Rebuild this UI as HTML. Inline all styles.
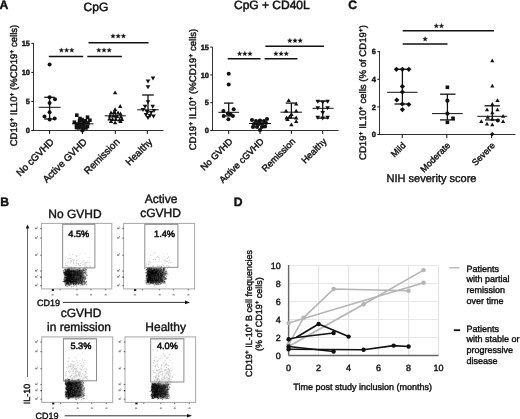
<!DOCTYPE html>
<html><head><meta charset="utf-8"><style>
html,body{margin:0;padding:0;background:#fff;}
svg{display:block;filter:grayscale(1);}
text{font-family:"Liberation Sans",sans-serif;text-rendering:geometricPrecision;stroke:#111;stroke-width:0.4px;}
</style></head><body>
<svg width="520" height="419" viewBox="0 0 520 419">
<defs><linearGradient id="cg" x1="0" x2="1" y1="0" y2="0"><stop offset="0" stop-color="#111"/><stop offset="0.6" stop-color="#1a1a1a"/><stop offset="1" stop-color="#555"/></linearGradient><filter id="bl" x="-30%" y="-30%" width="160%" height="160%"><feGaussianBlur stdDeviation="0.8"/></filter><filter id="bl2" x="-30%" y="-30%" width="160%" height="160%"><feGaussianBlur stdDeviation="1.3"/></filter></defs>
<rect width="520" height="419" fill="#fff"/>
<text x="-0.6" y="8.7" font-size="12.2" text-anchor="start" font-weight="bold" fill="#111" stroke="#000" stroke-width="0.35">A</text>
<text x="83.6" y="10.8" font-size="12" text-anchor="start" fill="#111" style="stroke-width:0.5px">CpG</text>
<line x1="33.5" y1="43" x2="33.5" y2="131.0" stroke="#333" stroke-width="1.0"/>
<line x1="33.0" y1="130.5" x2="163.5" y2="130.5" stroke="#333" stroke-width="1.0"/>
<line x1="31.3" y1="130.5" x2="33.5" y2="130.5" stroke="#111" stroke-width="1"/>
<text x="30.0" y="133.1" font-size="7.5" text-anchor="end" font-weight="bold" fill="#111">0</text>
<line x1="31.3" y1="101.45" x2="33.5" y2="101.45" stroke="#111" stroke-width="1"/>
<text x="30.0" y="104.05" font-size="7.5" text-anchor="end" font-weight="bold" fill="#111">5</text>
<line x1="31.3" y1="72.4" x2="33.5" y2="72.4" stroke="#111" stroke-width="1"/>
<text x="30.0" y="75.0" font-size="7.5" text-anchor="end" font-weight="bold" fill="#111">10</text>
<line x1="31.3" y1="43.35000000000001" x2="33.5" y2="43.35000000000001" stroke="#111" stroke-width="1"/>
<text x="30.0" y="45.95000000000001" font-size="7.5" text-anchor="end" font-weight="bold" fill="#111">15</text>
<line x1="49.6" y1="130.5" x2="49.6" y2="134.0" stroke="#111" stroke-width="1"/>
<line x1="82.5" y1="130.5" x2="82.5" y2="134.0" stroke="#111" stroke-width="1"/>
<line x1="115.3" y1="130.5" x2="115.3" y2="134.0" stroke="#111" stroke-width="1"/>
<line x1="147.3" y1="130.5" x2="147.3" y2="134.0" stroke="#111" stroke-width="1"/>
<text x="17" y="85.5" font-size="9.6" text-anchor="middle" fill="#111" transform="rotate(-90 17 85.5)">CD19<tspan baseline-shift="super" font-size="70%">+</tspan> IL10<tspan baseline-shift="super" font-size="70%">+</tspan> (%CD19<tspan baseline-shift="super" font-size="70%">+</tspan> cells)</text>
<text x="54.6" y="142.5" font-size="9.8" text-anchor="end" fill="#111" transform="rotate(-45 54.6 142.5)">No cGVHD</text>
<text x="87.5" y="142.5" font-size="9.8" text-anchor="end" fill="#111" transform="rotate(-45 87.5 142.5)">Active GVHD</text>
<text x="120.3" y="142.5" font-size="9.8" text-anchor="end" fill="#111" transform="rotate(-45 120.3 142.5)">Remission</text>
<text x="153" y="142.5" font-size="9.8" text-anchor="end" fill="#111" transform="rotate(-45 153 142.5)">Healthy</text>
<line x1="48.8" y1="56.5" x2="83.2" y2="56.5" stroke="#111" stroke-width="1.5"/>
<polygon points="61.40,47.85 60.78,49.45 59.07,49.54 60.40,50.62 59.96,52.28 61.40,51.35 62.84,52.28 62.40,50.62 63.73,49.54 62.02,49.45" fill="#111" stroke="#111" stroke-width="0.3" stroke-linejoin="round"/>
<polygon points="66.60,47.85 65.98,49.45 64.27,49.54 65.60,50.62 65.16,52.28 66.60,51.35 68.04,52.28 67.60,50.62 68.93,49.54 67.22,49.45" fill="#111" stroke="#111" stroke-width="0.3" stroke-linejoin="round"/>
<polygon points="71.80,47.85 71.18,49.45 69.47,49.54 70.80,50.62 70.36,52.28 71.80,51.35 73.24,52.28 72.80,50.62 74.13,49.54 72.42,49.45" fill="#111" stroke="#111" stroke-width="0.3" stroke-linejoin="round"/>
<line x1="87.3" y1="56.5" x2="121.9" y2="56.5" stroke="#111" stroke-width="1.5"/>
<polygon points="98.80,47.85 98.18,49.45 96.47,49.54 97.80,50.62 97.36,52.28 98.80,51.35 100.24,52.28 99.80,50.62 101.13,49.54 99.42,49.45" fill="#111" stroke="#111" stroke-width="0.3" stroke-linejoin="round"/>
<polygon points="104.00,47.85 103.38,49.45 101.67,49.54 103.00,50.62 102.56,52.28 104.00,51.35 105.44,52.28 105.00,50.62 106.33,49.54 104.62,49.45" fill="#111" stroke="#111" stroke-width="0.3" stroke-linejoin="round"/>
<polygon points="109.20,47.85 108.58,49.45 106.87,49.54 108.20,50.62 107.76,52.28 109.20,51.35 110.64,52.28 110.20,50.62 111.53,49.54 109.82,49.45" fill="#111" stroke="#111" stroke-width="0.3" stroke-linejoin="round"/>
<line x1="88.5" y1="42.7" x2="148.5" y2="42.7" stroke="#111" stroke-width="1.5"/>
<polygon points="113.00,33.65 112.38,35.25 110.67,35.34 112.00,36.42 111.56,38.08 113.00,37.15 114.44,38.08 114.00,36.42 115.33,35.34 113.62,35.25" fill="#111" stroke="#111" stroke-width="0.3" stroke-linejoin="round"/>
<polygon points="118.20,33.65 117.58,35.25 115.87,35.34 117.20,36.42 116.76,38.08 118.20,37.15 119.64,38.08 119.20,36.42 120.53,35.34 118.82,35.25" fill="#111" stroke="#111" stroke-width="0.3" stroke-linejoin="round"/>
<polygon points="123.40,33.65 122.78,35.25 121.07,35.34 122.40,36.42 121.96,38.08 123.40,37.15 124.84,38.08 124.40,36.42 125.73,35.34 124.02,35.25" fill="#111" stroke="#111" stroke-width="0.3" stroke-linejoin="round"/>
<circle cx="49.6" cy="64.6" r="2" fill="#111"/>
<circle cx="49.6" cy="97.3" r="2" fill="#111"/>
<circle cx="55" cy="99.3" r="2" fill="#111"/>
<circle cx="49.6" cy="102.9" r="2" fill="#111"/>
<circle cx="49.6" cy="112.2" r="2" fill="#111"/>
<circle cx="44.5" cy="116.6" r="2" fill="#111"/>
<circle cx="49.6" cy="119.4" r="2" fill="#111"/>
<circle cx="54.7" cy="118.4" r="2" fill="#111"/>
<line x1="49.6" y1="97.3" x2="49.6" y2="119" stroke="#111" stroke-width="1.3"/>
<line x1="44.3" y1="97.3" x2="54.7" y2="97.3" stroke="#111" stroke-width="1.3"/>
<line x1="44.3" y1="119" x2="54.7" y2="119" stroke="#111" stroke-width="1.3"/>
<line x1="38.8" y1="107.3" x2="60.6" y2="107.3" stroke="#111" stroke-width="1.0"/>
<rect x="75.0" y="113.4" width="3.6" height="3.6" fill="#111"/>
<rect x="85.7" y="115.4" width="3.6" height="3.6" fill="#111"/>
<rect x="88.10000000000001" y="118.4" width="3.6" height="3.6" fill="#111"/>
<rect x="72.60000000000001" y="120.4" width="3.6" height="3.6" fill="#111"/>
<rect x="80.3" y="117.8" width="3.6" height="3.6" fill="#111"/>
<rect x="76.2" y="122.2" width="3.6" height="3.6" fill="#111"/>
<rect x="78.2" y="125.2" width="3.6" height="3.6" fill="#111"/>
<rect x="82.2" y="123.2" width="3.6" height="3.6" fill="#111"/>
<rect x="84.2" y="126.2" width="3.6" height="3.6" fill="#111"/>
<rect x="74.7" y="125.7" width="3.6" height="3.6" fill="#111"/>
<rect x="86.2" y="121.2" width="3.6" height="3.6" fill="#111"/>
<rect x="81.2" y="119.7" width="3.6" height="3.6" fill="#111"/>
<rect x="77.7" y="119.2" width="3.6" height="3.6" fill="#111"/>
<rect x="83.7" y="119.0" width="3.6" height="3.6" fill="#111"/>
<rect x="79.2" y="122.7" width="3.6" height="3.6" fill="#111"/>
<rect x="76.7" y="126.0" width="3.6" height="3.6" fill="#111"/>
<rect x="81.2" y="126.2" width="3.6" height="3.6" fill="#111"/>
<rect x="85.7" y="124.7" width="3.6" height="3.6" fill="#111"/>
<rect x="82.7" y="120.7" width="3.6" height="3.6" fill="#111"/>
<rect x="78.2" y="116.7" width="3.6" height="3.6" fill="#111"/>
<rect x="74.7" y="122.7" width="3.6" height="3.6" fill="#111"/>
<circle cx="82.4" cy="130.3" r="2.2" fill="#111"/>
<line x1="72" y1="123.8" x2="93.5" y2="123.8" stroke="#111" stroke-width="1.0"/>
<polygon points="112.89999999999999,94.214 117.3,94.214 115.1,90.386" fill="#111"/>
<polygon points="118.0,107.914 122.4,107.914 120.2,104.086" fill="#111"/>
<polygon points="112.89999999999999,111.114 117.3,111.114 115.1,107.286" fill="#111"/>
<polygon points="108.8,114.414 113.2,114.414 111,110.586" fill="#111"/>
<polygon points="111.8,113.914 116.2,113.914 114,110.086" fill="#111"/>
<polygon points="115.8,114.414 120.2,114.414 118,110.586" fill="#111"/>
<polygon points="118.3,115.414 122.7,115.414 120.5,111.586" fill="#111"/>
<polygon points="107.8,117.414 112.2,117.414 110,113.586" fill="#111"/>
<polygon points="111.3,117.414 115.7,117.414 113.5,113.586" fill="#111"/>
<polygon points="114.8,117.914 119.2,117.914 117,114.086" fill="#111"/>
<polygon points="118.8,118.414 123.2,118.414 121,114.586" fill="#111"/>
<polygon points="107.3,120.414 111.7,120.414 109.5,116.586" fill="#111"/>
<polygon points="110.3,120.914 114.7,120.914 112.5,117.086" fill="#111"/>
<polygon points="113.8,120.914 118.2,120.914 116,117.086" fill="#111"/>
<polygon points="117.3,121.414 121.7,121.414 119.5,117.586" fill="#111"/>
<polygon points="119.8,120.914 124.2,120.914 122,117.086" fill="#111"/>
<polygon points="108.8,122.914 113.2,122.914 111,119.086" fill="#111"/>
<polygon points="112.89999999999999,124.31400000000001 117.3,124.31400000000001 115.1,120.486" fill="#111"/>
<polygon points="118.3,122.914 122.7,122.914 120.5,119.086" fill="#111"/>
<line x1="104.7" y1="115.8" x2="125.8" y2="115.8" stroke="#111" stroke-width="1.0"/>
<line x1="115.3" y1="111" x2="115.3" y2="120" stroke="#111" stroke-width="1.2"/>
<polygon points="150.7,76.59899999999999 155.3,76.59899999999999 153,80.601" fill="#111"/>
<polygon points="145.7,79.399 150.3,79.399 148,83.40100000000001" fill="#111"/>
<polygon points="145.7,85.199 150.3,85.199 148,89.20100000000001" fill="#111"/>
<polygon points="142.79999999999998,104.79899999999999 147.4,104.79899999999999 145.1,108.801" fill="#111"/>
<polygon points="150.39999999999998,104.79899999999999 155.0,104.79899999999999 152.7,108.801" fill="#111"/>
<polygon points="145.7,100.199 150.3,100.199 148,104.20100000000001" fill="#111"/>
<polygon points="140.7,107.999 145.3,107.999 143,112.001" fill="#111"/>
<polygon points="144.7,109.999 149.3,109.999 147,114.001" fill="#111"/>
<polygon points="148.7,110.999 153.3,110.999 151,115.001" fill="#111"/>
<polygon points="151.7,108.999 156.3,108.999 154,113.001" fill="#111"/>
<polygon points="143.7,112.999 148.3,112.999 146,117.001" fill="#111"/>
<polygon points="147.7,113.999 152.3,113.999 150,118.001" fill="#111"/>
<polygon points="151.2,114.499 155.8,114.499 153.5,118.501" fill="#111"/>
<polygon points="145.7,115.999 150.3,115.999 148,120.001" fill="#111"/>
<line x1="148" y1="95" x2="148" y2="113" stroke="#111" stroke-width="1.3"/>
<line x1="142.2" y1="95" x2="153.7" y2="95" stroke="#111" stroke-width="1.3"/>
<line x1="137.2" y1="109.8" x2="158.7" y2="109.8" stroke="#111" stroke-width="1.0"/>
<text x="234" y="9.3" font-size="12" text-anchor="start" fill="#111" style="stroke-width:0.5px">CpG + CD40L</text>
<line x1="212.5" y1="47" x2="212.5" y2="131.0" stroke="#333" stroke-width="1.0"/>
<line x1="212.0" y1="130.5" x2="338.5" y2="130.5" stroke="#333" stroke-width="1.0"/>
<line x1="210.3" y1="130.5" x2="212.5" y2="130.5" stroke="#111" stroke-width="1"/>
<text x="209.0" y="133.1" font-size="7.5" text-anchor="end" font-weight="bold" fill="#111">0</text>
<line x1="210.3" y1="102.7" x2="212.5" y2="102.7" stroke="#111" stroke-width="1"/>
<text x="209.0" y="105.3" font-size="7.5" text-anchor="end" font-weight="bold" fill="#111">5</text>
<line x1="210.3" y1="74.9" x2="212.5" y2="74.9" stroke="#111" stroke-width="1"/>
<text x="209.0" y="77.5" font-size="7.5" text-anchor="end" font-weight="bold" fill="#111">10</text>
<line x1="210.3" y1="47.10000000000001" x2="212.5" y2="47.10000000000001" stroke="#111" stroke-width="1"/>
<text x="209.0" y="49.70000000000001" font-size="7.5" text-anchor="end" font-weight="bold" fill="#111">15</text>
<line x1="228.7" y1="130.5" x2="228.7" y2="134.0" stroke="#111" stroke-width="1"/>
<line x1="260" y1="130.5" x2="260" y2="134.0" stroke="#111" stroke-width="1"/>
<line x1="291.4" y1="130.5" x2="291.4" y2="134.0" stroke="#111" stroke-width="1"/>
<line x1="322.7" y1="130.5" x2="322.7" y2="134.0" stroke="#111" stroke-width="1"/>
<text x="196.3" y="89.5" font-size="9.6" text-anchor="middle" fill="#111" transform="rotate(-90 196.3 89.5)">CD19<tspan baseline-shift="super" font-size="70%">+</tspan> IL10<tspan baseline-shift="super" font-size="70%">+</tspan> (%CD19<tspan baseline-shift="super" font-size="70%">+</tspan> cells)</text>
<text x="233.2" y="142.0" font-size="9.2" text-anchor="end" fill="#111" transform="rotate(-45 233.2 142.0)">No GVHD</text>
<text x="264.5" y="142.0" font-size="9.2" text-anchor="end" fill="#111" transform="rotate(-45 264.5 142.0)">Active cGVHD</text>
<text x="295.9" y="142.0" font-size="9.2" text-anchor="end" fill="#111" transform="rotate(-45 295.9 142.0)">Remission</text>
<text x="327.2" y="142.0" font-size="9.2" text-anchor="end" fill="#111" transform="rotate(-45 327.2 142.0)">Healthy</text>
<line x1="227.7" y1="58.8" x2="260.5" y2="58.8" stroke="#111" stroke-width="1.5"/>
<polygon points="239.60,51.35 238.98,52.95 237.27,53.04 238.60,54.12 238.16,55.78 239.60,54.85 241.04,55.78 240.60,54.12 241.93,53.04 240.22,52.95" fill="#111" stroke="#111" stroke-width="0.3" stroke-linejoin="round"/>
<polygon points="244.80,51.35 244.18,52.95 242.47,53.04 243.80,54.12 243.36,55.78 244.80,54.85 246.24,55.78 245.80,54.12 247.13,53.04 245.42,52.95" fill="#111" stroke="#111" stroke-width="0.3" stroke-linejoin="round"/>
<polygon points="250.00,51.35 249.38,52.95 247.67,53.04 249.00,54.12 248.56,55.78 250.00,54.85 251.44,55.78 251.00,54.12 252.33,53.04 250.62,52.95" fill="#111" stroke="#111" stroke-width="0.3" stroke-linejoin="round"/>
<line x1="264.6" y1="58.8" x2="297.4" y2="58.8" stroke="#111" stroke-width="1.5"/>
<polygon points="275.90,51.35 275.28,52.95 273.57,53.04 274.90,54.12 274.46,55.78 275.90,54.85 277.34,55.78 276.90,54.12 278.23,53.04 276.52,52.95" fill="#111" stroke="#111" stroke-width="0.3" stroke-linejoin="round"/>
<polygon points="281.10,51.35 280.48,52.95 278.77,53.04 280.10,54.12 279.66,55.78 281.10,54.85 282.54,55.78 282.10,54.12 283.43,53.04 281.72,52.95" fill="#111" stroke="#111" stroke-width="0.3" stroke-linejoin="round"/>
<polygon points="286.30,51.35 285.68,52.95 283.97,53.04 285.30,54.12 284.86,55.78 286.30,54.85 287.74,55.78 287.30,54.12 288.63,53.04 286.92,52.95" fill="#111" stroke="#111" stroke-width="0.3" stroke-linejoin="round"/>
<line x1="265.3" y1="46.2" x2="323.9" y2="46.2" stroke="#111" stroke-width="1.5"/>
<polygon points="289.80,38.25 289.18,39.85 287.47,39.94 288.80,41.02 288.36,42.68 289.80,41.75 291.24,42.68 290.80,41.02 292.13,39.94 290.42,39.85" fill="#111" stroke="#111" stroke-width="0.3" stroke-linejoin="round"/>
<polygon points="295.00,38.25 294.38,39.85 292.67,39.94 294.00,41.02 293.56,42.68 295.00,41.75 296.44,42.68 296.00,41.02 297.33,39.94 295.62,39.85" fill="#111" stroke="#111" stroke-width="0.3" stroke-linejoin="round"/>
<polygon points="300.20,38.25 299.58,39.85 297.87,39.94 299.20,41.02 298.76,42.68 300.20,41.75 301.64,42.68 301.20,41.02 302.53,39.94 300.82,39.85" fill="#111" stroke="#111" stroke-width="0.3" stroke-linejoin="round"/>
<circle cx="228.7" cy="73.7" r="2" fill="#111"/>
<circle cx="228.7" cy="84.6" r="2" fill="#111"/>
<circle cx="233.7" cy="109.3" r="2" fill="#111"/>
<circle cx="223.4" cy="111" r="2" fill="#111"/>
<circle cx="227.9" cy="113.5" r="2" fill="#111"/>
<circle cx="223.7" cy="116" r="2" fill="#111"/>
<circle cx="232.9" cy="116" r="2" fill="#111"/>
<circle cx="228.4" cy="119.3" r="2" fill="#111"/>
<circle cx="230.5" cy="114" r="2" fill="#111"/>
<line x1="228.7" y1="103.1" x2="228.7" y2="116" stroke="#111" stroke-width="1.3"/>
<line x1="224" y1="103.1" x2="233.4" y2="103.1" stroke="#111" stroke-width="1.3"/>
<line x1="224" y1="116" x2="233.4" y2="116" stroke="#111" stroke-width="1.2"/>
<line x1="218.4" y1="112.3" x2="239.1" y2="112.3" stroke="#111" stroke-width="1.0"/>
<circle cx="252" cy="120" r="2.1" fill="#111"/>
<circle cx="256" cy="121" r="2.1" fill="#111"/>
<circle cx="260" cy="120.5" r="2.1" fill="#111"/>
<circle cx="264" cy="121" r="2.1" fill="#111"/>
<circle cx="267" cy="119" r="2.1" fill="#111"/>
<circle cx="254" cy="124" r="2.1" fill="#111"/>
<circle cx="258" cy="124.5" r="2.1" fill="#111"/>
<circle cx="262" cy="124" r="2.1" fill="#111"/>
<circle cx="266" cy="123" r="2.1" fill="#111"/>
<circle cx="253" cy="127" r="2.1" fill="#111"/>
<circle cx="257" cy="127" r="2.1" fill="#111"/>
<circle cx="262" cy="127" r="2.1" fill="#111"/>
<circle cx="265" cy="126.5" r="2.1" fill="#111"/>
<circle cx="259" cy="122.5" r="2.1" fill="#111"/>
<circle cx="260" cy="130" r="2.1" fill="#111"/>
<line x1="249" y1="123.5" x2="271" y2="123.5" stroke="#111" stroke-width="1.0"/>
<polygon points="286.5,102.114 290.9,102.114 288.7,98.286" fill="#111"/>
<polygon points="294.0,105.614 298.4,105.614 296.2,101.786" fill="#111"/>
<polygon points="283.90000000000003,112.614 288.3,112.614 286.1,108.786" fill="#111"/>
<polygon points="294.0,112.614 298.4,112.614 296.2,108.786" fill="#111"/>
<polygon points="284.40000000000003,119.414 288.8,119.414 286.6,115.586" fill="#111"/>
<polygon points="287.3,118.414 291.7,118.414 289.5,114.586" fill="#111"/>
<polygon points="289.2,115.914 293.59999999999997,115.914 291.4,112.086" fill="#111"/>
<polygon points="294.0,119.414 298.4,119.414 296.2,115.586" fill="#111"/>
<polygon points="294.0,123.014 298.4,123.014 296.2,119.18599999999999" fill="#111"/>
<polygon points="289.2,126.214 293.59999999999997,126.214 291.4,122.386" fill="#111"/>
<polygon points="285.3,120.914 289.7,120.914 287.5,117.086" fill="#111"/>
<line x1="291.4" y1="103.1" x2="291.4" y2="118.1" stroke="#111" stroke-width="1.3"/>
<line x1="285.7" y1="103.1" x2="296.8" y2="103.1" stroke="#111" stroke-width="1.3"/>
<line x1="285.7" y1="118.1" x2="296.8" y2="118.1" stroke="#111" stroke-width="1.3"/>
<line x1="280.5" y1="112.2" x2="302.1" y2="112.2" stroke="#111" stroke-width="1.0"/>
<polygon points="315.5,99.79899999999999 320.1,99.79899999999999 317.8,103.801" fill="#111"/>
<polygon points="320.4,100.499 325.0,100.499 322.7,104.501" fill="#111"/>
<polygon points="325.3,99.79899999999999 329.90000000000003,99.79899999999999 327.6,103.801" fill="#111"/>
<polygon points="315.5,106.29899999999999 320.1,106.29899999999999 317.8,110.301" fill="#111"/>
<polygon points="325.3,106.29899999999999 329.90000000000003,106.29899999999999 327.6,110.301" fill="#111"/>
<polygon points="320.4,110.999 325.0,110.999 322.7,115.001" fill="#111"/>
<polygon points="315.5,115.699 320.1,115.699 317.8,119.70100000000001" fill="#111"/>
<polygon points="320.4,116.499 325.0,116.499 322.7,120.501" fill="#111"/>
<polygon points="325.3,115.699 329.90000000000003,115.699 327.6,119.70100000000001" fill="#111"/>
<line x1="322.7" y1="101.1" x2="322.7" y2="118.1" stroke="#111" stroke-width="1.3"/>
<line x1="316.5" y1="101.1" x2="328.9" y2="101.1" stroke="#111" stroke-width="1.3"/>
<line x1="316.5" y1="118.1" x2="328.9" y2="118.1" stroke="#111" stroke-width="1.3"/>
<line x1="312.5" y1="108.3" x2="333.5" y2="108.3" stroke="#111" stroke-width="1.0"/>
<text x="348.2" y="8.8" font-size="12.2" text-anchor="start" font-weight="bold" fill="#111" stroke="#000" stroke-width="0.35">C</text>
<line x1="379.5" y1="51" x2="379.5" y2="135.0" stroke="#333" stroke-width="1.0"/>
<line x1="379.0" y1="134.5" x2="515.5" y2="134.5" stroke="#333" stroke-width="1.0"/>
<line x1="377.3" y1="134.5" x2="379.5" y2="134.5" stroke="#111" stroke-width="1"/>
<text x="376.0" y="137.1" font-size="7.5" text-anchor="end" font-weight="bold" fill="#111">0</text>
<line x1="377.3" y1="106.9" x2="379.5" y2="106.9" stroke="#111" stroke-width="1"/>
<text x="376.0" y="109.5" font-size="7.5" text-anchor="end" font-weight="bold" fill="#111">2</text>
<line x1="377.3" y1="79.3" x2="379.5" y2="79.3" stroke="#111" stroke-width="1"/>
<text x="376.0" y="81.89999999999999" font-size="7.5" text-anchor="end" font-weight="bold" fill="#111">4</text>
<line x1="377.3" y1="51.69999999999999" x2="379.5" y2="51.69999999999999" stroke="#111" stroke-width="1"/>
<text x="376.0" y="54.29999999999999" font-size="7.5" text-anchor="end" font-weight="bold" fill="#111">6</text>
<line x1="402.3" y1="134.5" x2="402.3" y2="138.0" stroke="#111" stroke-width="1"/>
<line x1="446.8" y1="134.5" x2="446.8" y2="138.0" stroke="#111" stroke-width="1"/>
<line x1="491.6" y1="134.5" x2="491.6" y2="138.0" stroke="#111" stroke-width="1"/>
<text x="365.5" y="92.5" font-size="9.6" text-anchor="middle" fill="#111" transform="rotate(-90 365.5 92.5)">CD19<tspan baseline-shift="super" font-size="70%">+</tspan> IL10<tspan baseline-shift="super" font-size="70%">+</tspan> cells (% of CD19<tspan baseline-shift="super" font-size="70%">+</tspan>)</text>
<text x="406.3" y="146.0" font-size="9" text-anchor="end" fill="#111" transform="rotate(-45 406.3 146.0)">Mild</text>
<text x="450.8" y="146.0" font-size="9" text-anchor="end" fill="#111" transform="rotate(-45 450.8 146.0)">Moderate</text>
<text x="495.6" y="146.0" font-size="9" text-anchor="end" fill="#111" transform="rotate(-45 495.6 146.0)">Severe</text>
<text x="431.5" y="182" font-size="11" text-anchor="middle" fill="#111">NIH severity score</text>
<line x1="402.7" y1="30.75" x2="494" y2="30.75" stroke="#111" stroke-width="1.5"/>
<polygon points="436.30,23.55 435.68,25.15 433.97,25.24 435.30,26.32 434.86,27.98 436.30,27.05 437.74,27.98 437.30,26.32 438.63,25.24 436.92,25.15" fill="#111" stroke="#111" stroke-width="0.3" stroke-linejoin="round"/>
<polygon points="441.50,23.55 440.88,25.15 439.17,25.24 440.50,26.32 440.06,27.98 441.50,27.05 442.94,27.98 442.50,26.32 443.83,25.24 442.12,25.15" fill="#111" stroke="#111" stroke-width="0.3" stroke-linejoin="round"/>
<line x1="402.7" y1="43.9" x2="447.5" y2="43.9" stroke="#111" stroke-width="1.5"/>
<polygon points="425.10,36.65 424.48,38.25 422.77,38.34 424.10,39.42 423.66,41.08 425.10,40.15 426.54,41.08 426.10,39.42 427.43,38.34 425.72,38.25" fill="#111" stroke="#111" stroke-width="0.3" stroke-linejoin="round"/>
<polygon points="396.4,66.7 399.0,69.3 396.4,71.89999999999999 393.79999999999995,69.3" fill="#111"/>
<polygon points="402.4,66.7 405.0,69.3 402.4,71.89999999999999 399.79999999999995,69.3" fill="#111"/>
<polygon points="408.8,66.7 411.40000000000003,69.3 408.8,71.89999999999999 406.2,69.3" fill="#111"/>
<polygon points="402.4,83.80000000000001 405.0,86.4 402.4,89.0 399.79999999999995,86.4" fill="#111"/>
<polygon points="402.4,89.4 405.0,92 402.4,94.6 399.79999999999995,92" fill="#111"/>
<polygon points="396.8,97.4 399.40000000000003,100 396.8,102.6 394.2,100" fill="#111"/>
<polygon points="408.8,101.9 411.40000000000003,104.5 408.8,107.1 406.2,104.5" fill="#111"/>
<polygon points="402.4,107.0 405.0,109.6 402.4,112.19999999999999 399.79999999999995,109.6" fill="#111"/>
<polygon points="402.4,101.4 405.0,104 402.4,106.6 399.79999999999995,104" fill="#111"/>
<line x1="402.4" y1="69.3" x2="402.4" y2="104" stroke="#111" stroke-width="1.3"/>
<line x1="396" y1="69.3" x2="409" y2="69.3" stroke="#111" stroke-width="1.3"/>
<line x1="394.5" y1="104" x2="408.8" y2="104" stroke="#111" stroke-width="1.3"/>
<line x1="387.1" y1="92.3" x2="417.5" y2="92.3" stroke="#111" stroke-width="1.0"/>
<rect x="445.59999999999997" y="85.5" width="3.6" height="3.6" fill="#111"/>
<circle cx="447.4" cy="100.7" r="2.1" fill="#111"/>
<circle cx="447.4" cy="113.6" r="2.1" fill="#111"/>
<rect x="451.2" y="116.5" width="3.6" height="3.6" fill="#111"/>
<rect x="445.59999999999997" y="120.5" width="3.6" height="3.6" fill="#111"/>
<line x1="447.4" y1="94.2" x2="447.4" y2="119.9" stroke="#111" stroke-width="1.3"/>
<line x1="440.1" y1="94.2" x2="455.5" y2="94.2" stroke="#111" stroke-width="1.3"/>
<line x1="440" y1="119.9" x2="455" y2="119.9" stroke="#111" stroke-width="1.3"/>
<line x1="432" y1="113.6" x2="462.7" y2="113.6" stroke="#111" stroke-width="1.0"/>
<polygon points="490.2,62.126999999999995 494.40000000000003,62.126999999999995 492.3,58.473" fill="#111"/>
<polygon points="490.2,87.527 494.40000000000003,87.527 492.3,83.873" fill="#111"/>
<polygon points="495.4,102.027 499.6,102.027 497.5,98.373" fill="#111"/>
<polygon points="490.2,105.727 494.40000000000003,105.727 492.3,102.07300000000001" fill="#111"/>
<polygon points="484.9,111.227 489.1,111.227 487,107.57300000000001" fill="#111"/>
<polygon points="495.4,111.227 499.6,111.227 497.5,107.57300000000001" fill="#111"/>
<polygon points="490.2,114.127 494.40000000000003,114.127 492.3,110.473" fill="#111"/>
<polygon points="485.7,118.627 489.90000000000003,118.627 487.8,114.973" fill="#111"/>
<polygon points="501.0,117.727 505.20000000000005,117.727 503.1,114.07300000000001" fill="#111"/>
<polygon points="479.2,123.027 483.40000000000003,123.027 481.3,119.373" fill="#111"/>
<polygon points="484.9,125.42699999999999 489.1,125.42699999999999 487,121.773" fill="#111"/>
<polygon points="490.2,126.227 494.40000000000003,126.227 492.3,122.57300000000001" fill="#111"/>
<polygon points="501.0,123.027 505.20000000000005,123.027 503.1,119.373" fill="#111"/>
<polygon points="490.2,120.627 494.40000000000003,120.627 492.3,116.973" fill="#111"/>
<circle cx="497.8" cy="120.4" r="2" fill="#111"/>
<polygon points="492.3,131.9 494.5,134.1 492.3,136.29999999999998 490.1,134.1" fill="#111"/>
<line x1="492.3" y1="105.8" x2="492.3" y2="119.9" stroke="#111" stroke-width="1.3"/>
<line x1="484.5" y1="105.8" x2="499.9" y2="105.8" stroke="#111" stroke-width="1.3"/>
<line x1="485" y1="119.9" x2="499.5" y2="119.9" stroke="#111" stroke-width="1.3"/>
<line x1="477.3" y1="116.3" x2="507.2" y2="116.3" stroke="#111" stroke-width="1.0"/>
<text x="0.3" y="205.8" font-size="12.2" text-anchor="start" font-weight="bold" fill="#111" stroke="#000" stroke-width="0.35">B</text>
<line x1="27.5" y1="228" x2="27.5" y2="377" stroke="#666" stroke-width="1"/>
<polygon points="27.5,224.5 25.7,228.5 29.3,228.5" fill="#111"/>
<text x="30" y="394" font-size="9" text-anchor="middle" fill="#111" transform="rotate(-90 30 394)">IL-10</text>
<text x="75" y="217.5" font-size="12" text-anchor="middle" fill="#111">No GVHD</text>
<text x="161" y="202.5" font-size="12" text-anchor="middle" fill="#111">Active</text>
<text x="160.5" y="217" font-size="12" text-anchor="middle" fill="#111">cGVHD</text>
<text x="81" y="317" font-size="12" text-anchor="middle" fill="#111">cGVHD</text>
<text x="79" y="331.2" font-size="12" text-anchor="middle" fill="#111">in remission</text>
<text x="165.7" y="331.2" font-size="12" text-anchor="middle" fill="#111">Healthy</text>
<rect x="41.5" y="223.4" width="70.3" height="65.5" fill="none" stroke="#a8a8a8" stroke-width="1"/>
<rect x="70.3" y="258.2" width="0.9" height="0.9" fill="#b8b8b8"/>
<rect x="68.6" y="260.0" width="0.9" height="0.9" fill="#dadada"/>
<rect x="84.4" y="267.0" width="0.9" height="0.9" fill="#dadada"/>
<rect x="75.8" y="267.4" width="0.9" height="0.9" fill="#dadada"/>
<rect x="72.5" y="259.0" width="0.9" height="0.9" fill="#c0c0c0"/>
<rect x="87.0" y="267.6" width="0.9" height="0.9" fill="#c8c8c8"/>
<rect x="67.6" y="260.7" width="0.9" height="0.9" fill="#dadada"/>
<rect x="80.1" y="265.8" width="0.9" height="0.9" fill="#dadada"/>
<rect x="77.3" y="259.2" width="0.9" height="0.9" fill="#dadada"/>
<rect x="89.3" y="264.7" width="0.9" height="0.9" fill="#c8c8c8"/>
<rect x="88.9" y="262.1" width="0.9" height="0.9" fill="#b8b8b8"/>
<rect x="67.3" y="258.2" width="0.9" height="0.9" fill="#c8c8c8"/>
<rect x="85.0" y="261.7" width="0.9" height="0.9" fill="#d0d0d0"/>
<rect x="70.1" y="260.3" width="0.9" height="0.9" fill="#c8c8c8"/>
<rect x="75.9" y="261.5" width="0.9" height="0.9" fill="#dadada"/>
<rect x="76.2" y="260.1" width="0.9" height="0.9" fill="#b8b8b8"/>
<rect x="67.3" y="265.0" width="0.9" height="0.9" fill="#d0d0d0"/>
<rect x="76.5" y="262.9" width="0.9" height="0.9" fill="#c0c0c0"/>
<rect x="75.6" y="255.2" width="0.9" height="0.9" fill="#c8c8c8"/>
<rect x="78.8" y="265.2" width="0.9" height="0.9" fill="#c8c8c8"/>
<rect x="72.0" y="267.5" width="0.9" height="0.9" fill="#c8c8c8"/>
<rect x="67.4" y="266.4" width="0.9" height="0.9" fill="#c8c8c8"/>
<rect x="75.8" y="262.4" width="0.9" height="0.9" fill="#c8c8c8"/>
<rect x="90.6" y="267.5" width="0.9" height="0.9" fill="#c8c8c8"/>
<rect x="82.6" y="266.8" width="0.9" height="0.9" fill="#dadada"/>
<rect x="86.4" y="267.1" width="0.9" height="0.9" fill="#c8c8c8"/>
<rect x="68.6" y="267.7" width="0.9" height="0.9" fill="#b8b8b8"/>
<rect x="77.2" y="267.8" width="0.9" height="0.9" fill="#c8c8c8"/>
<rect x="71.2" y="260.5" width="0.9" height="0.9" fill="#d0d0d0"/>
<rect x="78.8" y="265.1" width="0.9" height="0.9" fill="#c8c8c8"/>
<rect x="84.7" y="263.0" width="0.9" height="0.9" fill="#c0c0c0"/>
<rect x="67.9" y="267.8" width="0.9" height="0.9" fill="#b8b8b8"/>
<rect x="73.1" y="261.7" width="0.9" height="0.9" fill="#b8b8b8"/>
<rect x="73.0" y="263.2" width="0.9" height="0.9" fill="#d0d0d0"/>
<rect x="80.3" y="263.2" width="0.9" height="0.9" fill="#b8b8b8"/>
<rect x="78.2" y="263.9" width="0.9" height="0.9" fill="#b8b8b8"/>
<rect x="75.8" y="264.8" width="0.9" height="0.9" fill="#c8c8c8"/>
<rect x="90.0" y="266.3" width="0.9" height="0.9" fill="#c0c0c0"/>
<rect x="70.6" y="266.8" width="0.9" height="0.9" fill="#d0d0d0"/>
<rect x="74.5" y="267.6" width="0.9" height="0.9" fill="#d0d0d0"/>
<rect x="86.9" y="260.0" width="0.9" height="0.9" fill="#dadada"/>
<rect x="70.0" y="262.3" width="0.9" height="0.9" fill="#c8c8c8"/>
<rect x="83.6" y="261.7" width="0.9" height="0.9" fill="#b8b8b8"/>
<rect x="68.7" y="265.8" width="0.9" height="0.9" fill="#c0c0c0"/>
<rect x="84.4" y="252.5" width="0.9" height="0.9" fill="#d0d0d0"/>
<rect x="75.4" y="267.0" width="0.9" height="0.9" fill="#c0c0c0"/>
<rect x="80.1" y="253.2" width="0.9" height="0.9" fill="#dadada"/>
<rect x="72.4" y="254.0" width="0.9" height="0.9" fill="#c8c8c8"/>
<rect x="76.6" y="263.4" width="0.9" height="0.9" fill="#d0d0d0"/>
<rect x="80.7" y="262.2" width="0.9" height="0.9" fill="#dadada"/>
<rect x="67.5" y="262.8" width="0.9" height="0.9" fill="#dadada"/>
<rect x="64.9" y="263.3" width="0.9" height="0.9" fill="#b8b8b8"/>
<rect x="66.5" y="262.0" width="0.9" height="0.9" fill="#c8c8c8"/>
<rect x="83.4" y="263.8" width="0.9" height="0.9" fill="#c0c0c0"/>
<rect x="86.5" y="265.2" width="0.9" height="0.9" fill="#c8c8c8"/>
<rect x="78.1" y="267.4" width="0.9" height="0.9" fill="#c0c0c0"/>
<rect x="69.3" y="254.4" width="0.9" height="0.9" fill="#d0d0d0"/>
<rect x="71.1" y="260.7" width="0.9" height="0.9" fill="#b8b8b8"/>
<rect x="73.6" y="263.0" width="0.9" height="0.9" fill="#c8c8c8"/>
<rect x="83.5" y="260.0" width="0.9" height="0.9" fill="#c8c8c8"/>
<rect x="78.9" y="266.7" width="0.9" height="0.9" fill="#c0c0c0"/>
<rect x="75.4" y="267.7" width="0.9" height="0.9" fill="#d0d0d0"/>
<rect x="71.7" y="259.8" width="0.9" height="0.9" fill="#dadada"/>
<rect x="65.6" y="265.1" width="0.9" height="0.9" fill="#b8b8b8"/>
<rect x="73.7" y="259.6" width="0.9" height="0.9" fill="#c0c0c0"/>
<rect x="75.9" y="255.8" width="0.9" height="0.9" fill="#b8b8b8"/>
<rect x="65.7" y="265.2" width="0.9" height="0.9" fill="#c0c0c0"/>
<rect x="85.2" y="263.5" width="0.9" height="0.9" fill="#c8c8c8"/>
<rect x="76.2" y="265.1" width="0.9" height="0.9" fill="#d0d0d0"/>
<rect x="70.3" y="261.7" width="0.9" height="0.9" fill="#dadada"/>
<rect x="81.8" y="264.5" width="0.9" height="0.9" fill="#c8c8c8"/>
<rect x="70.9" y="267.4" width="0.9" height="0.9" fill="#b8b8b8"/>
<rect x="70.9" y="266.6" width="0.9" height="0.9" fill="#b8b8b8"/>
<rect x="82.0" y="261.6" width="0.9" height="0.9" fill="#dadada"/>
<rect x="70.6" y="258.3" width="0.9" height="0.9" fill="#dadada"/>
<rect x="68.7" y="258.4" width="0.9" height="0.9" fill="#c8c8c8"/>
<rect x="84.5" y="266.6" width="0.9" height="0.9" fill="#d0d0d0"/>
<rect x="77.9" y="263.0" width="0.9" height="0.9" fill="#c0c0c0"/>
<rect x="86.9" y="261.7" width="0.9" height="0.9" fill="#c0c0c0"/>
<rect x="78.7" y="254.8" width="0.9" height="0.9" fill="#dadada"/>
<rect x="89.2" y="266.8" width="0.9" height="0.9" fill="#c8c8c8"/>
<rect x="86.1" y="261.9" width="0.9" height="0.9" fill="#c8c8c8"/>
<rect x="80.2" y="265.0" width="0.9" height="0.9" fill="#d0d0d0"/>
<rect x="66.2" y="265.2" width="0.9" height="0.9" fill="#c8c8c8"/>
<rect x="85.9" y="266.5" width="0.9" height="0.9" fill="#c0c0c0"/>
<rect x="72.9" y="260.0" width="0.9" height="0.9" fill="#d0d0d0"/>
<rect x="68.3" y="261.8" width="0.9" height="0.9" fill="#c8c8c8"/>
<rect x="89.0" y="257.2" width="0.9" height="0.9" fill="#d0d0d0"/>
<rect x="84.5" y="264.9" width="0.9" height="0.9" fill="#c8c8c8"/>
<rect x="84.5" y="265.7" width="0.9" height="0.9" fill="#d0d0d0"/>
<rect x="65.5" y="269.7" width="18.174" height="14.000000000000023" rx="2" fill="url(#cg)" filter="url(#bl2)"/>
<rect x="66.3" y="273.4" width="0.9" height="0.9" fill="#000" opacity="0.6"/>
<rect x="82.1" y="279.6" width="0.9" height="0.9" fill="#000" opacity="0.6"/>
<rect x="66.3" y="280.1" width="0.9" height="0.9" fill="#000" opacity="0.6"/>
<rect x="70.0" y="282.2" width="0.9" height="0.9" fill="#000" opacity="0.6"/>
<rect x="74.8" y="274.1" width="0.9" height="0.9" fill="#555" opacity="0.6"/>
<rect x="69.3" y="275.3" width="0.9" height="0.9" fill="#000" opacity="0.6"/>
<rect x="64.6" y="270.8" width="0.9" height="0.9" fill="#000" opacity="0.6"/>
<rect x="80.8" y="278.7" width="0.9" height="0.9" fill="#555" opacity="0.6"/>
<rect x="63.3" y="278.7" width="0.9" height="0.9" fill="#000" opacity="0.6"/>
<rect x="77.8" y="275.8" width="0.9" height="0.9" fill="#555" opacity="0.6"/>
<rect x="66.7" y="283.5" width="0.9" height="0.9" fill="#000" opacity="0.6"/>
<rect x="68.4" y="269.4" width="0.9" height="0.9" fill="#000" opacity="0.6"/>
<rect x="83.4" y="283.8" width="0.9" height="0.9" fill="#555" opacity="0.6"/>
<rect x="78.4" y="279.1" width="0.9" height="0.9" fill="#000" opacity="0.6"/>
<rect x="76.6" y="282.5" width="0.9" height="0.9" fill="#000" opacity="0.6"/>
<rect x="66.7" y="278.1" width="0.9" height="0.9" fill="#000" opacity="0.6"/>
<rect x="64.2" y="272.8" width="0.9" height="0.9" fill="#000" opacity="0.6"/>
<rect x="66.5" y="284.0" width="0.9" height="0.9" fill="#000" opacity="0.6"/>
<rect x="76.2" y="285.6" width="0.9" height="0.9" fill="#555" opacity="0.6"/>
<rect x="80.7" y="278.7" width="0.9" height="0.9" fill="#555" opacity="0.6"/>
<rect x="84.7" y="281.2" width="0.9" height="0.9" fill="#555" opacity="0.6"/>
<rect x="66.3" y="283.4" width="0.9" height="0.9" fill="#000" opacity="0.6"/>
<rect x="65.1" y="269.8" width="0.9" height="0.9" fill="#000" opacity="0.6"/>
<rect x="68.0" y="271.4" width="0.9" height="0.9" fill="#000" opacity="0.6"/>
<rect x="63.6" y="281.1" width="0.9" height="0.9" fill="#000" opacity="0.6"/>
<rect x="68.1" y="277.7" width="0.9" height="0.9" fill="#000" opacity="0.6"/>
<rect x="78.1" y="282.7" width="0.9" height="0.9" fill="#000" opacity="0.6"/>
<rect x="74.0" y="276.5" width="0.9" height="0.9" fill="#000" opacity="0.6"/>
<rect x="69.9" y="271.2" width="0.9" height="0.9" fill="#000" opacity="0.6"/>
<rect x="75.7" y="283.8" width="0.9" height="0.9" fill="#555" opacity="0.6"/>
<rect x="72.8" y="276.2" width="0.9" height="0.9" fill="#000" opacity="0.6"/>
<rect x="74.9" y="275.6" width="0.9" height="0.9" fill="#555" opacity="0.6"/>
<rect x="71.4" y="275.1" width="0.9" height="0.9" fill="#000" opacity="0.6"/>
<rect x="70.7" y="272.9" width="0.9" height="0.9" fill="#000" opacity="0.6"/>
<rect x="83.3" y="283.5" width="0.9" height="0.9" fill="#555" opacity="0.6"/>
<rect x="80.5" y="285.0" width="0.9" height="0.9" fill="#555" opacity="0.6"/>
<rect x="65.9" y="273.5" width="0.9" height="0.9" fill="#555" opacity="0.6"/>
<rect x="70.2" y="282.6" width="0.9" height="0.9" fill="#000" opacity="0.6"/>
<rect x="80.1" y="275.5" width="0.9" height="0.9" fill="#000" opacity="0.6"/>
<rect x="76.0" y="274.0" width="0.9" height="0.9" fill="#000" opacity="0.6"/>
<rect x="77.8" y="281.5" width="0.9" height="0.9" fill="#000" opacity="0.6"/>
<rect x="80.5" y="272.2" width="0.9" height="0.9" fill="#000" opacity="0.6"/>
<rect x="82.2" y="281.7" width="0.9" height="0.9" fill="#555" opacity="0.6"/>
<rect x="73.5" y="280.7" width="0.9" height="0.9" fill="#000" opacity="0.6"/>
<rect x="70.1" y="276.4" width="0.9" height="0.9" fill="#000" opacity="0.6"/>
<rect x="76.9" y="278.8" width="0.9" height="0.9" fill="#555" opacity="0.6"/>
<rect x="67.7" y="269.2" width="0.9" height="0.9" fill="#000" opacity="0.6"/>
<rect x="73.3" y="281.0" width="0.9" height="0.9" fill="#555" opacity="0.6"/>
<rect x="76.7" y="271.3" width="0.9" height="0.9" fill="#000" opacity="0.6"/>
<rect x="67.3" y="280.9" width="0.9" height="0.9" fill="#000" opacity="0.6"/>
<rect x="70.0" y="281.8" width="0.9" height="0.9" fill="#000" opacity="0.6"/>
<rect x="65.4" y="272.8" width="0.9" height="0.9" fill="#000" opacity="0.6"/>
<rect x="79.8" y="278.0" width="0.9" height="0.9" fill="#555" opacity="0.6"/>
<rect x="83.6" y="280.7" width="0.9" height="0.9" fill="#555" opacity="0.6"/>
<rect x="67.9" y="270.6" width="0.9" height="0.9" fill="#000" opacity="0.6"/>
<rect x="70.3" y="279.4" width="0.9" height="0.9" fill="#000" opacity="0.6"/>
<rect x="69.8" y="276.8" width="0.9" height="0.9" fill="#555" opacity="0.6"/>
<rect x="67.9" y="283.1" width="0.9" height="0.9" fill="#000" opacity="0.6"/>
<rect x="64.1" y="282.5" width="0.9" height="0.9" fill="#000" opacity="0.6"/>
<rect x="70.1" y="279.2" width="0.9" height="0.9" fill="#555" opacity="0.6"/>
<rect x="70.3" y="271.1" width="0.9" height="0.9" fill="#000" opacity="0.6"/>
<rect x="80.2" y="272.1" width="0.9" height="0.9" fill="#000" opacity="0.6"/>
<rect x="68.2" y="283.4" width="0.9" height="0.9" fill="#555" opacity="0.6"/>
<rect x="81.1" y="274.0" width="0.9" height="0.9" fill="#555" opacity="0.6"/>
<rect x="82.5" y="281.6" width="0.9" height="0.9" fill="#555" opacity="0.6"/>
<rect x="84.1" y="279.1" width="0.9" height="0.9" fill="#555" opacity="0.6"/>
<rect x="71.3" y="282.6" width="0.9" height="0.9" fill="#000" opacity="0.6"/>
<rect x="66.0" y="269.7" width="0.9" height="0.9" fill="#000" opacity="0.6"/>
<rect x="65.9" y="278.8" width="0.9" height="0.9" fill="#000" opacity="0.6"/>
<rect x="78.5" y="273.7" width="0.9" height="0.9" fill="#000" opacity="0.6"/>
<rect x="84.8" y="268.9" width="0.9" height="0.9" fill="#000" opacity="0.6"/>
<rect x="74.8" y="278.3" width="0.9" height="0.9" fill="#000" opacity="0.6"/>
<rect x="64.4" y="272.3" width="0.9" height="0.9" fill="#000" opacity="0.6"/>
<rect x="71.0" y="279.3" width="0.9" height="0.9" fill="#000" opacity="0.6"/>
<rect x="79.4" y="273.0" width="0.9" height="0.9" fill="#000" opacity="0.6"/>
<rect x="82.3" y="269.7" width="0.9" height="0.9" fill="#000" opacity="0.6"/>
<rect x="71.1" y="270.7" width="0.9" height="0.9" fill="#000" opacity="0.6"/>
<rect x="72.6" y="280.4" width="0.9" height="0.9" fill="#000" opacity="0.6"/>
<rect x="64.1" y="281.2" width="0.9" height="0.9" fill="#000" opacity="0.6"/>
<rect x="63.6" y="274.3" width="0.9" height="0.9" fill="#000" opacity="0.6"/>
<rect x="81.1" y="271.8" width="0.9" height="0.9" fill="#555" opacity="0.6"/>
<rect x="67.3" y="273.6" width="0.9" height="0.9" fill="#000" opacity="0.6"/>
<rect x="84.5" y="278.7" width="0.9" height="0.9" fill="#555" opacity="0.6"/>
<rect x="85.4" y="278.2" width="0.9" height="0.9" fill="#555" opacity="0.6"/>
<rect x="83.6" y="270.3" width="0.9" height="0.9" fill="#555" opacity="0.6"/>
<rect x="74.5" y="278.1" width="0.9" height="0.9" fill="#555" opacity="0.6"/>
<rect x="80.7" y="272.6" width="0.9" height="0.9" fill="#555" opacity="0.6"/>
<rect x="69.5" y="275.9" width="0.9" height="0.9" fill="#555" opacity="0.6"/>
<rect x="83.4" y="270.1" width="0.9" height="0.9" fill="#000" opacity="0.6"/>
<rect x="74.5" y="283.1" width="0.9" height="0.9" fill="#000" opacity="0.6"/>
<rect x="85.3" y="269.9" width="0.9" height="0.9" fill="#555" opacity="0.6"/>
<rect x="76.5" y="279.7" width="0.9" height="0.9" fill="#000" opacity="0.6"/>
<rect x="71.4" y="274.5" width="0.9" height="0.9" fill="#000" opacity="0.6"/>
<rect x="85.0" y="270.7" width="0.9" height="0.9" fill="#555" opacity="0.6"/>
<rect x="75.3" y="274.7" width="0.9" height="0.9" fill="#000" opacity="0.6"/>
<rect x="65.5" y="273.3" width="0.9" height="0.9" fill="#000" opacity="0.6"/>
<rect x="67.6" y="268.9" width="0.9" height="0.9" fill="#555" opacity="0.6"/>
<rect x="81.7" y="281.9" width="0.9" height="0.9" fill="#555" opacity="0.6"/>
<rect x="71.2" y="271.9" width="0.9" height="0.9" fill="#000" opacity="0.6"/>
<rect x="76.8" y="274.0" width="0.9" height="0.9" fill="#000" opacity="0.6"/>
<rect x="75.7" y="279.6" width="0.9" height="0.9" fill="#000" opacity="0.6"/>
<rect x="85.9" y="281.0" width="0.9" height="0.9" fill="#000" opacity="0.6"/>
<rect x="72.9" y="282.7" width="0.9" height="0.9" fill="#000" opacity="0.6"/>
<rect x="76.9" y="276.2" width="0.9" height="0.9" fill="#555" opacity="0.6"/>
<rect x="69.0" y="270.3" width="0.9" height="0.9" fill="#000" opacity="0.6"/>
<rect x="82.9" y="275.0" width="0.9" height="0.9" fill="#555" opacity="0.6"/>
<rect x="73.6" y="281.4" width="0.9" height="0.9" fill="#000" opacity="0.6"/>
<rect x="70.8" y="272.8" width="0.9" height="0.9" fill="#000" opacity="0.6"/>
<rect x="73.3" y="270.3" width="0.9" height="0.9" fill="#000" opacity="0.6"/>
<rect x="85.8" y="273.3" width="0.9" height="0.9" fill="#555" opacity="0.6"/>
<rect x="85.2" y="282.1" width="0.9" height="0.9" fill="#000" opacity="0.6"/>
<rect x="81.2" y="281.8" width="0.9" height="0.9" fill="#555" opacity="0.6"/>
<rect x="78.7" y="275.8" width="0.9" height="0.9" fill="#555" opacity="0.6"/>
<rect x="70.0" y="271.2" width="0.9" height="0.9" fill="#000" opacity="0.6"/>
<rect x="81.6" y="284.1" width="0.9" height="0.9" fill="#555" opacity="0.6"/>
<rect x="73.6" y="274.2" width="0.9" height="0.9" fill="#000" opacity="0.6"/>
<rect x="72.8" y="283.1" width="0.9" height="0.9" fill="#000" opacity="0.6"/>
<rect x="66.7" y="273.6" width="0.9" height="0.9" fill="#555" opacity="0.6"/>
<rect x="66.2" y="275.1" width="0.9" height="0.9" fill="#000" opacity="0.6"/>
<rect x="82.5" y="285.0" width="0.9" height="0.9" fill="#555" opacity="0.6"/>
<rect x="73.1" y="285.6" width="0.9" height="0.9" fill="#555" opacity="0.6"/>
<rect x="73.5" y="270.9" width="0.9" height="0.9" fill="#555" opacity="0.6"/>
<rect x="67.2" y="282.4" width="0.9" height="0.9" fill="#000" opacity="0.6"/>
<rect x="78.3" y="279.6" width="0.9" height="0.9" fill="#555" opacity="0.6"/>
<rect x="73.9" y="281.9" width="0.9" height="0.9" fill="#555" opacity="0.6"/>
<rect x="71.3" y="276.5" width="0.9" height="0.9" fill="#000" opacity="0.6"/>
<rect x="83.6" y="276.3" width="0.9" height="0.9" fill="#000" opacity="0.6"/>
<rect x="74.7" y="275.1" width="0.9" height="0.9" fill="#000" opacity="0.6"/>
<rect x="65.4" y="283.2" width="0.9" height="0.9" fill="#000" opacity="0.6"/>
<rect x="67.6" y="280.4" width="0.9" height="0.9" fill="#000" opacity="0.6"/>
<rect x="67.5" y="276.3" width="0.9" height="0.9" fill="#000" opacity="0.6"/>
<rect x="66.0" y="283.5" width="0.9" height="0.9" fill="#000" opacity="0.6"/>
<rect x="76.4" y="273.6" width="0.9" height="0.9" fill="#000" opacity="0.6"/>
<rect x="68.6" y="276.7" width="0.9" height="0.9" fill="#000" opacity="0.6"/>
<rect x="76.5" y="281.1" width="0.9" height="0.9" fill="#000" opacity="0.6"/>
<rect x="64.3" y="279.9" width="0.9" height="0.9" fill="#000" opacity="0.6"/>
<rect x="82.7" y="274.6" width="0.9" height="0.9" fill="#555" opacity="0.6"/>
<rect x="66.1" y="277.4" width="0.9" height="0.9" fill="#000" opacity="0.6"/>
<rect x="74.6" y="271.1" width="0.9" height="0.9" fill="#000" opacity="0.6"/>
<rect x="82.8" y="268.8" width="0.9" height="0.9" fill="#555" opacity="0.6"/>
<rect x="76.6" y="279.6" width="0.9" height="0.9" fill="#000" opacity="0.6"/>
<rect x="69.1" y="268.2" width="0.9" height="0.9" fill="#000" opacity="0.6"/>
<rect x="66.1" y="280.7" width="0.9" height="0.9" fill="#555" opacity="0.6"/>
<rect x="65.0" y="273.1" width="0.9" height="0.9" fill="#000" opacity="0.6"/>
<rect x="65.1" y="274.9" width="0.9" height="0.9" fill="#000" opacity="0.6"/>
<rect x="76.7" y="274.0" width="0.9" height="0.9" fill="#000" opacity="0.6"/>
<rect x="70.2" y="281.1" width="0.9" height="0.9" fill="#000" opacity="0.6"/>
<rect x="80.5" y="273.9" width="0.9" height="0.9" fill="#000" opacity="0.6"/>
<rect x="75.2" y="276.8" width="0.9" height="0.9" fill="#555" opacity="0.6"/>
<rect x="82.6" y="268.5" width="0.9" height="0.9" fill="#555" opacity="0.6"/>
<rect x="66.9" y="278.0" width="0.9" height="0.9" fill="#000" opacity="0.6"/>
<rect x="67.6" y="274.7" width="0.9" height="0.9" fill="#555" opacity="0.6"/>
<rect x="70.0" y="276.3" width="0.9" height="0.9" fill="#000" opacity="0.6"/>
<rect x="78.7" y="273.2" width="0.9" height="0.9" fill="#000" opacity="0.6"/>
<rect x="66.7" y="282.3" width="0.9" height="0.9" fill="#000" opacity="0.6"/>
<rect x="82.2" y="282.1" width="0.9" height="0.9" fill="#555" opacity="0.6"/>
<rect x="81.3" y="270.9" width="0.9" height="0.9" fill="#555" opacity="0.6"/>
<rect x="67.7" y="276.9" width="0.9" height="0.9" fill="#555" opacity="0.6"/>
<rect x="85.7" y="274.0" width="0.9" height="0.9" fill="#555" opacity="0.6"/>
<rect x="81.5" y="278.4" width="0.9" height="0.9" fill="#555" opacity="0.6"/>
<rect x="83.3" y="269.9" width="0.9" height="0.9" fill="#555" opacity="0.6"/>
<rect x="64.6" y="269.1" width="0.9" height="0.9" fill="#000" opacity="0.6"/>
<rect x="65.3" y="272.7" width="0.9" height="0.9" fill="#000" opacity="0.6"/>
<rect x="82.7" y="280.4" width="0.9" height="0.9" fill="#555" opacity="0.6"/>
<rect x="81.0" y="275.2" width="0.9" height="0.9" fill="#555" opacity="0.6"/>
<rect x="80.7" y="282.2" width="0.9" height="0.9" fill="#555" opacity="0.6"/>
<rect x="78.5" y="269.3" width="0.9" height="0.9" fill="#555" opacity="0.6"/>
<rect x="70.2" y="276.9" width="0.9" height="0.9" fill="#000" opacity="0.6"/>
<rect x="76.3" y="279.2" width="0.9" height="0.9" fill="#000" opacity="0.6"/>
<rect x="66.0" y="273.2" width="0.9" height="0.9" fill="#000" opacity="0.6"/>
<rect x="87.0" y="274.8" width="0.9" height="0.9" fill="#000" opacity="0.6"/>
<rect x="66.6" y="273.4" width="0.9" height="0.9" fill="#000" opacity="0.6"/>
<rect x="77.3" y="275.1" width="0.9" height="0.9" fill="#000" opacity="0.6"/>
<rect x="79.9" y="275.0" width="0.9" height="0.9" fill="#555" opacity="0.6"/>
<rect x="76.4" y="270.1" width="0.9" height="0.9" fill="#555" opacity="0.6"/>
<rect x="65.9" y="271.4" width="0.9" height="0.9" fill="#000" opacity="0.6"/>
<rect x="77.5" y="270.3" width="0.9" height="0.9" fill="#000" opacity="0.6"/>
<rect x="81.5" y="274.7" width="0.9" height="0.9" fill="#000" opacity="0.6"/>
<rect x="79.9" y="274.2" width="0.9" height="0.9" fill="#555" opacity="0.6"/>
<rect x="82.5" y="278.9" width="0.9" height="0.9" fill="#555" opacity="0.6"/>
<rect x="68.1" y="282.0" width="0.9" height="0.9" fill="#000" opacity="0.6"/>
<rect x="74.5" y="281.1" width="0.9" height="0.9" fill="#000" opacity="0.6"/>
<rect x="78.4" y="277.8" width="0.9" height="0.9" fill="#000" opacity="0.6"/>
<rect x="68.1" y="278.4" width="0.9" height="0.9" fill="#000" opacity="0.6"/>
<rect x="74.2" y="283.4" width="0.9" height="0.9" fill="#555" opacity="0.6"/>
<rect x="65.0" y="272.7" width="0.9" height="0.9" fill="#000" opacity="0.6"/>
<rect x="76.8" y="273.4" width="0.9" height="0.9" fill="#000" opacity="0.6"/>
<rect x="71.4" y="271.1" width="0.9" height="0.9" fill="#000" opacity="0.6"/>
<rect x="71.3" y="275.6" width="0.9" height="0.9" fill="#555" opacity="0.6"/>
<rect x="75.7" y="277.3" width="0.9" height="0.9" fill="#000" opacity="0.6"/>
<rect x="70.2" y="274.5" width="0.9" height="0.9" fill="#000" opacity="0.6"/>
<rect x="72.9" y="272.8" width="0.9" height="0.9" fill="#555" opacity="0.6"/>
<rect x="80.2" y="275.2" width="0.9" height="0.9" fill="#000" opacity="0.6"/>
<rect x="74.4" y="271.3" width="0.9" height="0.9" fill="#000" opacity="0.6"/>
<rect x="65.1" y="280.1" width="0.9" height="0.9" fill="#000" opacity="0.6"/>
<rect x="77.4" y="276.8" width="0.9" height="0.9" fill="#555" opacity="0.6"/>
<rect x="67.4" y="279.5" width="0.9" height="0.9" fill="#000" opacity="0.6"/>
<rect x="70.5" y="279.3" width="0.9" height="0.9" fill="#000" opacity="0.6"/>
<rect x="75.5" y="272.6" width="0.9" height="0.9" fill="#000" opacity="0.6"/>
<rect x="69.2" y="277.3" width="0.9" height="0.9" fill="#000" opacity="0.6"/>
<rect x="69.6" y="274.0" width="0.9" height="0.9" fill="#000" opacity="0.6"/>
<rect x="84.6" y="281.9" width="0.9" height="0.9" fill="#555" opacity="0.6"/>
<rect x="68.2" y="271.3" width="0.9" height="0.9" fill="#000" opacity="0.6"/>
<rect x="78.7" y="282.5" width="0.9" height="0.9" fill="#555" opacity="0.6"/>
<rect x="78.6" y="270.4" width="0.9" height="0.9" fill="#555" opacity="0.6"/>
<rect x="79.1" y="278.9" width="0.9" height="0.9" fill="#555" opacity="0.6"/>
<rect x="75.8" y="274.9" width="0.9" height="0.9" fill="#000" opacity="0.6"/>
<rect x="85.2" y="271.9" width="0.9" height="0.9" fill="#555" opacity="0.6"/>
<rect x="82.2" y="276.5" width="0.9" height="0.9" fill="#555" opacity="0.6"/>
<rect x="67.8" y="282.4" width="0.9" height="0.9" fill="#000" opacity="0.6"/>
<rect x="65.2" y="275.0" width="0.9" height="0.9" fill="#000" opacity="0.6"/>
<rect x="84.4" y="276.3" width="0.9" height="0.9" fill="#555" opacity="0.6"/>
<rect x="66.0" y="285.5" width="0.9" height="0.9" fill="#000" opacity="0.6"/>
<rect x="65.6" y="281.3" width="0.9" height="0.9" fill="#000" opacity="0.6"/>
<rect x="66.7" y="268.7" width="0.9" height="0.9" fill="#000" opacity="0.6"/>
<rect x="86.2" y="283.7" width="0.9" height="0.9" fill="#000" opacity="0.6"/>
<rect x="81.3" y="282.3" width="0.9" height="0.9" fill="#555" opacity="0.6"/>
<rect x="82.6" y="275.5" width="0.9" height="0.9" fill="#555" opacity="0.6"/>
<rect x="75.3" y="278.3" width="0.9" height="0.9" fill="#000" opacity="0.6"/>
<rect x="69.5" y="279.8" width="0.9" height="0.9" fill="#000" opacity="0.6"/>
<rect x="86.2" y="269.2" width="0.9" height="0.9" fill="#555" opacity="0.6"/>
<rect x="64.9" y="273.9" width="0.9" height="0.9" fill="#000" opacity="0.6"/>
<rect x="75.8" y="278.2" width="0.9" height="0.9" fill="#000" opacity="0.6"/>
<rect x="70.7" y="268.5" width="0.9" height="0.9" fill="#555" opacity="0.6"/>
<rect x="69.9" y="272.4" width="0.9" height="0.9" fill="#555" opacity="0.6"/>
<rect x="67.9" y="284.3" width="0.9" height="0.9" fill="#000" opacity="0.6"/>
<rect x="76.2" y="278.6" width="0.9" height="0.9" fill="#000" opacity="0.6"/>
<rect x="69.3" y="277.4" width="0.9" height="0.9" fill="#000" opacity="0.6"/>
<rect x="66.0" y="274.4" width="0.9" height="0.9" fill="#000" opacity="0.6"/>
<rect x="68.6" y="271.2" width="0.9" height="0.9" fill="#000" opacity="0.6"/>
<rect x="72.9" y="281.8" width="0.9" height="0.9" fill="#000" opacity="0.6"/>
<rect x="81.9" y="283.6" width="0.9" height="0.9" fill="#000" opacity="0.6"/>
<rect x="65.2" y="280.7" width="0.9" height="0.9" fill="#555" opacity="0.6"/>
<rect x="69.4" y="267.4" width="0.9" height="0.9" fill="#000" opacity="0.6"/>
<rect x="77.8" y="283.5" width="0.9" height="0.9" fill="#555" opacity="0.6"/>
<rect x="66.4" y="271.1" width="0.9" height="0.9" fill="#000" opacity="0.6"/>
<rect x="69.0" y="274.5" width="0.9" height="0.9" fill="#000" opacity="0.6"/>
<rect x="79.1" y="270.4" width="0.9" height="0.9" fill="#000" opacity="0.6"/>
<rect x="64.5" y="269.6" width="0.9" height="0.9" fill="#000" opacity="0.6"/>
<rect x="65.3" y="276.7" width="0.9" height="0.9" fill="#000" opacity="0.6"/>
<rect x="68.0" y="274.8" width="0.9" height="0.9" fill="#000" opacity="0.6"/>
<rect x="67.5" y="274.3" width="0.9" height="0.9" fill="#000" opacity="0.6"/>
<rect x="71.5" y="268.8" width="0.9" height="0.9" fill="#555" opacity="0.6"/>
<rect x="75.3" y="273.7" width="0.9" height="0.9" fill="#000" opacity="0.6"/>
<rect x="70.7" y="280.1" width="0.9" height="0.9" fill="#000" opacity="0.6"/>
<rect x="85.2" y="276.4" width="0.9" height="0.9" fill="#555" opacity="0.6"/>
<rect x="72.4" y="281.3" width="0.9" height="0.9" fill="#000" opacity="0.6"/>
<rect x="73.3" y="275.8" width="0.9" height="0.9" fill="#000" opacity="0.6"/>
<rect x="80.4" y="273.0" width="0.9" height="0.9" fill="#000" opacity="0.6"/>
<rect x="63.0" y="272.6" width="0.9" height="0.9" fill="#000" opacity="0.6"/>
<rect x="79.2" y="277.9" width="0.9" height="0.9" fill="#555" opacity="0.6"/>
<rect x="71.5" y="280.5" width="0.9" height="0.9" fill="#555" opacity="0.6"/>
<rect x="79.4" y="268.0" width="0.9" height="0.9" fill="#555" opacity="0.6"/>
<rect x="75.8" y="270.2" width="0.9" height="0.9" fill="#555" opacity="0.6"/>
<rect x="66.9" y="270.4" width="0.9" height="0.9" fill="#000" opacity="0.6"/>
<rect x="84.4" y="283.5" width="0.9" height="0.9" fill="#555" opacity="0.6"/>
<rect x="66.9" y="276.7" width="0.9" height="0.9" fill="#000" opacity="0.6"/>
<rect x="68.1" y="276.3" width="0.9" height="0.9" fill="#000" opacity="0.6"/>
<rect x="65.6" y="280.0" width="0.9" height="0.9" fill="#000" opacity="0.6"/>
<rect x="76.5" y="272.6" width="0.9" height="0.9" fill="#555" opacity="0.6"/>
<rect x="85.7" y="266.8" width="0.9" height="0.9" fill="#555" opacity="0.6"/>
<rect x="68.0" y="268.9" width="0.9" height="0.9" fill="#000" opacity="0.6"/>
<rect x="75.3" y="272.8" width="0.9" height="0.9" fill="#000" opacity="0.6"/>
<rect x="75.1" y="273.8" width="0.9" height="0.9" fill="#555" opacity="0.6"/>
<rect x="70.1" y="276.9" width="0.9" height="0.9" fill="#000" opacity="0.6"/>
<rect x="79.4" y="270.2" width="0.9" height="0.9" fill="#555" opacity="0.6"/>
<rect x="68.5" y="277.2" width="0.9" height="0.9" fill="#555" opacity="0.6"/>
<rect x="84.2" y="268.4" width="0.9" height="0.9" fill="#555" opacity="0.6"/>
<rect x="79.1" y="268.3" width="0.9" height="0.9" fill="#000" opacity="0.6"/>
<rect x="69.8" y="271.8" width="0.9" height="0.9" fill="#555" opacity="0.6"/>
<rect x="68.4" y="272.0" width="0.9" height="0.9" fill="#000" opacity="0.6"/>
<rect x="83.0" y="276.7" width="0.9" height="0.9" fill="#555" opacity="0.6"/>
<rect x="71.8" y="278.8" width="0.9" height="0.9" fill="#000" opacity="0.6"/>
<rect x="68.2" y="271.5" width="0.9" height="0.9" fill="#000" opacity="0.6"/>
<rect x="83.6" y="272.0" width="0.9" height="0.9" fill="#555" opacity="0.6"/>
<rect x="68.2" y="276.4" width="0.9" height="0.9" fill="#000" opacity="0.6"/>
<rect x="77.7" y="280.8" width="0.9" height="0.9" fill="#555" opacity="0.6"/>
<rect x="84.9" y="272.5" width="0.9" height="0.9" fill="#555" opacity="0.6"/>
<rect x="71.6" y="272.7" width="0.9" height="0.9" fill="#555" opacity="0.6"/>
<rect x="68.5" y="279.5" width="0.9" height="0.9" fill="#000" opacity="0.6"/>
<rect x="81.7" y="272.9" width="0.9" height="0.9" fill="#000" opacity="0.6"/>
<rect x="83.6" y="269.7" width="0.9" height="0.9" fill="#555" opacity="0.6"/>
<rect x="81.4" y="282.6" width="0.9" height="0.9" fill="#000" opacity="0.6"/>
<rect x="78.9" y="274.7" width="0.9" height="0.9" fill="#555" opacity="0.6"/>
<rect x="73.1" y="271.1" width="0.9" height="0.9" fill="#000" opacity="0.6"/>
<rect x="82.5" y="275.3" width="0.9" height="0.9" fill="#555" opacity="0.6"/>
<rect x="67.0" y="272.7" width="0.9" height="0.9" fill="#000" opacity="0.6"/>
<rect x="67.0" y="274.8" width="0.9" height="0.9" fill="#000" opacity="0.6"/>
<rect x="84.3" y="278.6" width="0.9" height="0.9" fill="#555" opacity="0.6"/>
<rect x="64.6" y="279.6" width="0.9" height="0.9" fill="#000" opacity="0.6"/>
<rect x="71.1" y="282.2" width="0.9" height="0.9" fill="#000" opacity="0.6"/>
<rect x="79.4" y="273.1" width="0.9" height="0.9" fill="#555" opacity="0.6"/>
<rect x="85.2" y="278.4" width="0.9" height="0.9" fill="#000" opacity="0.6"/>
<rect x="67.3" y="275.2" width="0.9" height="0.9" fill="#000" opacity="0.6"/>
<rect x="72.1" y="280.2" width="0.9" height="0.9" fill="#555" opacity="0.6"/>
<rect x="65.9" y="283.3" width="0.9" height="0.9" fill="#000" opacity="0.6"/>
<rect x="67.3" y="283.8" width="0.9" height="0.9" fill="#000" opacity="0.6"/>
<rect x="82.6" y="282.2" width="0.9" height="0.9" fill="#555" opacity="0.6"/>
<rect x="72.0" y="275.3" width="0.9" height="0.9" fill="#555" opacity="0.6"/>
<rect x="67.2" y="271.3" width="0.9" height="0.9" fill="#000" opacity="0.6"/>
<rect x="71.1" y="278.4" width="0.9" height="0.9" fill="#000" opacity="0.6"/>
<rect x="83.4" y="272.2" width="0.9" height="0.9" fill="#555" opacity="0.6"/>
<rect x="75.7" y="283.2" width="0.9" height="0.9" fill="#555" opacity="0.6"/>
<rect x="69.2" y="269.3" width="0.9" height="0.9" fill="#000" opacity="0.6"/>
<rect x="74.9" y="273.8" width="0.9" height="0.9" fill="#000" opacity="0.6"/>
<rect x="76.0" y="282.7" width="0.9" height="0.9" fill="#000" opacity="0.6"/>
<rect x="72.7" y="269.6" width="0.9" height="0.9" fill="#000" opacity="0.6"/>
<rect x="82.7" y="273.7" width="0.9" height="0.9" fill="#555" opacity="0.6"/>
<rect x="81.6" y="276.9" width="0.9" height="0.9" fill="#000" opacity="0.6"/>
<rect x="68.8" y="275.2" width="0.9" height="0.9" fill="#000" opacity="0.6"/>
<rect x="66.7" y="278.4" width="0.9" height="0.9" fill="#000" opacity="0.6"/>
<rect x="75.6" y="273.4" width="0.9" height="0.9" fill="#555" opacity="0.6"/>
<rect x="72.4" y="274.1" width="0.9" height="0.9" fill="#000" opacity="0.6"/>
<rect x="82.1" y="280.1" width="0.9" height="0.9" fill="#555" opacity="0.6"/>
<rect x="80.1" y="277.8" width="0.9" height="0.9" fill="#000" opacity="0.6"/>
<rect x="84.1" y="275.4" width="0.9" height="0.9" fill="#555" opacity="0.6"/>
<rect x="73.4" y="270.6" width="0.9" height="0.9" fill="#000" opacity="0.6"/>
<rect x="64.5" y="274.0" width="0.9" height="0.9" fill="#000" opacity="0.6"/>
<rect x="77.1" y="280.9" width="0.9" height="0.9" fill="#555" opacity="0.6"/>
<rect x="65.0" y="284.3" width="0.9" height="0.9" fill="#000" opacity="0.6"/>
<rect x="85.6" y="269.4" width="0.9" height="0.9" fill="#555" opacity="0.6"/>
<rect x="83.8" y="277.0" width="0.9" height="0.9" fill="#000" opacity="0.6"/>
<rect x="86.3" y="284.8" width="0.9" height="0.9" fill="#555" opacity="0.6"/>
<rect x="67.7" y="272.8" width="0.9" height="0.9" fill="#000" opacity="0.6"/>
<rect x="70.8" y="271.4" width="0.9" height="0.9" fill="#000" opacity="0.6"/>
<rect x="83.6" y="272.2" width="0.9" height="0.9" fill="#555" opacity="0.6"/>
<rect x="64.6" y="274.5" width="0.9" height="0.9" fill="#000" opacity="0.6"/>
<rect x="78.4" y="280.9" width="0.9" height="0.9" fill="#555" opacity="0.6"/>
<rect x="82.8" y="270.4" width="0.9" height="0.9" fill="#555" opacity="0.6"/>
<rect x="72.4" y="282.9" width="0.9" height="0.9" fill="#555" opacity="0.6"/>
<rect x="67.9" y="274.5" width="0.9" height="0.9" fill="#000" opacity="0.6"/>
<rect x="80.6" y="272.3" width="0.9" height="0.9" fill="#000" opacity="0.6"/>
<rect x="74.8" y="283.1" width="0.9" height="0.9" fill="#555" opacity="0.6"/>
<rect x="80.4" y="270.6" width="0.9" height="0.9" fill="#555" opacity="0.6"/>
<rect x="73.5" y="276.2" width="0.9" height="0.9" fill="#555" opacity="0.6"/>
<rect x="72.8" y="281.1" width="0.9" height="0.9" fill="#000" opacity="0.6"/>
<rect x="67.5" y="279.9" width="0.9" height="0.9" fill="#000" opacity="0.6"/>
<rect x="81.2" y="283.4" width="0.9" height="0.9" fill="#555" opacity="0.6"/>
<rect x="65.9" y="274.6" width="0.9" height="0.9" fill="#000" opacity="0.6"/>
<rect x="69.6" y="275.7" width="0.9" height="0.9" fill="#000" opacity="0.6"/>
<rect x="68.5" y="280.2" width="0.9" height="0.9" fill="#000" opacity="0.6"/>
<rect x="72.3" y="277.4" width="0.9" height="0.9" fill="#000" opacity="0.6"/>
<rect x="70.3" y="275.6" width="0.9" height="0.9" fill="#000" opacity="0.6"/>
<rect x="78.3" y="276.8" width="0.9" height="0.9" fill="#555" opacity="0.6"/>
<rect x="70.5" y="272.2" width="0.9" height="0.9" fill="#555" opacity="0.6"/>
<rect x="75.6" y="284.4" width="0.9" height="0.9" fill="#000" opacity="0.6"/>
<rect x="70.3" y="274.0" width="0.9" height="0.9" fill="#000" opacity="0.6"/>
<rect x="76.0" y="282.9" width="0.9" height="0.9" fill="#555" opacity="0.6"/>
<rect x="66.6" y="279.9" width="0.9" height="0.9" fill="#000" opacity="0.6"/>
<rect x="72.5" y="277.0" width="0.9" height="0.9" fill="#000" opacity="0.6"/>
<rect x="81.8" y="278.5" width="0.9" height="0.9" fill="#555" opacity="0.6"/>
<rect x="78.2" y="282.2" width="0.9" height="0.9" fill="#555" opacity="0.6"/>
<rect x="71.9" y="281.0" width="0.9" height="0.9" fill="#000" opacity="0.6"/>
<rect x="80.0" y="277.8" width="0.9" height="0.9" fill="#000" opacity="0.6"/>
<rect x="80.1" y="271.4" width="0.9" height="0.9" fill="#555" opacity="0.6"/>
<rect x="86.3" y="272.1" width="0.9" height="0.9" fill="#555" opacity="0.6"/>
<rect x="66.4" y="281.7" width="0.9" height="0.9" fill="#000" opacity="0.6"/>
<rect x="69.9" y="271.8" width="0.9" height="0.9" fill="#000" opacity="0.6"/>
<rect x="71.5" y="270.0" width="0.9" height="0.9" fill="#000" opacity="0.6"/>
<rect x="75.3" y="271.2" width="0.9" height="0.9" fill="#000" opacity="0.6"/>
<rect x="70.9" y="277.3" width="0.9" height="0.9" fill="#000" opacity="0.6"/>
<rect x="79.1" y="270.2" width="0.9" height="0.9" fill="#000" opacity="0.6"/>
<rect x="64.8" y="280.8" width="0.9" height="0.9" fill="#000" opacity="0.6"/>
<rect x="80.6" y="270.6" width="0.9" height="0.9" fill="#000" opacity="0.6"/>
<rect x="84.7" y="279.0" width="0.9" height="0.9" fill="#555" opacity="0.6"/>
<rect x="69.7" y="276.1" width="0.9" height="0.9" fill="#000" opacity="0.6"/>
<rect x="74.6" y="272.5" width="0.9" height="0.9" fill="#555" opacity="0.6"/>
<rect x="76.3" y="277.8" width="0.9" height="0.9" fill="#555" opacity="0.6"/>
<rect x="81.1" y="275.2" width="0.9" height="0.9" fill="#000" opacity="0.6"/>
<rect x="72.3" y="278.1" width="0.9" height="0.9" fill="#000" opacity="0.6"/>
<rect x="79.9" y="275.6" width="0.9" height="0.9" fill="#000" opacity="0.6"/>
<rect x="73.3" y="281.6" width="0.9" height="0.9" fill="#555" opacity="0.6"/>
<rect x="76.2" y="268.9" width="0.9" height="0.9" fill="#555" opacity="0.6"/>
<rect x="68.6" y="269.5" width="0.9" height="0.9" fill="#000" opacity="0.6"/>
<rect x="84.6" y="278.5" width="0.9" height="0.9" fill="#555" opacity="0.6"/>
<rect x="73.4" y="277.0" width="0.9" height="0.9" fill="#000" opacity="0.6"/>
<rect x="72.2" y="275.6" width="0.9" height="0.9" fill="#000" opacity="0.6"/>
<rect x="72.9" y="282.8" width="0.9" height="0.9" fill="#000" opacity="0.6"/>
<rect x="66.7" y="271.3" width="0.9" height="0.9" fill="#000" opacity="0.6"/>
<rect x="63.5" y="272.0" width="0.9" height="0.9" fill="#000" opacity="0.6"/>
<rect x="75.1" y="274.3" width="0.9" height="0.9" fill="#555" opacity="0.6"/>
<rect x="75.4" y="276.5" width="0.9" height="0.9" fill="#555" opacity="0.6"/>
<rect x="85.0" y="278.0" width="0.9" height="0.9" fill="#555" opacity="0.6"/>
<rect x="69.0" y="276.8" width="0.9" height="0.9" fill="#000" opacity="0.6"/>
<rect x="65.6" y="280.6" width="0.9" height="0.9" fill="#000" opacity="0.6"/>
<rect x="71.0" y="275.1" width="0.9" height="0.9" fill="#000" opacity="0.6"/>
<rect x="69.6" y="284.2" width="0.9" height="0.9" fill="#000" opacity="0.6"/>
<rect x="81.3" y="282.6" width="0.9" height="0.9" fill="#555" opacity="0.6"/>
<rect x="71.3" y="286.2" width="0.9" height="0.9" fill="#000" opacity="0.6"/>
<rect x="71.9" y="275.4" width="0.9" height="0.9" fill="#555" opacity="0.6"/>
<rect x="84.0" y="278.1" width="0.9" height="0.9" fill="#555" opacity="0.6"/>
<rect x="73.1" y="283.9" width="0.9" height="0.9" fill="#000" opacity="0.6"/>
<rect x="75.8" y="278.9" width="0.9" height="0.9" fill="#000" opacity="0.6"/>
<rect x="78.7" y="277.9" width="0.9" height="0.9" fill="#000" opacity="0.6"/>
<rect x="75.2" y="268.8" width="0.9" height="0.9" fill="#555" opacity="0.6"/>
<rect x="64.0" y="280.8" width="0.9" height="0.9" fill="#000" opacity="0.6"/>
<rect x="66.5" y="273.8" width="0.9" height="0.9" fill="#000" opacity="0.6"/>
<rect x="74.8" y="278.1" width="0.9" height="0.9" fill="#555" opacity="0.6"/>
<rect x="82.0" y="270.6" width="0.9" height="0.9" fill="#555" opacity="0.6"/>
<rect x="67.8" y="281.6" width="0.9" height="0.9" fill="#000" opacity="0.6"/>
<rect x="81.0" y="281.9" width="0.9" height="0.9" fill="#555" opacity="0.6"/>
<rect x="81.5" y="283.7" width="0.9" height="0.9" fill="#000" opacity="0.6"/>
<rect x="80.7" y="276.2" width="0.9" height="0.9" fill="#000" opacity="0.6"/>
<rect x="69.6" y="280.1" width="0.9" height="0.9" fill="#000" opacity="0.6"/>
<rect x="74.8" y="283.6" width="0.9" height="0.9" fill="#000" opacity="0.6"/>
<rect x="63.7" y="281.0" width="0.9" height="0.9" fill="#000" opacity="0.6"/>
<rect x="83.6" y="273.4" width="0.9" height="0.9" fill="#555" opacity="0.6"/>
<rect x="78.3" y="270.9" width="0.9" height="0.9" fill="#000" opacity="0.6"/>
<rect x="77.8" y="274.6" width="0.9" height="0.9" fill="#000" opacity="0.6"/>
<rect x="65.5" y="272.3" width="0.9" height="0.9" fill="#000" opacity="0.6"/>
<rect x="75.4" y="274.4" width="0.9" height="0.9" fill="#000" opacity="0.6"/>
<rect x="71.6" y="282.5" width="0.9" height="0.9" fill="#555" opacity="0.6"/>
<rect x="65.6" y="279.7" width="0.9" height="0.9" fill="#000" opacity="0.6"/>
<rect x="68.0" y="281.4" width="0.9" height="0.9" fill="#555" opacity="0.6"/>
<rect x="81.0" y="282.0" width="0.9" height="0.9" fill="#000" opacity="0.6"/>
<rect x="84.5" y="283.2" width="0.9" height="0.9" fill="#000" opacity="0.6"/>
<rect x="72.3" y="280.7" width="0.9" height="0.9" fill="#000" opacity="0.6"/>
<rect x="86.3" y="270.7" width="0.9" height="0.9" fill="#555" opacity="0.6"/>
<rect x="83.7" y="272.2" width="0.9" height="0.9" fill="#555" opacity="0.6"/>
<rect x="80.5" y="279.4" width="0.9" height="0.9" fill="#000" opacity="0.6"/>
<rect x="64.6" y="268.6" width="0.9" height="0.9" fill="#000" opacity="0.6"/>
<rect x="64.4" y="277.7" width="0.9" height="0.9" fill="#000" opacity="0.6"/>
<rect x="82.3" y="278.1" width="0.9" height="0.9" fill="#000" opacity="0.6"/>
<rect x="66.1" y="277.2" width="0.9" height="0.9" fill="#000" opacity="0.6"/>
<rect x="70.8" y="273.5" width="0.9" height="0.9" fill="#000" opacity="0.6"/>
<rect x="62.6" y="281.2" width="0.9" height="0.9" fill="#000" opacity="0.6"/>
<rect x="68.2" y="272.2" width="0.9" height="0.9" fill="#000" opacity="0.6"/>
<rect x="75.9" y="277.6" width="0.9" height="0.9" fill="#555" opacity="0.6"/>
<rect x="83.6" y="272.1" width="0.9" height="0.9" fill="#000" opacity="0.6"/>
<rect x="78.0" y="279.2" width="0.9" height="0.9" fill="#000" opacity="0.6"/>
<rect x="80.2" y="269.6" width="0.9" height="0.9" fill="#555" opacity="0.6"/>
<rect x="73.7" y="267.6" width="0.9" height="0.9" fill="#000" opacity="0.6"/>
<rect x="71.9" y="272.2" width="0.9" height="0.9" fill="#555" opacity="0.6"/>
<rect x="76.4" y="273.7" width="0.9" height="0.9" fill="#555" opacity="0.6"/>
<rect x="65.9" y="284.2" width="0.9" height="0.9" fill="#555" opacity="0.6"/>
<rect x="64.4" y="272.6" width="0.9" height="0.9" fill="#000" opacity="0.6"/>
<rect x="67.6" y="280.1" width="0.9" height="0.9" fill="#000" opacity="0.6"/>
<rect x="79.6" y="269.2" width="0.9" height="0.9" fill="#555" opacity="0.6"/>
<rect x="73.8" y="266.9" width="0.9" height="0.9" fill="#555" opacity="0.6"/>
<rect x="65.5" y="271.1" width="0.9" height="0.9" fill="#000" opacity="0.6"/>
<rect x="67.7" y="272.6" width="0.9" height="0.9" fill="#000" opacity="0.6"/>
<rect x="81.6" y="272.7" width="0.9" height="0.9" fill="#555" opacity="0.6"/>
<rect x="71.5" y="272.8" width="0.9" height="0.9" fill="#555" opacity="0.6"/>
<rect x="64.5" y="275.3" width="0.9" height="0.9" fill="#000" opacity="0.6"/>
<rect x="77.6" y="281.7" width="0.9" height="0.9" fill="#555" opacity="0.6"/>
<rect x="78.4" y="275.3" width="0.9" height="0.9" fill="#555" opacity="0.6"/>
<rect x="65.1" y="285.0" width="0.9" height="0.9" fill="#000" opacity="0.6"/>
<rect x="63.9" y="276.6" width="0.9" height="0.9" fill="#000" opacity="0.6"/>
<rect x="67.2" y="269.7" width="0.9" height="0.9" fill="#000" opacity="0.6"/>
<rect x="84.4" y="282.0" width="0.9" height="0.9" fill="#555" opacity="0.6"/>
<rect x="74.9" y="281.7" width="0.9" height="0.9" fill="#000" opacity="0.6"/>
<rect x="83.0" y="278.2" width="0.9" height="0.9" fill="#000" opacity="0.6"/>
<rect x="64.4" y="277.4" width="0.9" height="0.9" fill="#000" opacity="0.6"/>
<rect x="79.8" y="274.8" width="0.9" height="0.9" fill="#000" opacity="0.6"/>
<rect x="71.2" y="274.4" width="0.9" height="0.9" fill="#000" opacity="0.6"/>
<rect x="65.1" y="280.4" width="0.9" height="0.9" fill="#000" opacity="0.6"/>
<rect x="71.3" y="280.5" width="0.9" height="0.9" fill="#000" opacity="0.6"/>
<rect x="76.5" y="273.8" width="0.9" height="0.9" fill="#000" opacity="0.6"/>
<rect x="82.7" y="277.3" width="0.9" height="0.9" fill="#000" opacity="0.6"/>
<rect x="82.2" y="279.8" width="0.9" height="0.9" fill="#000" opacity="0.6"/>
<rect x="78.1" y="283.9" width="0.9" height="0.9" fill="#555" opacity="0.6"/>
<rect x="69.1" y="278.5" width="0.9" height="0.9" fill="#000" opacity="0.6"/>
<rect x="67.4" y="273.9" width="0.9" height="0.9" fill="#000" opacity="0.6"/>
<rect x="78.7" y="276.4" width="0.9" height="0.9" fill="#000" opacity="0.6"/>
<rect x="80.6" y="283.0" width="0.9" height="0.9" fill="#555" opacity="0.6"/>
<rect x="65.0" y="277.2" width="0.9" height="0.9" fill="#000" opacity="0.6"/>
<rect x="79.3" y="272.4" width="0.9" height="0.9" fill="#000" opacity="0.6"/>
<rect x="70.7" y="267.7" width="0.9" height="0.9" fill="#000" opacity="0.6"/>
<rect x="71.6" y="274.7" width="0.9" height="0.9" fill="#555" opacity="0.6"/>
<rect x="63.1" y="270.8" width="0.9" height="0.9" fill="#000" opacity="0.6"/>
<rect x="68.6" y="283.6" width="0.9" height="0.9" fill="#000" opacity="0.6"/>
<rect x="80.7" y="274.2" width="0.9" height="0.9" fill="#555" opacity="0.6"/>
<rect x="67.5" y="271.2" width="0.9" height="0.9" fill="#000" opacity="0.6"/>
<rect x="79.9" y="282.6" width="0.9" height="0.9" fill="#555" opacity="0.6"/>
<rect x="73.1" y="284.3" width="0.9" height="0.9" fill="#000" opacity="0.6"/>
<rect x="68.0" y="283.4" width="0.9" height="0.9" fill="#000" opacity="0.6"/>
<rect x="68.1" y="283.4" width="0.9" height="0.9" fill="#000" opacity="0.6"/>
<rect x="68.8" y="272.8" width="0.9" height="0.9" fill="#000" opacity="0.6"/>
<rect x="67.9" y="272.4" width="0.9" height="0.9" fill="#555" opacity="0.6"/>
<rect x="81.6" y="274.9" width="0.9" height="0.9" fill="#555" opacity="0.6"/>
<rect x="64.2" y="280.7" width="0.9" height="0.9" fill="#000" opacity="0.6"/>
<rect x="63.4" y="272.0" width="0.9" height="0.9" fill="#000" opacity="0.6"/>
<rect x="66.9" y="282.5" width="0.9" height="0.9" fill="#000" opacity="0.6"/>
<rect x="65.5" y="273.2" width="0.9" height="0.9" fill="#000" opacity="0.6"/>
<rect x="78.3" y="271.8" width="0.9" height="0.9" fill="#555" opacity="0.6"/>
<rect x="66.8" y="269.0" width="0.9" height="0.9" fill="#000" opacity="0.6"/>
<rect x="83.4" y="269.8" width="0.9" height="0.9" fill="#000" opacity="0.6"/>
<rect x="82.2" y="284.0" width="0.9" height="0.9" fill="#555" opacity="0.6"/>
<rect x="77.2" y="280.2" width="0.9" height="0.9" fill="#555" opacity="0.6"/>
<rect x="82.5" y="276.9" width="0.9" height="0.9" fill="#000" opacity="0.6"/>
<rect x="65.2" y="271.3" width="0.9" height="0.9" fill="#000" opacity="0.6"/>
<rect x="71.4" y="281.8" width="0.9" height="0.9" fill="#000" opacity="0.6"/>
<rect x="84.3" y="281.4" width="0.9" height="0.9" fill="#000" opacity="0.6"/>
<rect x="74.2" y="268.6" width="0.9" height="0.9" fill="#555" opacity="0.6"/>
<rect x="68.5" y="276.3" width="0.9" height="0.9" fill="#000" opacity="0.6"/>
<rect x="85.8" y="274.3" width="0.9" height="0.9" fill="#555" opacity="0.6"/>
<rect x="71.1" y="274.7" width="0.9" height="0.9" fill="#000" opacity="0.6"/>
<rect x="64.1" y="272.0" width="0.9" height="0.9" fill="#000" opacity="0.6"/>
<rect x="83.4" y="274.8" width="0.9" height="0.9" fill="#555" opacity="0.6"/>
<rect x="79.1" y="282.6" width="0.9" height="0.9" fill="#000" opacity="0.6"/>
<rect x="81.0" y="276.1" width="0.9" height="0.9" fill="#000" opacity="0.6"/>
<rect x="75.8" y="282.8" width="0.9" height="0.9" fill="#000" opacity="0.6"/>
<rect x="65.5" y="277.3" width="0.9" height="0.9" fill="#000" opacity="0.6"/>
<rect x="69.8" y="283.5" width="0.9" height="0.9" fill="#000" opacity="0.6"/>
<rect x="72.6" y="270.1" width="0.9" height="0.9" fill="#000" opacity="0.6"/>
<rect x="76.8" y="271.4" width="0.9" height="0.9" fill="#000" opacity="0.6"/>
<rect x="78.7" y="276.2" width="0.9" height="0.9" fill="#555" opacity="0.6"/>
<rect x="64.7" y="284.6" width="0.9" height="0.9" fill="#000" opacity="0.6"/>
<rect x="76.1" y="278.1" width="0.9" height="0.9" fill="#000" opacity="0.6"/>
<rect x="70.0" y="282.2" width="0.9" height="0.9" fill="#000" opacity="0.6"/>
<rect x="66.0" y="272.3" width="0.9" height="0.9" fill="#000" opacity="0.6"/>
<rect x="65.1" y="282.0" width="0.9" height="0.9" fill="#000" opacity="0.6"/>
<rect x="83.2" y="269.4" width="0.9" height="0.9" fill="#555" opacity="0.6"/>
<rect x="81.3" y="279.1" width="0.9" height="0.9" fill="#555" opacity="0.6"/>
<rect x="71.6" y="281.6" width="0.9" height="0.9" fill="#000" opacity="0.6"/>
<rect x="84.2" y="270.0" width="0.9" height="0.9" fill="#555" opacity="0.6"/>
<rect x="83.0" y="281.4" width="0.9" height="0.9" fill="#555" opacity="0.6"/>
<rect x="74.0" y="272.5" width="0.9" height="0.9" fill="#000" opacity="0.6"/>
<rect x="84.2" y="268.4" width="0.9" height="0.9" fill="#555" opacity="0.6"/>
<rect x="66.8" y="270.0" width="0.9" height="0.9" fill="#000" opacity="0.6"/>
<rect x="70.9" y="280.2" width="0.9" height="0.9" fill="#000" opacity="0.6"/>
<rect x="66.2" y="278.6" width="0.9" height="0.9" fill="#000" opacity="0.6"/>
<rect x="75.0" y="273.0" width="0.9" height="0.9" fill="#000" opacity="0.6"/>
<rect x="64.3" y="273.3" width="0.9" height="0.9" fill="#000" opacity="0.6"/>
<rect x="80.1" y="272.4" width="0.9" height="0.9" fill="#555" opacity="0.6"/>
<rect x="76.2" y="275.7" width="0.9" height="0.9" fill="#555" opacity="0.6"/>
<rect x="76.4" y="270.7" width="0.9" height="0.9" fill="#555" opacity="0.6"/>
<rect x="68.4" y="271.7" width="0.9" height="0.9" fill="#000" opacity="0.6"/>
<rect x="67.0" y="285.8" width="0.9" height="0.9" fill="#000" opacity="0.6"/>
<rect x="66.1" y="280.9" width="0.9" height="0.9" fill="#000" opacity="0.6"/>
<rect x="67.1" y="279.3" width="0.9" height="0.9" fill="#000" opacity="0.6"/>
<rect x="77.5" y="272.3" width="0.9" height="0.9" fill="#000" opacity="0.6"/>
<rect x="69.6" y="269.8" width="0.9" height="0.9" fill="#000" opacity="0.6"/>
<rect x="84.8" y="268.0" width="0.9" height="0.9" fill="#555" opacity="0.6"/>
<rect x="84.7" y="271.4" width="0.9" height="0.9" fill="#000" opacity="0.6"/>
<rect x="64.6" y="273.2" width="0.9" height="0.9" fill="#000" opacity="0.6"/>
<rect x="68.7" y="273.4" width="0.9" height="0.9" fill="#000" opacity="0.6"/>
<rect x="80.0" y="280.4" width="0.9" height="0.9" fill="#000" opacity="0.6"/>
<rect x="79.4" y="270.3" width="0.9" height="0.9" fill="#000" opacity="0.6"/>
<rect x="82.0" y="274.9" width="0.9" height="0.9" fill="#555" opacity="0.6"/>
<rect x="62.8" y="270.1" width="0.9" height="0.9" fill="#000" opacity="0.6"/>
<rect x="78.5" y="274.9" width="0.9" height="0.9" fill="#000" opacity="0.6"/>
<rect x="65.6" y="282.8" width="0.9" height="0.9" fill="#000" opacity="0.6"/>
<rect x="83.4" y="281.0" width="0.9" height="0.9" fill="#000" opacity="0.6"/>
<rect x="83.0" y="272.9" width="0.9" height="0.9" fill="#555" opacity="0.6"/>
<rect x="64.1" y="273.8" width="0.9" height="0.9" fill="#000" opacity="0.6"/>
<rect x="69.6" y="274.1" width="0.9" height="0.9" fill="#000" opacity="0.6"/>
<rect x="70.2" y="275.9" width="0.9" height="0.9" fill="#000" opacity="0.6"/>
<rect x="69.1" y="270.1" width="0.9" height="0.9" fill="#000" opacity="0.6"/>
<rect x="78.9" y="275.8" width="0.9" height="0.9" fill="#555" opacity="0.6"/>
<rect x="84.0" y="284.3" width="0.9" height="0.9" fill="#555" opacity="0.6"/>
<rect x="73.6" y="270.9" width="0.9" height="0.9" fill="#000" opacity="0.6"/>
<rect x="78.3" y="272.4" width="0.9" height="0.9" fill="#555" opacity="0.6"/>
<rect x="71.7" y="268.0" width="0.9" height="0.9" fill="#555" opacity="0.6"/>
<rect x="72.8" y="281.7" width="0.9" height="0.9" fill="#000" opacity="0.6"/>
<rect x="76.5" y="274.4" width="0.9" height="0.9" fill="#555" opacity="0.6"/>
<rect x="63.0" y="280.7" width="0.9" height="0.9" fill="#000" opacity="0.6"/>
<rect x="69.1" y="285.2" width="0.9" height="0.9" fill="#000" opacity="0.6"/>
<rect x="74.9" y="276.7" width="0.9" height="0.9" fill="#555" opacity="0.6"/>
<rect x="79.6" y="281.6" width="0.9" height="0.9" fill="#555" opacity="0.6"/>
<rect x="85.5" y="269.5" width="0.9" height="0.9" fill="#555" opacity="0.6"/>
<rect x="77.9" y="274.3" width="0.9" height="0.9" fill="#555" opacity="0.6"/>
<rect x="64.2" y="278.7" width="0.9" height="0.9" fill="#000" opacity="0.6"/>
<rect x="69.5" y="272.7" width="0.9" height="0.9" fill="#000" opacity="0.6"/>
<rect x="64.5" y="276.6" width="0.9" height="0.9" fill="#555" opacity="0.6"/>
<rect x="71.1" y="279.9" width="0.9" height="0.9" fill="#555" opacity="0.6"/>
<rect x="79.7" y="275.9" width="0.9" height="0.9" fill="#000" opacity="0.6"/>
<rect x="67.4" y="268.6" width="0.9" height="0.9" fill="#000" opacity="0.6"/>
<rect x="77.6" y="268.9" width="0.9" height="0.9" fill="#000" opacity="0.6"/>
<rect x="70.6" y="270.1" width="0.9" height="0.9" fill="#000" opacity="0.6"/>
<rect x="75.1" y="270.5" width="0.9" height="0.9" fill="#000" opacity="0.6"/>
<rect x="81.2" y="273.2" width="0.9" height="0.9" fill="#000" opacity="0.6"/>
<rect x="65.7" y="279.5" width="0.9" height="0.9" fill="#000" opacity="0.6"/>
<rect x="68.1" y="268.0" width="0.9" height="0.9" fill="#000" opacity="0.6"/>
<rect x="66.3" y="279.2" width="0.9" height="0.9" fill="#000" opacity="0.6"/>
<rect x="70.8" y="275.6" width="0.9" height="0.9" fill="#000" opacity="0.6"/>
<rect x="82.0" y="271.4" width="0.9" height="0.9" fill="#000" opacity="0.6"/>
<rect x="72.0" y="272.2" width="0.9" height="0.9" fill="#555" opacity="0.6"/>
<rect x="81.7" y="277.8" width="0.9" height="0.9" fill="#555" opacity="0.6"/>
<rect x="64.8" y="273.1" width="0.9" height="0.9" fill="#000" opacity="0.6"/>
<rect x="64.6" y="279.5" width="0.9" height="0.9" fill="#000" opacity="0.6"/>
<rect x="81.0" y="273.6" width="0.9" height="0.9" fill="#555" opacity="0.6"/>
<rect x="75.4" y="275.4" width="0.9" height="0.9" fill="#555" opacity="0.6"/>
<rect x="84.1" y="280.4" width="0.9" height="0.9" fill="#000" opacity="0.6"/>
<rect x="74.8" y="282.1" width="0.9" height="0.9" fill="#555" opacity="0.6"/>
<rect x="76.3" y="279.8" width="0.9" height="0.9" fill="#555" opacity="0.6"/>
<rect x="77.9" y="274.3" width="0.9" height="0.9" fill="#000" opacity="0.6"/>
<rect x="81.5" y="283.0" width="0.9" height="0.9" fill="#555" opacity="0.6"/>
<rect x="65.6" y="280.7" width="0.9" height="0.9" fill="#000" opacity="0.6"/>
<rect x="85.2" y="273.0" width="0.9" height="0.9" fill="#000" opacity="0.6"/>
<rect x="64.3" y="271.6" width="0.9" height="0.9" fill="#000" opacity="0.6"/>
<rect x="75.3" y="271.0" width="0.9" height="0.9" fill="#555" opacity="0.6"/>
<rect x="79.3" y="274.4" width="0.9" height="0.9" fill="#000" opacity="0.6"/>
<rect x="67.5" y="272.1" width="0.9" height="0.9" fill="#000" opacity="0.6"/>
<rect x="68.4" y="284.9" width="0.9" height="0.9" fill="#000" opacity="0.6"/>
<rect x="86.4" y="277.6" width="0.9" height="0.9" fill="#555" opacity="0.6"/>
<rect x="64.6" y="277.4" width="0.9" height="0.9" fill="#000" opacity="0.6"/>
<rect x="73.8" y="282.9" width="0.9" height="0.9" fill="#000" opacity="0.6"/>
<rect x="66.7" y="273.4" width="0.9" height="0.9" fill="#000" opacity="0.6"/>
<rect x="73.9" y="285.2" width="0.9" height="0.9" fill="#555" opacity="0.6"/>
<rect x="85.4" y="275.8" width="0.9" height="0.9" fill="#555" opacity="0.6"/>
<rect x="72.3" y="272.0" width="0.9" height="0.9" fill="#000" opacity="0.6"/>
<rect x="69.0" y="274.0" width="0.9" height="0.9" fill="#000" opacity="0.6"/>
<rect x="65.4" y="272.7" width="0.9" height="0.9" fill="#000" opacity="0.6"/>
<rect x="73.7" y="279.9" width="0.9" height="0.9" fill="#555" opacity="0.6"/>
<rect x="69.1" y="280.7" width="0.9" height="0.9" fill="#000" opacity="0.6"/>
<rect x="68.7" y="280.9" width="0.9" height="0.9" fill="#000" opacity="0.6"/>
<rect x="85.1" y="276.3" width="0.9" height="0.9" fill="#555" opacity="0.6"/>
<rect x="72.7" y="274.9" width="0.9" height="0.9" fill="#000" opacity="0.6"/>
<rect x="74.9" y="284.0" width="0.9" height="0.9" fill="#000" opacity="0.6"/>
<rect x="67.2" y="281.9" width="0.9" height="0.9" fill="#000" opacity="0.6"/>
<rect x="82.0" y="272.9" width="0.9" height="0.9" fill="#555" opacity="0.6"/>
<rect x="77.7" y="283.6" width="0.9" height="0.9" fill="#000" opacity="0.6"/>
<rect x="71.2" y="284.1" width="0.9" height="0.9" fill="#000" opacity="0.6"/>
<rect x="67.3" y="275.9" width="0.9" height="0.9" fill="#000" opacity="0.6"/>
<rect x="84.7" y="277.0" width="0.9" height="0.9" fill="#000" opacity="0.6"/>
<rect x="68.2" y="270.1" width="0.9" height="0.9" fill="#000" opacity="0.6"/>
<rect x="85.8" y="268.7" width="0.9" height="0.9" fill="#555" opacity="0.6"/>
<rect x="65.9" y="270.5" width="0.9" height="0.9" fill="#000" opacity="0.6"/>
<rect x="80.4" y="283.0" width="0.9" height="0.9" fill="#000" opacity="0.6"/>
<rect x="70.8" y="274.8" width="0.9" height="0.9" fill="#000" opacity="0.6"/>
<rect x="65.1" y="271.9" width="0.9" height="0.9" fill="#000" opacity="0.6"/>
<rect x="81.3" y="281.0" width="0.9" height="0.9" fill="#000" opacity="0.6"/>
<rect x="69.8" y="284.6" width="0.9" height="0.9" fill="#000" opacity="0.6"/>
<rect x="68.6" y="271.0" width="0.9" height="0.9" fill="#555" opacity="0.6"/>
<rect x="64.8" y="269.5" width="0.9" height="0.9" fill="#000" opacity="0.6"/>
<rect x="75.5" y="278.6" width="0.9" height="0.9" fill="#555" opacity="0.6"/>
<rect x="86.0" y="275.2" width="0.9" height="0.9" fill="#555" opacity="0.6"/>
<rect x="82.1" y="273.3" width="0.9" height="0.9" fill="#555" opacity="0.6"/>
<rect x="67.2" y="272.6" width="0.9" height="0.9" fill="#555" opacity="0.6"/>
<rect x="66.5" y="282.0" width="0.9" height="0.9" fill="#000" opacity="0.6"/>
<rect x="84.6" y="283.3" width="0.9" height="0.9" fill="#000" opacity="0.6"/>
<rect x="80.4" y="270.3" width="0.9" height="0.9" fill="#555" opacity="0.6"/>
<rect x="65.4" y="269.6" width="0.9" height="0.9" fill="#000" opacity="0.6"/>
<rect x="83.2" y="268.6" width="0.9" height="0.9" fill="#555" opacity="0.6"/>
<rect x="69.0" y="281.9" width="0.9" height="0.9" fill="#555" opacity="0.6"/>
<rect x="72.1" y="272.1" width="0.9" height="0.9" fill="#555" opacity="0.6"/>
<rect x="71.1" y="273.8" width="0.9" height="0.9" fill="#000" opacity="0.6"/>
<rect x="85.9" y="282.1" width="0.9" height="0.9" fill="#555" opacity="0.6"/>
<rect x="82.4" y="269.6" width="0.9" height="0.9" fill="#000" opacity="0.6"/>
<rect x="67.6" y="278.8" width="0.9" height="0.9" fill="#000" opacity="0.6"/>
<rect x="68.2" y="270.5" width="0.9" height="0.9" fill="#000" opacity="0.6"/>
<rect x="65.9" y="273.6" width="0.9" height="0.9" fill="#000" opacity="0.6"/>
<rect x="80.3" y="281.0" width="0.9" height="0.9" fill="#555" opacity="0.6"/>
<rect x="80.3" y="273.3" width="0.9" height="0.9" fill="#000" opacity="0.6"/>
<rect x="68.0" y="280.4" width="0.9" height="0.9" fill="#000" opacity="0.6"/>
<rect x="76.8" y="269.4" width="0.9" height="0.9" fill="#000" opacity="0.6"/>
<rect x="67.5" y="274.1" width="0.9" height="0.9" fill="#000" opacity="0.6"/>
<rect x="77.2" y="274.7" width="0.9" height="0.9" fill="#000" opacity="0.6"/>
<rect x="70.5" y="272.5" width="0.9" height="0.9" fill="#000" opacity="0.6"/>
<rect x="62.7" y="224" width="32.2" height="43.89999999999998" fill="none" stroke="#808080" stroke-width="0.9"/>
<line x1="62.7" y1="224.3" x2="94.9" y2="224.3" stroke="#a0a0a0" stroke-width="1.6"/>
<text x="78.8" y="236.6" font-size="9.2" text-anchor="middle" fill="#111" style="stroke-width:0.55px">4.5%</text>
<rect x="35.0" y="227.5745" width="2.2" height="1.6" fill="#888"/>
<rect x="36.9" y="226.5745" width="1" height="1" fill="#999"/>
<rect x="40.3" y="227.9745" width="1.4" height="1.2" fill="#666"/>
<rect x="35.0" y="237.072" width="2.2" height="1.6" fill="#888"/>
<rect x="36.9" y="236.072" width="1" height="1" fill="#999"/>
<rect x="40.3" y="237.472" width="1.4" height="1.2" fill="#666"/>
<rect x="35.0" y="254.233" width="2.2" height="1.6" fill="#888"/>
<rect x="36.9" y="253.233" width="1" height="1" fill="#999"/>
<rect x="40.3" y="254.633" width="1.4" height="1.2" fill="#666"/>
<rect x="35.0" y="270.0185" width="2.2" height="1.6" fill="#888"/>
<rect x="36.9" y="269.0185" width="1" height="1" fill="#999"/>
<rect x="40.3" y="270.4185" width="1.4" height="1.2" fill="#666"/>
<rect x="35.0" y="276.11" width="2.2" height="1.6" fill="#888"/>
<rect x="36.9" y="275.11" width="1" height="1" fill="#999"/>
<rect x="40.3" y="276.51" width="1.4" height="1.2" fill="#222"/>
<rect x="35.0" y="284.6905" width="2.2" height="1.6" fill="#888"/>
<rect x="36.9" y="283.6905" width="1" height="1" fill="#999"/>
<rect x="40.3" y="285.09049999999996" width="1.4" height="1.2" fill="#666"/>
<rect x="51.8074" y="289.09999999999997" width="2.2" height="1.8" fill="#111"/>
<rect x="51.6074" y="293.9" width="2" height="1.6" fill="#999"/>
<rect x="59.540400000000005" y="289.09999999999997" width="1.3" height="1.2" fill="#777"/>
<rect x="76.4124" y="289.09999999999997" width="1.3" height="1.2" fill="#777"/>
<rect x="76.2124" y="293.9" width="2" height="1.6" fill="#999"/>
<rect x="90.2615" y="289.09999999999997" width="1.3" height="1.2" fill="#777"/>
<rect x="90.0615" y="293.9" width="2" height="1.6" fill="#999"/>
<rect x="104.8839" y="289.09999999999997" width="1.3" height="1.2" fill="#777"/>
<rect x="104.6839" y="293.9" width="2" height="1.6" fill="#999"/>
<rect x="123.6" y="223.4" width="71" height="65.5" fill="none" stroke="#a8a8a8" stroke-width="1"/>
<rect x="168.6" y="266.5" width="0.9" height="0.9" fill="#c0c0c0"/>
<rect x="156.9" y="256.2" width="0.9" height="0.9" fill="#b8b8b8"/>
<rect x="153.4" y="265.5" width="0.9" height="0.9" fill="#d0d0d0"/>
<rect x="167.2" y="257.6" width="0.9" height="0.9" fill="#c8c8c8"/>
<rect x="166.4" y="265.2" width="0.9" height="0.9" fill="#b8b8b8"/>
<rect x="167.9" y="262.5" width="0.9" height="0.9" fill="#b8b8b8"/>
<rect x="164.3" y="260.6" width="0.9" height="0.9" fill="#d0d0d0"/>
<rect x="159.8" y="265.8" width="0.9" height="0.9" fill="#b8b8b8"/>
<rect x="150.2" y="266.9" width="0.9" height="0.9" fill="#c8c8c8"/>
<rect x="163.5" y="253.8" width="0.9" height="0.9" fill="#dadada"/>
<rect x="165.5" y="260.7" width="0.9" height="0.9" fill="#c8c8c8"/>
<rect x="159.2" y="265.2" width="0.9" height="0.9" fill="#d0d0d0"/>
<rect x="166.1" y="260.6" width="0.9" height="0.9" fill="#c8c8c8"/>
<rect x="152.9" y="259.2" width="0.9" height="0.9" fill="#c8c8c8"/>
<rect x="163.6" y="255.8" width="0.9" height="0.9" fill="#dadada"/>
<rect x="155.1" y="258.5" width="0.9" height="0.9" fill="#dadada"/>
<rect x="158.5" y="261.2" width="0.9" height="0.9" fill="#d0d0d0"/>
<rect x="164.5" y="259.3" width="0.9" height="0.9" fill="#dadada"/>
<rect x="156.8" y="264.4" width="0.9" height="0.9" fill="#c8c8c8"/>
<rect x="157.7" y="266.9" width="0.9" height="0.9" fill="#dadada"/>
<rect x="155.0" y="259.2" width="0.9" height="0.9" fill="#c8c8c8"/>
<rect x="166.8" y="261.0" width="0.9" height="0.9" fill="#c0c0c0"/>
<rect x="168.0" y="256.5" width="0.9" height="0.9" fill="#c0c0c0"/>
<rect x="162.0" y="264.5" width="0.9" height="0.9" fill="#c0c0c0"/>
<rect x="164.6" y="263.1" width="0.9" height="0.9" fill="#d0d0d0"/>
<rect x="170.8" y="261.8" width="0.9" height="0.9" fill="#c0c0c0"/>
<rect x="148.5" y="263.2" width="0.9" height="0.9" fill="#c0c0c0"/>
<rect x="150.1" y="266.9" width="0.9" height="0.9" fill="#c0c0c0"/>
<rect x="158.3" y="255.5" width="0.9" height="0.9" fill="#d0d0d0"/>
<rect x="161.0" y="267.2" width="0.9" height="0.9" fill="#d0d0d0"/>
<rect x="152.5" y="265.8" width="0.9" height="0.9" fill="#c8c8c8"/>
<rect x="161.2" y="261.6" width="0.9" height="0.9" fill="#dadada"/>
<rect x="146.2" y="263.5" width="0.9" height="0.9" fill="#c0c0c0"/>
<rect x="167.0" y="253.4" width="0.9" height="0.9" fill="#d0d0d0"/>
<rect x="158.3" y="257.1" width="0.9" height="0.9" fill="#b8b8b8"/>
<rect x="168.2" y="265.4" width="0.9" height="0.9" fill="#d0d0d0"/>
<rect x="159.2" y="259.4" width="0.9" height="0.9" fill="#b8b8b8"/>
<rect x="152.1" y="265.9" width="0.9" height="0.9" fill="#c8c8c8"/>
<rect x="167.1" y="258.4" width="0.9" height="0.9" fill="#d0d0d0"/>
<rect x="162.1" y="263.6" width="0.9" height="0.9" fill="#d0d0d0"/>
<rect x="148.8" y="261.0" width="0.9" height="0.9" fill="#c0c0c0"/>
<rect x="169.1" y="259.8" width="0.9" height="0.9" fill="#b8b8b8"/>
<rect x="150.1" y="255.0" width="0.9" height="0.9" fill="#c8c8c8"/>
<rect x="162.8" y="260.0" width="0.9" height="0.9" fill="#c8c8c8"/>
<rect x="164.6" y="261.7" width="0.9" height="0.9" fill="#d0d0d0"/>
<rect x="150.2" y="262.2" width="0.9" height="0.9" fill="#c0c0c0"/>
<rect x="148.4" y="264.0" width="0.9" height="0.9" fill="#c0c0c0"/>
<rect x="157.7" y="266.0" width="0.9" height="0.9" fill="#dadada"/>
<rect x="155.7" y="257.3" width="0.9" height="0.9" fill="#dadada"/>
<rect x="158.9" y="266.0" width="0.9" height="0.9" fill="#dadada"/>
<rect x="164.6" y="259.6" width="0.9" height="0.9" fill="#dadada"/>
<rect x="152.3" y="265.4" width="0.9" height="0.9" fill="#c8c8c8"/>
<rect x="154.4" y="252.2" width="0.9" height="0.9" fill="#b8b8b8"/>
<rect x="148.1" y="264.3" width="0.9" height="0.9" fill="#b8b8b8"/>
<rect x="152.6" y="254.4" width="0.9" height="0.9" fill="#dadada"/>
<rect x="148.2" y="261.4" width="0.9" height="0.9" fill="#c8c8c8"/>
<rect x="161.2" y="267.2" width="0.9" height="0.9" fill="#b8b8b8"/>
<rect x="169.9" y="261.9" width="0.9" height="0.9" fill="#d0d0d0"/>
<rect x="148.8" y="259.4" width="0.9" height="0.9" fill="#d0d0d0"/>
<rect x="163.2" y="265.1" width="0.9" height="0.9" fill="#c0c0c0"/>
<rect x="147.8" y="269.1" width="16.38" height="13.599999999999989" rx="2" fill="url(#cg)" filter="url(#bl2)"/>
<rect x="147.4" y="273.5" width="0.9" height="0.9" fill="#000" opacity="0.6"/>
<rect x="147.0" y="267.9" width="0.9" height="0.9" fill="#000" opacity="0.6"/>
<rect x="151.1" y="273.6" width="0.9" height="0.9" fill="#000" opacity="0.6"/>
<rect x="162.5" y="273.1" width="0.9" height="0.9" fill="#555" opacity="0.6"/>
<rect x="158.2" y="277.5" width="0.9" height="0.9" fill="#000" opacity="0.6"/>
<rect x="158.8" y="278.9" width="0.9" height="0.9" fill="#000" opacity="0.6"/>
<rect x="147.7" y="281.4" width="0.9" height="0.9" fill="#000" opacity="0.6"/>
<rect x="162.2" y="279.9" width="0.9" height="0.9" fill="#555" opacity="0.6"/>
<rect x="164.4" y="282.5" width="0.9" height="0.9" fill="#555" opacity="0.6"/>
<rect x="148.6" y="283.7" width="0.9" height="0.9" fill="#000" opacity="0.6"/>
<rect x="152.9" y="276.4" width="0.9" height="0.9" fill="#555" opacity="0.6"/>
<rect x="149.0" y="281.3" width="0.9" height="0.9" fill="#000" opacity="0.6"/>
<rect x="160.3" y="278.2" width="0.9" height="0.9" fill="#000" opacity="0.6"/>
<rect x="152.3" y="267.8" width="0.9" height="0.9" fill="#000" opacity="0.6"/>
<rect x="149.9" y="277.2" width="0.9" height="0.9" fill="#000" opacity="0.6"/>
<rect x="155.3" y="267.4" width="0.9" height="0.9" fill="#000" opacity="0.6"/>
<rect x="159.1" y="280.5" width="0.9" height="0.9" fill="#555" opacity="0.6"/>
<rect x="163.7" y="275.7" width="0.9" height="0.9" fill="#000" opacity="0.6"/>
<rect x="154.2" y="274.4" width="0.9" height="0.9" fill="#555" opacity="0.6"/>
<rect x="155.7" y="283.4" width="0.9" height="0.9" fill="#000" opacity="0.6"/>
<rect x="156.1" y="281.7" width="0.9" height="0.9" fill="#000" opacity="0.6"/>
<rect x="154.4" y="278.4" width="0.9" height="0.9" fill="#000" opacity="0.6"/>
<rect x="155.6" y="284.2" width="0.9" height="0.9" fill="#000" opacity="0.6"/>
<rect x="152.6" y="277.8" width="0.9" height="0.9" fill="#555" opacity="0.6"/>
<rect x="158.2" y="274.2" width="0.9" height="0.9" fill="#000" opacity="0.6"/>
<rect x="155.0" y="273.2" width="0.9" height="0.9" fill="#000" opacity="0.6"/>
<rect x="165.1" y="277.6" width="0.9" height="0.9" fill="#000" opacity="0.6"/>
<rect x="160.3" y="283.7" width="0.9" height="0.9" fill="#000" opacity="0.6"/>
<rect x="148.2" y="268.7" width="0.9" height="0.9" fill="#555" opacity="0.6"/>
<rect x="161.9" y="278.2" width="0.9" height="0.9" fill="#555" opacity="0.6"/>
<rect x="147.6" y="271.4" width="0.9" height="0.9" fill="#000" opacity="0.6"/>
<rect x="150.1" y="274.4" width="0.9" height="0.9" fill="#000" opacity="0.6"/>
<rect x="155.9" y="270.6" width="0.9" height="0.9" fill="#000" opacity="0.6"/>
<rect x="162.9" y="270.0" width="0.9" height="0.9" fill="#555" opacity="0.6"/>
<rect x="163.9" y="268.4" width="0.9" height="0.9" fill="#555" opacity="0.6"/>
<rect x="158.8" y="269.6" width="0.9" height="0.9" fill="#555" opacity="0.6"/>
<rect x="150.9" y="282.2" width="0.9" height="0.9" fill="#000" opacity="0.6"/>
<rect x="147.6" y="268.8" width="0.9" height="0.9" fill="#000" opacity="0.6"/>
<rect x="149.1" y="279.0" width="0.9" height="0.9" fill="#000" opacity="0.6"/>
<rect x="149.1" y="272.4" width="0.9" height="0.9" fill="#000" opacity="0.6"/>
<rect x="152.8" y="271.0" width="0.9" height="0.9" fill="#000" opacity="0.6"/>
<rect x="155.6" y="272.2" width="0.9" height="0.9" fill="#000" opacity="0.6"/>
<rect x="159.0" y="281.9" width="0.9" height="0.9" fill="#000" opacity="0.6"/>
<rect x="155.2" y="272.4" width="0.9" height="0.9" fill="#000" opacity="0.6"/>
<rect x="150.8" y="268.7" width="0.9" height="0.9" fill="#000" opacity="0.6"/>
<rect x="149.6" y="270.9" width="0.9" height="0.9" fill="#000" opacity="0.6"/>
<rect x="148.2" y="277.1" width="0.9" height="0.9" fill="#555" opacity="0.6"/>
<rect x="151.7" y="275.3" width="0.9" height="0.9" fill="#000" opacity="0.6"/>
<rect x="163.3" y="276.0" width="0.9" height="0.9" fill="#000" opacity="0.6"/>
<rect x="160.7" y="273.8" width="0.9" height="0.9" fill="#555" opacity="0.6"/>
<rect x="148.6" y="267.3" width="0.9" height="0.9" fill="#000" opacity="0.6"/>
<rect x="156.6" y="269.6" width="0.9" height="0.9" fill="#555" opacity="0.6"/>
<rect x="153.5" y="277.6" width="0.9" height="0.9" fill="#555" opacity="0.6"/>
<rect x="157.3" y="269.4" width="0.9" height="0.9" fill="#555" opacity="0.6"/>
<rect x="158.9" y="276.5" width="0.9" height="0.9" fill="#000" opacity="0.6"/>
<rect x="146.3" y="275.5" width="0.9" height="0.9" fill="#000" opacity="0.6"/>
<rect x="159.2" y="275.6" width="0.9" height="0.9" fill="#000" opacity="0.6"/>
<rect x="153.4" y="282.0" width="0.9" height="0.9" fill="#000" opacity="0.6"/>
<rect x="148.0" y="279.5" width="0.9" height="0.9" fill="#000" opacity="0.6"/>
<rect x="158.3" y="274.7" width="0.9" height="0.9" fill="#000" opacity="0.6"/>
<rect x="151.9" y="280.5" width="0.9" height="0.9" fill="#000" opacity="0.6"/>
<rect x="147.3" y="278.9" width="0.9" height="0.9" fill="#000" opacity="0.6"/>
<rect x="146.9" y="280.6" width="0.9" height="0.9" fill="#000" opacity="0.6"/>
<rect x="155.3" y="268.6" width="0.9" height="0.9" fill="#000" opacity="0.6"/>
<rect x="148.5" y="277.8" width="0.9" height="0.9" fill="#000" opacity="0.6"/>
<rect x="151.0" y="281.8" width="0.9" height="0.9" fill="#000" opacity="0.6"/>
<rect x="160.4" y="280.0" width="0.9" height="0.9" fill="#555" opacity="0.6"/>
<rect x="165.2" y="273.6" width="0.9" height="0.9" fill="#555" opacity="0.6"/>
<rect x="147.8" y="270.0" width="0.9" height="0.9" fill="#000" opacity="0.6"/>
<rect x="149.4" y="272.0" width="0.9" height="0.9" fill="#000" opacity="0.6"/>
<rect x="147.8" y="277.1" width="0.9" height="0.9" fill="#000" opacity="0.6"/>
<rect x="149.1" y="270.1" width="0.9" height="0.9" fill="#555" opacity="0.6"/>
<rect x="150.0" y="278.4" width="0.9" height="0.9" fill="#000" opacity="0.6"/>
<rect x="149.9" y="279.2" width="0.9" height="0.9" fill="#000" opacity="0.6"/>
<rect x="147.6" y="278.1" width="0.9" height="0.9" fill="#000" opacity="0.6"/>
<rect x="159.5" y="282.1" width="0.9" height="0.9" fill="#555" opacity="0.6"/>
<rect x="151.9" y="274.5" width="0.9" height="0.9" fill="#555" opacity="0.6"/>
<rect x="163.4" y="272.3" width="0.9" height="0.9" fill="#000" opacity="0.6"/>
<rect x="157.4" y="266.1" width="0.9" height="0.9" fill="#555" opacity="0.6"/>
<rect x="150.0" y="278.5" width="0.9" height="0.9" fill="#000" opacity="0.6"/>
<rect x="153.6" y="281.9" width="0.9" height="0.9" fill="#000" opacity="0.6"/>
<rect x="164.5" y="278.2" width="0.9" height="0.9" fill="#555" opacity="0.6"/>
<rect x="153.6" y="271.5" width="0.9" height="0.9" fill="#555" opacity="0.6"/>
<rect x="151.5" y="279.2" width="0.9" height="0.9" fill="#000" opacity="0.6"/>
<rect x="157.6" y="282.8" width="0.9" height="0.9" fill="#000" opacity="0.6"/>
<rect x="162.9" y="269.1" width="0.9" height="0.9" fill="#000" opacity="0.6"/>
<rect x="145.7" y="277.9" width="0.9" height="0.9" fill="#000" opacity="0.6"/>
<rect x="146.0" y="272.5" width="0.9" height="0.9" fill="#000" opacity="0.6"/>
<rect x="150.0" y="280.3" width="0.9" height="0.9" fill="#000" opacity="0.6"/>
<rect x="153.6" y="275.6" width="0.9" height="0.9" fill="#000" opacity="0.6"/>
<rect x="148.3" y="280.6" width="0.9" height="0.9" fill="#000" opacity="0.6"/>
<rect x="157.8" y="277.1" width="0.9" height="0.9" fill="#555" opacity="0.6"/>
<rect x="152.2" y="271.1" width="0.9" height="0.9" fill="#000" opacity="0.6"/>
<rect x="164.5" y="268.2" width="0.9" height="0.9" fill="#555" opacity="0.6"/>
<rect x="153.2" y="271.4" width="0.9" height="0.9" fill="#555" opacity="0.6"/>
<rect x="156.0" y="275.6" width="0.9" height="0.9" fill="#555" opacity="0.6"/>
<rect x="151.9" y="272.3" width="0.9" height="0.9" fill="#000" opacity="0.6"/>
<rect x="152.8" y="268.6" width="0.9" height="0.9" fill="#000" opacity="0.6"/>
<rect x="159.0" y="268.6" width="0.9" height="0.9" fill="#000" opacity="0.6"/>
<rect x="149.2" y="270.3" width="0.9" height="0.9" fill="#000" opacity="0.6"/>
<rect x="159.8" y="277.7" width="0.9" height="0.9" fill="#555" opacity="0.6"/>
<rect x="160.1" y="272.2" width="0.9" height="0.9" fill="#555" opacity="0.6"/>
<rect x="156.0" y="268.1" width="0.9" height="0.9" fill="#555" opacity="0.6"/>
<rect x="156.2" y="283.7" width="0.9" height="0.9" fill="#555" opacity="0.6"/>
<rect x="154.0" y="271.2" width="0.9" height="0.9" fill="#555" opacity="0.6"/>
<rect x="152.9" y="282.6" width="0.9" height="0.9" fill="#000" opacity="0.6"/>
<rect x="146.3" y="274.7" width="0.9" height="0.9" fill="#000" opacity="0.6"/>
<rect x="153.3" y="277.9" width="0.9" height="0.9" fill="#555" opacity="0.6"/>
<rect x="160.2" y="269.9" width="0.9" height="0.9" fill="#555" opacity="0.6"/>
<rect x="163.9" y="282.3" width="0.9" height="0.9" fill="#555" opacity="0.6"/>
<rect x="145.9" y="283.5" width="0.9" height="0.9" fill="#000" opacity="0.6"/>
<rect x="156.7" y="269.8" width="0.9" height="0.9" fill="#000" opacity="0.6"/>
<rect x="156.6" y="284.4" width="0.9" height="0.9" fill="#000" opacity="0.6"/>
<rect x="153.3" y="269.4" width="0.9" height="0.9" fill="#000" opacity="0.6"/>
<rect x="147.5" y="280.5" width="0.9" height="0.9" fill="#000" opacity="0.6"/>
<rect x="157.5" y="273.3" width="0.9" height="0.9" fill="#000" opacity="0.6"/>
<rect x="166.0" y="271.4" width="0.9" height="0.9" fill="#555" opacity="0.6"/>
<rect x="147.4" y="283.8" width="0.9" height="0.9" fill="#000" opacity="0.6"/>
<rect x="147.6" y="273.9" width="0.9" height="0.9" fill="#000" opacity="0.6"/>
<rect x="145.6" y="275.4" width="0.9" height="0.9" fill="#000" opacity="0.6"/>
<rect x="147.5" y="271.4" width="0.9" height="0.9" fill="#000" opacity="0.6"/>
<rect x="153.1" y="277.8" width="0.9" height="0.9" fill="#000" opacity="0.6"/>
<rect x="150.2" y="271.9" width="0.9" height="0.9" fill="#000" opacity="0.6"/>
<rect x="152.9" y="272.4" width="0.9" height="0.9" fill="#000" opacity="0.6"/>
<rect x="157.5" y="275.6" width="0.9" height="0.9" fill="#000" opacity="0.6"/>
<rect x="147.4" y="273.4" width="0.9" height="0.9" fill="#000" opacity="0.6"/>
<rect x="159.1" y="274.8" width="0.9" height="0.9" fill="#555" opacity="0.6"/>
<rect x="150.1" y="274.6" width="0.9" height="0.9" fill="#000" opacity="0.6"/>
<rect x="159.8" y="273.3" width="0.9" height="0.9" fill="#000" opacity="0.6"/>
<rect x="150.3" y="269.9" width="0.9" height="0.9" fill="#000" opacity="0.6"/>
<rect x="146.1" y="269.1" width="0.9" height="0.9" fill="#000" opacity="0.6"/>
<rect x="161.8" y="274.8" width="0.9" height="0.9" fill="#000" opacity="0.6"/>
<rect x="164.4" y="274.4" width="0.9" height="0.9" fill="#555" opacity="0.6"/>
<rect x="150.5" y="272.5" width="0.9" height="0.9" fill="#000" opacity="0.6"/>
<rect x="148.1" y="274.1" width="0.9" height="0.9" fill="#000" opacity="0.6"/>
<rect x="158.0" y="282.1" width="0.9" height="0.9" fill="#555" opacity="0.6"/>
<rect x="159.6" y="280.7" width="0.9" height="0.9" fill="#555" opacity="0.6"/>
<rect x="155.4" y="269.3" width="0.9" height="0.9" fill="#555" opacity="0.6"/>
<rect x="151.6" y="281.0" width="0.9" height="0.9" fill="#000" opacity="0.6"/>
<rect x="154.8" y="270.2" width="0.9" height="0.9" fill="#000" opacity="0.6"/>
<rect x="152.6" y="281.9" width="0.9" height="0.9" fill="#555" opacity="0.6"/>
<rect x="160.4" y="277.3" width="0.9" height="0.9" fill="#000" opacity="0.6"/>
<rect x="157.3" y="268.7" width="0.9" height="0.9" fill="#000" opacity="0.6"/>
<rect x="164.6" y="277.5" width="0.9" height="0.9" fill="#555" opacity="0.6"/>
<rect x="157.6" y="276.8" width="0.9" height="0.9" fill="#555" opacity="0.6"/>
<rect x="152.1" y="273.7" width="0.9" height="0.9" fill="#000" opacity="0.6"/>
<rect x="146.8" y="281.7" width="0.9" height="0.9" fill="#000" opacity="0.6"/>
<rect x="163.4" y="281.0" width="0.9" height="0.9" fill="#555" opacity="0.6"/>
<rect x="164.9" y="271.6" width="0.9" height="0.9" fill="#000" opacity="0.6"/>
<rect x="155.4" y="282.0" width="0.9" height="0.9" fill="#555" opacity="0.6"/>
<rect x="152.4" y="278.0" width="0.9" height="0.9" fill="#000" opacity="0.6"/>
<rect x="148.7" y="273.1" width="0.9" height="0.9" fill="#000" opacity="0.6"/>
<rect x="159.4" y="280.9" width="0.9" height="0.9" fill="#555" opacity="0.6"/>
<rect x="151.1" y="269.7" width="0.9" height="0.9" fill="#000" opacity="0.6"/>
<rect x="163.7" y="269.6" width="0.9" height="0.9" fill="#555" opacity="0.6"/>
<rect x="153.1" y="279.1" width="0.9" height="0.9" fill="#000" opacity="0.6"/>
<rect x="151.8" y="276.6" width="0.9" height="0.9" fill="#555" opacity="0.6"/>
<rect x="164.5" y="273.5" width="0.9" height="0.9" fill="#555" opacity="0.6"/>
<rect x="151.1" y="279.1" width="0.9" height="0.9" fill="#555" opacity="0.6"/>
<rect x="148.5" y="280.3" width="0.9" height="0.9" fill="#000" opacity="0.6"/>
<rect x="159.9" y="268.2" width="0.9" height="0.9" fill="#000" opacity="0.6"/>
<rect x="149.4" y="279.1" width="0.9" height="0.9" fill="#000" opacity="0.6"/>
<rect x="162.7" y="277.5" width="0.9" height="0.9" fill="#555" opacity="0.6"/>
<rect x="164.4" y="277.0" width="0.9" height="0.9" fill="#000" opacity="0.6"/>
<rect x="156.4" y="270.8" width="0.9" height="0.9" fill="#000" opacity="0.6"/>
<rect x="148.4" y="276.4" width="0.9" height="0.9" fill="#000" opacity="0.6"/>
<rect x="159.7" y="277.4" width="0.9" height="0.9" fill="#000" opacity="0.6"/>
<rect x="150.3" y="268.8" width="0.9" height="0.9" fill="#000" opacity="0.6"/>
<rect x="148.1" y="279.6" width="0.9" height="0.9" fill="#000" opacity="0.6"/>
<rect x="151.4" y="268.2" width="0.9" height="0.9" fill="#555" opacity="0.6"/>
<rect x="161.2" y="274.9" width="0.9" height="0.9" fill="#555" opacity="0.6"/>
<rect x="149.5" y="283.5" width="0.9" height="0.9" fill="#000" opacity="0.6"/>
<rect x="165.0" y="274.0" width="0.9" height="0.9" fill="#555" opacity="0.6"/>
<rect x="146.7" y="274.7" width="0.9" height="0.9" fill="#000" opacity="0.6"/>
<rect x="163.2" y="269.1" width="0.9" height="0.9" fill="#000" opacity="0.6"/>
<rect x="159.6" y="281.8" width="0.9" height="0.9" fill="#555" opacity="0.6"/>
<rect x="154.4" y="273.9" width="0.9" height="0.9" fill="#555" opacity="0.6"/>
<rect x="152.1" y="279.5" width="0.9" height="0.9" fill="#000" opacity="0.6"/>
<rect x="152.8" y="275.7" width="0.9" height="0.9" fill="#555" opacity="0.6"/>
<rect x="151.8" y="281.2" width="0.9" height="0.9" fill="#000" opacity="0.6"/>
<rect x="154.9" y="282.9" width="0.9" height="0.9" fill="#000" opacity="0.6"/>
<rect x="147.8" y="270.3" width="0.9" height="0.9" fill="#000" opacity="0.6"/>
<rect x="147.8" y="282.3" width="0.9" height="0.9" fill="#000" opacity="0.6"/>
<rect x="153.8" y="273.3" width="0.9" height="0.9" fill="#555" opacity="0.6"/>
<rect x="162.7" y="268.0" width="0.9" height="0.9" fill="#555" opacity="0.6"/>
<rect x="160.5" y="274.5" width="0.9" height="0.9" fill="#555" opacity="0.6"/>
<rect x="163.4" y="273.6" width="0.9" height="0.9" fill="#000" opacity="0.6"/>
<rect x="155.4" y="277.7" width="0.9" height="0.9" fill="#000" opacity="0.6"/>
<rect x="154.9" y="275.2" width="0.9" height="0.9" fill="#000" opacity="0.6"/>
<rect x="164.3" y="266.8" width="0.9" height="0.9" fill="#555" opacity="0.6"/>
<rect x="153.8" y="280.1" width="0.9" height="0.9" fill="#555" opacity="0.6"/>
<rect x="154.7" y="269.3" width="0.9" height="0.9" fill="#000" opacity="0.6"/>
<rect x="148.5" y="273.6" width="0.9" height="0.9" fill="#000" opacity="0.6"/>
<rect x="148.6" y="268.4" width="0.9" height="0.9" fill="#000" opacity="0.6"/>
<rect x="146.7" y="268.2" width="0.9" height="0.9" fill="#000" opacity="0.6"/>
<rect x="157.6" y="274.2" width="0.9" height="0.9" fill="#000" opacity="0.6"/>
<rect x="160.4" y="280.3" width="0.9" height="0.9" fill="#555" opacity="0.6"/>
<rect x="144.7" y="280.4" width="0.9" height="0.9" fill="#000" opacity="0.6"/>
<rect x="148.3" y="278.3" width="0.9" height="0.9" fill="#555" opacity="0.6"/>
<rect x="151.6" y="282.8" width="0.9" height="0.9" fill="#000" opacity="0.6"/>
<rect x="149.5" y="270.4" width="0.9" height="0.9" fill="#000" opacity="0.6"/>
<rect x="154.1" y="268.6" width="0.9" height="0.9" fill="#000" opacity="0.6"/>
<rect x="147.2" y="280.2" width="0.9" height="0.9" fill="#000" opacity="0.6"/>
<rect x="161.8" y="271.3" width="0.9" height="0.9" fill="#555" opacity="0.6"/>
<rect x="152.4" y="278.3" width="0.9" height="0.9" fill="#000" opacity="0.6"/>
<rect x="165.8" y="278.6" width="0.9" height="0.9" fill="#555" opacity="0.6"/>
<rect x="153.0" y="283.4" width="0.9" height="0.9" fill="#000" opacity="0.6"/>
<rect x="150.3" y="272.2" width="0.9" height="0.9" fill="#000" opacity="0.6"/>
<rect x="163.1" y="275.3" width="0.9" height="0.9" fill="#555" opacity="0.6"/>
<rect x="155.7" y="276.1" width="0.9" height="0.9" fill="#000" opacity="0.6"/>
<rect x="164.1" y="268.9" width="0.9" height="0.9" fill="#555" opacity="0.6"/>
<rect x="164.0" y="268.9" width="0.9" height="0.9" fill="#555" opacity="0.6"/>
<rect x="146.1" y="276.7" width="0.9" height="0.9" fill="#000" opacity="0.6"/>
<rect x="165.2" y="275.1" width="0.9" height="0.9" fill="#555" opacity="0.6"/>
<rect x="150.7" y="277.6" width="0.9" height="0.9" fill="#000" opacity="0.6"/>
<rect x="146.6" y="275.0" width="0.9" height="0.9" fill="#000" opacity="0.6"/>
<rect x="149.5" y="268.5" width="0.9" height="0.9" fill="#000" opacity="0.6"/>
<rect x="153.8" y="275.6" width="0.9" height="0.9" fill="#555" opacity="0.6"/>
<rect x="163.5" y="281.6" width="0.9" height="0.9" fill="#555" opacity="0.6"/>
<rect x="150.1" y="281.8" width="0.9" height="0.9" fill="#000" opacity="0.6"/>
<rect x="148.3" y="277.1" width="0.9" height="0.9" fill="#000" opacity="0.6"/>
<rect x="157.9" y="284.0" width="0.9" height="0.9" fill="#000" opacity="0.6"/>
<rect x="164.0" y="267.2" width="0.9" height="0.9" fill="#000" opacity="0.6"/>
<rect x="147.0" y="278.5" width="0.9" height="0.9" fill="#000" opacity="0.6"/>
<rect x="149.3" y="281.8" width="0.9" height="0.9" fill="#555" opacity="0.6"/>
<rect x="167.2" y="273.4" width="0.9" height="0.9" fill="#555" opacity="0.6"/>
<rect x="147.5" y="272.6" width="0.9" height="0.9" fill="#000" opacity="0.6"/>
<rect x="166.2" y="270.5" width="0.9" height="0.9" fill="#555" opacity="0.6"/>
<rect x="162.9" y="268.2" width="0.9" height="0.9" fill="#555" opacity="0.6"/>
<rect x="166.0" y="271.2" width="0.9" height="0.9" fill="#555" opacity="0.6"/>
<rect x="155.8" y="278.4" width="0.9" height="0.9" fill="#000" opacity="0.6"/>
<rect x="165.1" y="273.4" width="0.9" height="0.9" fill="#000" opacity="0.6"/>
<rect x="153.2" y="281.8" width="0.9" height="0.9" fill="#000" opacity="0.6"/>
<rect x="163.2" y="268.7" width="0.9" height="0.9" fill="#555" opacity="0.6"/>
<rect x="148.8" y="267.6" width="0.9" height="0.9" fill="#000" opacity="0.6"/>
<rect x="160.9" y="268.9" width="0.9" height="0.9" fill="#000" opacity="0.6"/>
<rect x="157.8" y="269.9" width="0.9" height="0.9" fill="#000" opacity="0.6"/>
<rect x="157.7" y="274.9" width="0.9" height="0.9" fill="#555" opacity="0.6"/>
<rect x="153.1" y="281.0" width="0.9" height="0.9" fill="#555" opacity="0.6"/>
<rect x="150.0" y="280.5" width="0.9" height="0.9" fill="#000" opacity="0.6"/>
<rect x="153.7" y="272.5" width="0.9" height="0.9" fill="#000" opacity="0.6"/>
<rect x="157.8" y="274.3" width="0.9" height="0.9" fill="#000" opacity="0.6"/>
<rect x="154.7" y="271.6" width="0.9" height="0.9" fill="#000" opacity="0.6"/>
<rect x="159.9" y="267.5" width="0.9" height="0.9" fill="#000" opacity="0.6"/>
<rect x="147.0" y="279.8" width="0.9" height="0.9" fill="#000" opacity="0.6"/>
<rect x="156.4" y="276.5" width="0.9" height="0.9" fill="#555" opacity="0.6"/>
<rect x="163.6" y="282.4" width="0.9" height="0.9" fill="#000" opacity="0.6"/>
<rect x="163.7" y="268.2" width="0.9" height="0.9" fill="#000" opacity="0.6"/>
<rect x="152.8" y="278.2" width="0.9" height="0.9" fill="#555" opacity="0.6"/>
<rect x="148.2" y="281.0" width="0.9" height="0.9" fill="#000" opacity="0.6"/>
<rect x="155.2" y="278.9" width="0.9" height="0.9" fill="#555" opacity="0.6"/>
<rect x="155.7" y="277.2" width="0.9" height="0.9" fill="#000" opacity="0.6"/>
<rect x="148.4" y="274.7" width="0.9" height="0.9" fill="#000" opacity="0.6"/>
<rect x="153.1" y="268.2" width="0.9" height="0.9" fill="#000" opacity="0.6"/>
<rect x="156.7" y="281.1" width="0.9" height="0.9" fill="#000" opacity="0.6"/>
<rect x="155.3" y="270.3" width="0.9" height="0.9" fill="#555" opacity="0.6"/>
<rect x="160.0" y="271.1" width="0.9" height="0.9" fill="#555" opacity="0.6"/>
<rect x="155.6" y="271.7" width="0.9" height="0.9" fill="#555" opacity="0.6"/>
<rect x="161.2" y="280.1" width="0.9" height="0.9" fill="#555" opacity="0.6"/>
<rect x="147.7" y="272.6" width="0.9" height="0.9" fill="#000" opacity="0.6"/>
<rect x="161.8" y="273.5" width="0.9" height="0.9" fill="#000" opacity="0.6"/>
<rect x="167.4" y="274.2" width="0.9" height="0.9" fill="#555" opacity="0.6"/>
<rect x="161.4" y="280.2" width="0.9" height="0.9" fill="#000" opacity="0.6"/>
<rect x="147.9" y="280.1" width="0.9" height="0.9" fill="#000" opacity="0.6"/>
<rect x="166.0" y="272.9" width="0.9" height="0.9" fill="#555" opacity="0.6"/>
<rect x="161.0" y="277.7" width="0.9" height="0.9" fill="#555" opacity="0.6"/>
<rect x="146.8" y="271.5" width="0.9" height="0.9" fill="#000" opacity="0.6"/>
<rect x="151.2" y="279.0" width="0.9" height="0.9" fill="#000" opacity="0.6"/>
<rect x="152.7" y="271.9" width="0.9" height="0.9" fill="#000" opacity="0.6"/>
<rect x="152.7" y="274.6" width="0.9" height="0.9" fill="#555" opacity="0.6"/>
<rect x="163.0" y="270.5" width="0.9" height="0.9" fill="#000" opacity="0.6"/>
<rect x="158.2" y="274.6" width="0.9" height="0.9" fill="#555" opacity="0.6"/>
<rect x="157.4" y="278.6" width="0.9" height="0.9" fill="#000" opacity="0.6"/>
<rect x="157.8" y="283.0" width="0.9" height="0.9" fill="#000" opacity="0.6"/>
<rect x="145.0" y="272.4" width="0.9" height="0.9" fill="#000" opacity="0.6"/>
<rect x="164.5" y="281.1" width="0.9" height="0.9" fill="#000" opacity="0.6"/>
<rect x="148.4" y="279.0" width="0.9" height="0.9" fill="#000" opacity="0.6"/>
<rect x="157.9" y="275.3" width="0.9" height="0.9" fill="#000" opacity="0.6"/>
<rect x="148.4" y="276.4" width="0.9" height="0.9" fill="#000" opacity="0.6"/>
<rect x="153.4" y="271.3" width="0.9" height="0.9" fill="#555" opacity="0.6"/>
<rect x="154.6" y="273.1" width="0.9" height="0.9" fill="#000" opacity="0.6"/>
<rect x="149.3" y="275.5" width="0.9" height="0.9" fill="#000" opacity="0.6"/>
<rect x="150.6" y="279.1" width="0.9" height="0.9" fill="#555" opacity="0.6"/>
<rect x="152.7" y="280.6" width="0.9" height="0.9" fill="#000" opacity="0.6"/>
<rect x="148.7" y="270.9" width="0.9" height="0.9" fill="#000" opacity="0.6"/>
<rect x="147.8" y="282.2" width="0.9" height="0.9" fill="#000" opacity="0.6"/>
<rect x="146.8" y="279.5" width="0.9" height="0.9" fill="#000" opacity="0.6"/>
<rect x="144.1" y="268.2" width="0.9" height="0.9" fill="#000" opacity="0.6"/>
<rect x="149.1" y="273.5" width="0.9" height="0.9" fill="#000" opacity="0.6"/>
<rect x="148.5" y="276.0" width="0.9" height="0.9" fill="#000" opacity="0.6"/>
<rect x="164.7" y="279.0" width="0.9" height="0.9" fill="#000" opacity="0.6"/>
<rect x="150.3" y="271.7" width="0.9" height="0.9" fill="#000" opacity="0.6"/>
<rect x="145.6" y="270.1" width="0.9" height="0.9" fill="#000" opacity="0.6"/>
<rect x="148.5" y="275.1" width="0.9" height="0.9" fill="#000" opacity="0.6"/>
<rect x="147.4" y="281.5" width="0.9" height="0.9" fill="#000" opacity="0.6"/>
<rect x="150.4" y="282.4" width="0.9" height="0.9" fill="#000" opacity="0.6"/>
<rect x="157.4" y="270.3" width="0.9" height="0.9" fill="#000" opacity="0.6"/>
<rect x="147.7" y="271.1" width="0.9" height="0.9" fill="#000" opacity="0.6"/>
<rect x="158.9" y="279.4" width="0.9" height="0.9" fill="#555" opacity="0.6"/>
<rect x="157.7" y="272.8" width="0.9" height="0.9" fill="#000" opacity="0.6"/>
<rect x="158.2" y="277.9" width="0.9" height="0.9" fill="#555" opacity="0.6"/>
<rect x="151.5" y="280.4" width="0.9" height="0.9" fill="#000" opacity="0.6"/>
<rect x="166.1" y="275.8" width="0.9" height="0.9" fill="#555" opacity="0.6"/>
<rect x="159.2" y="273.9" width="0.9" height="0.9" fill="#555" opacity="0.6"/>
<rect x="158.3" y="278.7" width="0.9" height="0.9" fill="#000" opacity="0.6"/>
<rect x="155.1" y="278.4" width="0.9" height="0.9" fill="#555" opacity="0.6"/>
<rect x="160.8" y="279.1" width="0.9" height="0.9" fill="#000" opacity="0.6"/>
<rect x="148.0" y="276.5" width="0.9" height="0.9" fill="#000" opacity="0.6"/>
<rect x="151.1" y="274.2" width="0.9" height="0.9" fill="#000" opacity="0.6"/>
<rect x="147.6" y="268.9" width="0.9" height="0.9" fill="#000" opacity="0.6"/>
<rect x="149.6" y="280.8" width="0.9" height="0.9" fill="#000" opacity="0.6"/>
<rect x="155.8" y="269.4" width="0.9" height="0.9" fill="#000" opacity="0.6"/>
<rect x="155.1" y="271.9" width="0.9" height="0.9" fill="#000" opacity="0.6"/>
<rect x="162.9" y="275.7" width="0.9" height="0.9" fill="#555" opacity="0.6"/>
<rect x="154.9" y="276.6" width="0.9" height="0.9" fill="#555" opacity="0.6"/>
<rect x="146.8" y="274.4" width="0.9" height="0.9" fill="#000" opacity="0.6"/>
<rect x="151.3" y="274.7" width="0.9" height="0.9" fill="#555" opacity="0.6"/>
<rect x="156.3" y="268.2" width="0.9" height="0.9" fill="#000" opacity="0.6"/>
<rect x="164.0" y="279.3" width="0.9" height="0.9" fill="#555" opacity="0.6"/>
<rect x="155.4" y="274.6" width="0.9" height="0.9" fill="#000" opacity="0.6"/>
<rect x="148.5" y="278.2" width="0.9" height="0.9" fill="#000" opacity="0.6"/>
<rect x="152.0" y="270.3" width="0.9" height="0.9" fill="#000" opacity="0.6"/>
<rect x="163.7" y="269.0" width="0.9" height="0.9" fill="#555" opacity="0.6"/>
<rect x="162.6" y="272.8" width="0.9" height="0.9" fill="#000" opacity="0.6"/>
<rect x="160.7" y="273.1" width="0.9" height="0.9" fill="#000" opacity="0.6"/>
<rect x="150.2" y="278.6" width="0.9" height="0.9" fill="#000" opacity="0.6"/>
<rect x="147.5" y="271.1" width="0.9" height="0.9" fill="#000" opacity="0.6"/>
<rect x="150.6" y="272.8" width="0.9" height="0.9" fill="#000" opacity="0.6"/>
<rect x="167.2" y="268.2" width="0.9" height="0.9" fill="#555" opacity="0.6"/>
<rect x="154.6" y="273.5" width="0.9" height="0.9" fill="#555" opacity="0.6"/>
<rect x="155.4" y="283.3" width="0.9" height="0.9" fill="#000" opacity="0.6"/>
<rect x="156.4" y="271.9" width="0.9" height="0.9" fill="#000" opacity="0.6"/>
<rect x="162.4" y="280.1" width="0.9" height="0.9" fill="#000" opacity="0.6"/>
<rect x="157.0" y="283.5" width="0.9" height="0.9" fill="#555" opacity="0.6"/>
<rect x="146.6" y="280.7" width="0.9" height="0.9" fill="#000" opacity="0.6"/>
<rect x="161.6" y="280.3" width="0.9" height="0.9" fill="#555" opacity="0.6"/>
<rect x="154.2" y="279.7" width="0.9" height="0.9" fill="#000" opacity="0.6"/>
<rect x="145.4" y="282.3" width="0.9" height="0.9" fill="#000" opacity="0.6"/>
<rect x="147.7" y="270.1" width="0.9" height="0.9" fill="#000" opacity="0.6"/>
<rect x="159.5" y="276.3" width="0.9" height="0.9" fill="#555" opacity="0.6"/>
<rect x="164.0" y="278.6" width="0.9" height="0.9" fill="#555" opacity="0.6"/>
<rect x="162.4" y="276.6" width="0.9" height="0.9" fill="#000" opacity="0.6"/>
<rect x="150.9" y="275.4" width="0.9" height="0.9" fill="#000" opacity="0.6"/>
<rect x="150.6" y="273.2" width="0.9" height="0.9" fill="#000" opacity="0.6"/>
<rect x="153.6" y="266.9" width="0.9" height="0.9" fill="#000" opacity="0.6"/>
<rect x="165.0" y="273.3" width="0.9" height="0.9" fill="#555" opacity="0.6"/>
<rect x="165.8" y="278.3" width="0.9" height="0.9" fill="#555" opacity="0.6"/>
<rect x="163.5" y="269.5" width="0.9" height="0.9" fill="#555" opacity="0.6"/>
<rect x="156.7" y="271.0" width="0.9" height="0.9" fill="#000" opacity="0.6"/>
<rect x="162.0" y="278.1" width="0.9" height="0.9" fill="#555" opacity="0.6"/>
<rect x="162.0" y="279.8" width="0.9" height="0.9" fill="#000" opacity="0.6"/>
<rect x="147.7" y="276.5" width="0.9" height="0.9" fill="#000" opacity="0.6"/>
<rect x="154.7" y="269.5" width="0.9" height="0.9" fill="#000" opacity="0.6"/>
<rect x="150.0" y="278.7" width="0.9" height="0.9" fill="#000" opacity="0.6"/>
<rect x="161.6" y="278.9" width="0.9" height="0.9" fill="#000" opacity="0.6"/>
<rect x="160.6" y="275.1" width="0.9" height="0.9" fill="#000" opacity="0.6"/>
<rect x="157.6" y="277.1" width="0.9" height="0.9" fill="#000" opacity="0.6"/>
<rect x="152.7" y="272.0" width="0.9" height="0.9" fill="#000" opacity="0.6"/>
<rect x="150.9" y="277.1" width="0.9" height="0.9" fill="#000" opacity="0.6"/>
<rect x="152.7" y="278.2" width="0.9" height="0.9" fill="#000" opacity="0.6"/>
<rect x="159.2" y="276.6" width="0.9" height="0.9" fill="#555" opacity="0.6"/>
<rect x="151.8" y="273.5" width="0.9" height="0.9" fill="#000" opacity="0.6"/>
<rect x="158.0" y="268.4" width="0.9" height="0.9" fill="#555" opacity="0.6"/>
<rect x="150.8" y="281.3" width="0.9" height="0.9" fill="#000" opacity="0.6"/>
<rect x="161.1" y="266.5" width="0.9" height="0.9" fill="#000" opacity="0.6"/>
<rect x="150.2" y="271.9" width="0.9" height="0.9" fill="#000" opacity="0.6"/>
<rect x="154.8" y="270.4" width="0.9" height="0.9" fill="#000" opacity="0.6"/>
<rect x="156.9" y="269.5" width="0.9" height="0.9" fill="#000" opacity="0.6"/>
<rect x="152.4" y="268.7" width="0.9" height="0.9" fill="#555" opacity="0.6"/>
<rect x="150.4" y="278.5" width="0.9" height="0.9" fill="#000" opacity="0.6"/>
<rect x="148.4" y="269.0" width="0.9" height="0.9" fill="#000" opacity="0.6"/>
<rect x="146.6" y="276.2" width="0.9" height="0.9" fill="#000" opacity="0.6"/>
<rect x="164.1" y="274.5" width="0.9" height="0.9" fill="#555" opacity="0.6"/>
<rect x="151.0" y="268.0" width="0.9" height="0.9" fill="#000" opacity="0.6"/>
<rect x="156.4" y="276.0" width="0.9" height="0.9" fill="#000" opacity="0.6"/>
<rect x="149.6" y="272.9" width="0.9" height="0.9" fill="#555" opacity="0.6"/>
<rect x="161.9" y="274.2" width="0.9" height="0.9" fill="#000" opacity="0.6"/>
<rect x="153.9" y="273.1" width="0.9" height="0.9" fill="#000" opacity="0.6"/>
<rect x="147.1" y="281.6" width="0.9" height="0.9" fill="#000" opacity="0.6"/>
<rect x="147.2" y="274.2" width="0.9" height="0.9" fill="#000" opacity="0.6"/>
<rect x="147.8" y="276.7" width="0.9" height="0.9" fill="#000" opacity="0.6"/>
<rect x="155.4" y="275.5" width="0.9" height="0.9" fill="#000" opacity="0.6"/>
<rect x="147.9" y="281.1" width="0.9" height="0.9" fill="#000" opacity="0.6"/>
<rect x="157.5" y="281.2" width="0.9" height="0.9" fill="#555" opacity="0.6"/>
<rect x="150.5" y="276.1" width="0.9" height="0.9" fill="#000" opacity="0.6"/>
<rect x="151.5" y="281.4" width="0.9" height="0.9" fill="#000" opacity="0.6"/>
<rect x="152.1" y="270.7" width="0.9" height="0.9" fill="#000" opacity="0.6"/>
<rect x="152.6" y="280.3" width="0.9" height="0.9" fill="#000" opacity="0.6"/>
<rect x="149.0" y="280.9" width="0.9" height="0.9" fill="#555" opacity="0.6"/>
<rect x="147.2" y="271.0" width="0.9" height="0.9" fill="#000" opacity="0.6"/>
<rect x="163.4" y="269.7" width="0.9" height="0.9" fill="#000" opacity="0.6"/>
<rect x="159.4" y="280.9" width="0.9" height="0.9" fill="#555" opacity="0.6"/>
<rect x="153.3" y="273.2" width="0.9" height="0.9" fill="#000" opacity="0.6"/>
<rect x="153.9" y="284.6" width="0.9" height="0.9" fill="#000" opacity="0.6"/>
<rect x="165.5" y="278.5" width="0.9" height="0.9" fill="#555" opacity="0.6"/>
<rect x="162.1" y="274.7" width="0.9" height="0.9" fill="#000" opacity="0.6"/>
<rect x="147.5" y="272.2" width="0.9" height="0.9" fill="#000" opacity="0.6"/>
<rect x="156.5" y="277.7" width="0.9" height="0.9" fill="#555" opacity="0.6"/>
<rect x="150.7" y="280.5" width="0.9" height="0.9" fill="#000" opacity="0.6"/>
<rect x="157.7" y="278.1" width="0.9" height="0.9" fill="#000" opacity="0.6"/>
<rect x="160.5" y="275.0" width="0.9" height="0.9" fill="#000" opacity="0.6"/>
<rect x="152.4" y="270.0" width="0.9" height="0.9" fill="#000" opacity="0.6"/>
<rect x="152.6" y="270.5" width="0.9" height="0.9" fill="#000" opacity="0.6"/>
<rect x="154.2" y="272.6" width="0.9" height="0.9" fill="#000" opacity="0.6"/>
<rect x="153.0" y="279.1" width="0.9" height="0.9" fill="#000" opacity="0.6"/>
<rect x="156.5" y="271.7" width="0.9" height="0.9" fill="#000" opacity="0.6"/>
<rect x="160.1" y="277.3" width="0.9" height="0.9" fill="#000" opacity="0.6"/>
<rect x="149.5" y="279.9" width="0.9" height="0.9" fill="#000" opacity="0.6"/>
<rect x="150.5" y="282.1" width="0.9" height="0.9" fill="#000" opacity="0.6"/>
<rect x="160.4" y="282.8" width="0.9" height="0.9" fill="#000" opacity="0.6"/>
<rect x="165.4" y="269.5" width="0.9" height="0.9" fill="#555" opacity="0.6"/>
<rect x="162.1" y="276.6" width="0.9" height="0.9" fill="#555" opacity="0.6"/>
<rect x="151.4" y="277.2" width="0.9" height="0.9" fill="#555" opacity="0.6"/>
<rect x="166.4" y="271.8" width="0.9" height="0.9" fill="#000" opacity="0.6"/>
<rect x="156.5" y="279.9" width="0.9" height="0.9" fill="#000" opacity="0.6"/>
<rect x="164.4" y="270.5" width="0.9" height="0.9" fill="#555" opacity="0.6"/>
<rect x="158.6" y="282.0" width="0.9" height="0.9" fill="#000" opacity="0.6"/>
<rect x="154.9" y="281.0" width="0.9" height="0.9" fill="#000" opacity="0.6"/>
<rect x="158.3" y="280.4" width="0.9" height="0.9" fill="#000" opacity="0.6"/>
<rect x="155.4" y="277.6" width="0.9" height="0.9" fill="#000" opacity="0.6"/>
<rect x="151.7" y="274.6" width="0.9" height="0.9" fill="#000" opacity="0.6"/>
<rect x="159.5" y="271.5" width="0.9" height="0.9" fill="#000" opacity="0.6"/>
<rect x="154.1" y="278.0" width="0.9" height="0.9" fill="#000" opacity="0.6"/>
<rect x="165.0" y="282.3" width="0.9" height="0.9" fill="#555" opacity="0.6"/>
<rect x="149.7" y="276.0" width="0.9" height="0.9" fill="#000" opacity="0.6"/>
<rect x="148.4" y="271.2" width="0.9" height="0.9" fill="#000" opacity="0.6"/>
<rect x="151.5" y="281.1" width="0.9" height="0.9" fill="#000" opacity="0.6"/>
<rect x="159.6" y="274.9" width="0.9" height="0.9" fill="#555" opacity="0.6"/>
<rect x="153.6" y="271.6" width="0.9" height="0.9" fill="#000" opacity="0.6"/>
<rect x="156.5" y="280.1" width="0.9" height="0.9" fill="#000" opacity="0.6"/>
<rect x="161.4" y="280.8" width="0.9" height="0.9" fill="#000" opacity="0.6"/>
<rect x="146.7" y="279.7" width="0.9" height="0.9" fill="#000" opacity="0.6"/>
<rect x="151.6" y="276.1" width="0.9" height="0.9" fill="#555" opacity="0.6"/>
<rect x="152.7" y="281.0" width="0.9" height="0.9" fill="#555" opacity="0.6"/>
<rect x="149.8" y="270.2" width="0.9" height="0.9" fill="#000" opacity="0.6"/>
<rect x="157.9" y="280.7" width="0.9" height="0.9" fill="#000" opacity="0.6"/>
<rect x="146.4" y="280.2" width="0.9" height="0.9" fill="#000" opacity="0.6"/>
<rect x="165.0" y="271.3" width="0.9" height="0.9" fill="#555" opacity="0.6"/>
<rect x="158.0" y="270.7" width="0.9" height="0.9" fill="#555" opacity="0.6"/>
<rect x="156.0" y="282.5" width="0.9" height="0.9" fill="#555" opacity="0.6"/>
<rect x="148.2" y="272.8" width="0.9" height="0.9" fill="#000" opacity="0.6"/>
<rect x="153.2" y="270.5" width="0.9" height="0.9" fill="#000" opacity="0.6"/>
<rect x="148.0" y="275.3" width="0.9" height="0.9" fill="#000" opacity="0.6"/>
<rect x="153.0" y="274.4" width="0.9" height="0.9" fill="#000" opacity="0.6"/>
<rect x="164.7" y="270.7" width="0.9" height="0.9" fill="#555" opacity="0.6"/>
<rect x="160.6" y="280.5" width="0.9" height="0.9" fill="#000" opacity="0.6"/>
<rect x="163.6" y="271.8" width="0.9" height="0.9" fill="#000" opacity="0.6"/>
<rect x="148.9" y="274.6" width="0.9" height="0.9" fill="#000" opacity="0.6"/>
<rect x="151.9" y="270.2" width="0.9" height="0.9" fill="#000" opacity="0.6"/>
<rect x="152.1" y="271.8" width="0.9" height="0.9" fill="#000" opacity="0.6"/>
<rect x="160.5" y="274.3" width="0.9" height="0.9" fill="#555" opacity="0.6"/>
<rect x="160.8" y="267.3" width="0.9" height="0.9" fill="#000" opacity="0.6"/>
<rect x="158.2" y="275.5" width="0.9" height="0.9" fill="#000" opacity="0.6"/>
<rect x="149.4" y="275.9" width="0.9" height="0.9" fill="#000" opacity="0.6"/>
<rect x="155.2" y="279.3" width="0.9" height="0.9" fill="#000" opacity="0.6"/>
<rect x="160.6" y="275.1" width="0.9" height="0.9" fill="#000" opacity="0.6"/>
<rect x="150.7" y="275.9" width="0.9" height="0.9" fill="#555" opacity="0.6"/>
<rect x="151.8" y="271.1" width="0.9" height="0.9" fill="#000" opacity="0.6"/>
<rect x="148.3" y="280.4" width="0.9" height="0.9" fill="#000" opacity="0.6"/>
<rect x="154.5" y="273.7" width="0.9" height="0.9" fill="#000" opacity="0.6"/>
<rect x="155.9" y="272.5" width="0.9" height="0.9" fill="#000" opacity="0.6"/>
<rect x="160.0" y="273.8" width="0.9" height="0.9" fill="#555" opacity="0.6"/>
<rect x="153.5" y="278.9" width="0.9" height="0.9" fill="#555" opacity="0.6"/>
<rect x="147.5" y="272.5" width="0.9" height="0.9" fill="#000" opacity="0.6"/>
<rect x="157.8" y="276.4" width="0.9" height="0.9" fill="#555" opacity="0.6"/>
<rect x="165.7" y="273.4" width="0.9" height="0.9" fill="#000" opacity="0.6"/>
<rect x="148.4" y="271.6" width="0.9" height="0.9" fill="#000" opacity="0.6"/>
<rect x="147.2" y="267.9" width="0.9" height="0.9" fill="#000" opacity="0.6"/>
<rect x="151.9" y="283.2" width="0.9" height="0.9" fill="#000" opacity="0.6"/>
<rect x="164.3" y="273.6" width="0.9" height="0.9" fill="#000" opacity="0.6"/>
<rect x="155.9" y="272.1" width="0.9" height="0.9" fill="#000" opacity="0.6"/>
<rect x="163.2" y="268.4" width="0.9" height="0.9" fill="#000" opacity="0.6"/>
<rect x="147.0" y="273.5" width="0.9" height="0.9" fill="#000" opacity="0.6"/>
<rect x="152.9" y="281.4" width="0.9" height="0.9" fill="#000" opacity="0.6"/>
<rect x="159.2" y="281.4" width="0.9" height="0.9" fill="#000" opacity="0.6"/>
<rect x="157.1" y="272.1" width="0.9" height="0.9" fill="#555" opacity="0.6"/>
<rect x="155.3" y="269.6" width="0.9" height="0.9" fill="#555" opacity="0.6"/>
<rect x="158.3" y="276.2" width="0.9" height="0.9" fill="#000" opacity="0.6"/>
<rect x="147.4" y="280.6" width="0.9" height="0.9" fill="#000" opacity="0.6"/>
<rect x="150.6" y="280.5" width="0.9" height="0.9" fill="#555" opacity="0.6"/>
<rect x="155.5" y="273.8" width="0.9" height="0.9" fill="#000" opacity="0.6"/>
<rect x="147.5" y="279.1" width="0.9" height="0.9" fill="#000" opacity="0.6"/>
<rect x="158.5" y="269.1" width="0.9" height="0.9" fill="#000" opacity="0.6"/>
<rect x="154.8" y="281.0" width="0.9" height="0.9" fill="#555" opacity="0.6"/>
<rect x="146.4" y="279.3" width="0.9" height="0.9" fill="#000" opacity="0.6"/>
<rect x="163.0" y="271.2" width="0.9" height="0.9" fill="#555" opacity="0.6"/>
<rect x="158.7" y="284.4" width="0.9" height="0.9" fill="#000" opacity="0.6"/>
<rect x="161.0" y="276.3" width="0.9" height="0.9" fill="#000" opacity="0.6"/>
<rect x="158.1" y="277.8" width="0.9" height="0.9" fill="#000" opacity="0.6"/>
<rect x="156.8" y="282.6" width="0.9" height="0.9" fill="#000" opacity="0.6"/>
<rect x="155.7" y="278.0" width="0.9" height="0.9" fill="#555" opacity="0.6"/>
<rect x="149.1" y="267.5" width="0.9" height="0.9" fill="#000" opacity="0.6"/>
<rect x="157.3" y="273.9" width="0.9" height="0.9" fill="#000" opacity="0.6"/>
<rect x="148.5" y="275.3" width="0.9" height="0.9" fill="#000" opacity="0.6"/>
<rect x="148.0" y="277.0" width="0.9" height="0.9" fill="#000" opacity="0.6"/>
<rect x="149.0" y="269.3" width="0.9" height="0.9" fill="#000" opacity="0.6"/>
<rect x="151.0" y="281.0" width="0.9" height="0.9" fill="#000" opacity="0.6"/>
<rect x="159.8" y="269.0" width="0.9" height="0.9" fill="#555" opacity="0.6"/>
<rect x="164.6" y="273.2" width="0.9" height="0.9" fill="#000" opacity="0.6"/>
<rect x="162.5" y="279.5" width="0.9" height="0.9" fill="#555" opacity="0.6"/>
<rect x="156.7" y="278.6" width="0.9" height="0.9" fill="#555" opacity="0.6"/>
<rect x="156.9" y="270.4" width="0.9" height="0.9" fill="#555" opacity="0.6"/>
<rect x="150.5" y="281.9" width="0.9" height="0.9" fill="#000" opacity="0.6"/>
<rect x="147.3" y="277.7" width="0.9" height="0.9" fill="#000" opacity="0.6"/>
<rect x="161.8" y="272.9" width="0.9" height="0.9" fill="#555" opacity="0.6"/>
<rect x="160.3" y="274.4" width="0.9" height="0.9" fill="#000" opacity="0.6"/>
<rect x="147.7" y="270.8" width="0.9" height="0.9" fill="#000" opacity="0.6"/>
<rect x="162.1" y="272.4" width="0.9" height="0.9" fill="#000" opacity="0.6"/>
<rect x="152.7" y="273.2" width="0.9" height="0.9" fill="#000" opacity="0.6"/>
<rect x="146.0" y="269.0" width="0.9" height="0.9" fill="#000" opacity="0.6"/>
<rect x="147.7" y="270.3" width="0.9" height="0.9" fill="#000" opacity="0.6"/>
<rect x="165.8" y="275.8" width="0.9" height="0.9" fill="#555" opacity="0.6"/>
<rect x="153.7" y="273.4" width="0.9" height="0.9" fill="#000" opacity="0.6"/>
<rect x="151.2" y="267.0" width="0.9" height="0.9" fill="#000" opacity="0.6"/>
<rect x="149.6" y="271.5" width="0.9" height="0.9" fill="#000" opacity="0.6"/>
<rect x="164.2" y="278.9" width="0.9" height="0.9" fill="#555" opacity="0.6"/>
<rect x="158.1" y="280.5" width="0.9" height="0.9" fill="#555" opacity="0.6"/>
<rect x="149.2" y="267.2" width="0.9" height="0.9" fill="#000" opacity="0.6"/>
<rect x="148.9" y="268.3" width="0.9" height="0.9" fill="#000" opacity="0.6"/>
<rect x="151.2" y="277.8" width="0.9" height="0.9" fill="#000" opacity="0.6"/>
<rect x="159.2" y="278.7" width="0.9" height="0.9" fill="#555" opacity="0.6"/>
<rect x="159.0" y="268.9" width="0.9" height="0.9" fill="#555" opacity="0.6"/>
<rect x="153.6" y="278.6" width="0.9" height="0.9" fill="#000" opacity="0.6"/>
<rect x="160.1" y="270.2" width="0.9" height="0.9" fill="#000" opacity="0.6"/>
<rect x="162.5" y="272.8" width="0.9" height="0.9" fill="#555" opacity="0.6"/>
<rect x="148.4" y="275.3" width="0.9" height="0.9" fill="#000" opacity="0.6"/>
<rect x="147.7" y="281.8" width="0.9" height="0.9" fill="#000" opacity="0.6"/>
<rect x="152.6" y="276.8" width="0.9" height="0.9" fill="#000" opacity="0.6"/>
<rect x="156.2" y="281.5" width="0.9" height="0.9" fill="#000" opacity="0.6"/>
<rect x="165.6" y="277.9" width="0.9" height="0.9" fill="#000" opacity="0.6"/>
<rect x="163.3" y="268.1" width="0.9" height="0.9" fill="#000" opacity="0.6"/>
<rect x="160.7" y="283.0" width="0.9" height="0.9" fill="#555" opacity="0.6"/>
<rect x="163.2" y="270.0" width="0.9" height="0.9" fill="#555" opacity="0.6"/>
<rect x="147.7" y="276.2" width="0.9" height="0.9" fill="#000" opacity="0.6"/>
<rect x="161.3" y="282.7" width="0.9" height="0.9" fill="#555" opacity="0.6"/>
<rect x="161.0" y="280.9" width="0.9" height="0.9" fill="#555" opacity="0.6"/>
<rect x="159.2" y="273.2" width="0.9" height="0.9" fill="#555" opacity="0.6"/>
<rect x="163.3" y="271.1" width="0.9" height="0.9" fill="#555" opacity="0.6"/>
<rect x="159.9" y="280.0" width="0.9" height="0.9" fill="#000" opacity="0.6"/>
<rect x="151.5" y="280.8" width="0.9" height="0.9" fill="#000" opacity="0.6"/>
<rect x="161.8" y="271.3" width="0.9" height="0.9" fill="#555" opacity="0.6"/>
<rect x="162.2" y="272.2" width="0.9" height="0.9" fill="#000" opacity="0.6"/>
<rect x="150.4" y="283.1" width="0.9" height="0.9" fill="#000" opacity="0.6"/>
<rect x="152.1" y="275.7" width="0.9" height="0.9" fill="#000" opacity="0.6"/>
<rect x="155.8" y="276.5" width="0.9" height="0.9" fill="#555" opacity="0.6"/>
<rect x="149.3" y="276.8" width="0.9" height="0.9" fill="#000" opacity="0.6"/>
<rect x="153.7" y="275.5" width="0.9" height="0.9" fill="#000" opacity="0.6"/>
<rect x="149.0" y="276.7" width="0.9" height="0.9" fill="#000" opacity="0.6"/>
<rect x="148.4" y="278.0" width="0.9" height="0.9" fill="#000" opacity="0.6"/>
<rect x="163.3" y="282.4" width="0.9" height="0.9" fill="#555" opacity="0.6"/>
<rect x="155.7" y="281.4" width="0.9" height="0.9" fill="#000" opacity="0.6"/>
<rect x="154.1" y="269.7" width="0.9" height="0.9" fill="#000" opacity="0.6"/>
<rect x="160.0" y="279.1" width="0.9" height="0.9" fill="#555" opacity="0.6"/>
<rect x="149.7" y="270.1" width="0.9" height="0.9" fill="#555" opacity="0.6"/>
<rect x="162.3" y="280.8" width="0.9" height="0.9" fill="#000" opacity="0.6"/>
<rect x="157.6" y="273.8" width="0.9" height="0.9" fill="#000" opacity="0.6"/>
<rect x="146.6" y="281.6" width="0.9" height="0.9" fill="#000" opacity="0.6"/>
<rect x="157.8" y="276.3" width="0.9" height="0.9" fill="#555" opacity="0.6"/>
<rect x="149.3" y="269.4" width="0.9" height="0.9" fill="#000" opacity="0.6"/>
<rect x="156.8" y="275.2" width="0.9" height="0.9" fill="#555" opacity="0.6"/>
<rect x="159.0" y="268.5" width="0.9" height="0.9" fill="#555" opacity="0.6"/>
<rect x="147.6" y="278.1" width="0.9" height="0.9" fill="#000" opacity="0.6"/>
<rect x="147.8" y="281.7" width="0.9" height="0.9" fill="#000" opacity="0.6"/>
<rect x="157.2" y="277.5" width="0.9" height="0.9" fill="#555" opacity="0.6"/>
<rect x="146.9" y="274.6" width="0.9" height="0.9" fill="#000" opacity="0.6"/>
<rect x="153.9" y="269.7" width="0.9" height="0.9" fill="#000" opacity="0.6"/>
<rect x="146.9" y="268.7" width="0.9" height="0.9" fill="#000" opacity="0.6"/>
<rect x="150.4" y="267.9" width="0.9" height="0.9" fill="#000" opacity="0.6"/>
<rect x="152.7" y="272.6" width="0.9" height="0.9" fill="#000" opacity="0.6"/>
<rect x="158.6" y="281.7" width="0.9" height="0.9" fill="#000" opacity="0.6"/>
<rect x="160.2" y="268.2" width="0.9" height="0.9" fill="#555" opacity="0.6"/>
<rect x="151.9" y="273.8" width="0.9" height="0.9" fill="#000" opacity="0.6"/>
<rect x="159.0" y="268.8" width="0.9" height="0.9" fill="#555" opacity="0.6"/>
<rect x="160.0" y="279.1" width="0.9" height="0.9" fill="#000" opacity="0.6"/>
<rect x="152.6" y="281.7" width="0.9" height="0.9" fill="#000" opacity="0.6"/>
<rect x="155.7" y="268.5" width="0.9" height="0.9" fill="#000" opacity="0.6"/>
<rect x="157.4" y="279.6" width="0.9" height="0.9" fill="#000" opacity="0.6"/>
<rect x="155.1" y="282.0" width="0.9" height="0.9" fill="#555" opacity="0.6"/>
<rect x="153.9" y="275.1" width="0.9" height="0.9" fill="#000" opacity="0.6"/>
<rect x="149.3" y="277.5" width="0.9" height="0.9" fill="#000" opacity="0.6"/>
<rect x="149.9" y="273.1" width="0.9" height="0.9" fill="#000" opacity="0.6"/>
<rect x="165.1" y="278.3" width="0.9" height="0.9" fill="#555" opacity="0.6"/>
<rect x="155.0" y="281.6" width="0.9" height="0.9" fill="#000" opacity="0.6"/>
<rect x="150.9" y="281.2" width="0.9" height="0.9" fill="#555" opacity="0.6"/>
<rect x="154.2" y="268.2" width="0.9" height="0.9" fill="#000" opacity="0.6"/>
<rect x="150.4" y="275.7" width="0.9" height="0.9" fill="#000" opacity="0.6"/>
<rect x="162.3" y="281.6" width="0.9" height="0.9" fill="#000" opacity="0.6"/>
<rect x="155.9" y="274.2" width="0.9" height="0.9" fill="#555" opacity="0.6"/>
<rect x="158.5" y="270.3" width="0.9" height="0.9" fill="#555" opacity="0.6"/>
<rect x="146.9" y="273.6" width="0.9" height="0.9" fill="#000" opacity="0.6"/>
<rect x="145.8" y="271.9" width="0.9" height="0.9" fill="#000" opacity="0.6"/>
<rect x="163.9" y="277.3" width="0.9" height="0.9" fill="#000" opacity="0.6"/>
<rect x="163.9" y="275.5" width="0.9" height="0.9" fill="#555" opacity="0.6"/>
<rect x="150.2" y="269.4" width="0.9" height="0.9" fill="#000" opacity="0.6"/>
<rect x="149.9" y="277.9" width="0.9" height="0.9" fill="#000" opacity="0.6"/>
<rect x="165.6" y="273.2" width="0.9" height="0.9" fill="#555" opacity="0.6"/>
<rect x="158.5" y="273.2" width="0.9" height="0.9" fill="#555" opacity="0.6"/>
<rect x="146.1" y="278.3" width="0.9" height="0.9" fill="#000" opacity="0.6"/>
<rect x="146.1" y="276.5" width="0.9" height="0.9" fill="#000" opacity="0.6"/>
<rect x="151.6" y="277.0" width="0.9" height="0.9" fill="#000" opacity="0.6"/>
<rect x="157.7" y="268.0" width="0.9" height="0.9" fill="#000" opacity="0.6"/>
<rect x="153.8" y="282.5" width="0.9" height="0.9" fill="#555" opacity="0.6"/>
<rect x="152.1" y="271.3" width="0.9" height="0.9" fill="#000" opacity="0.6"/>
<rect x="148.5" y="275.1" width="0.9" height="0.9" fill="#000" opacity="0.6"/>
<rect x="160.0" y="274.2" width="0.9" height="0.9" fill="#000" opacity="0.6"/>
<rect x="162.1" y="276.0" width="0.9" height="0.9" fill="#555" opacity="0.6"/>
<rect x="157.7" y="278.8" width="0.9" height="0.9" fill="#555" opacity="0.6"/>
<rect x="164.6" y="278.6" width="0.9" height="0.9" fill="#555" opacity="0.6"/>
<rect x="152.8" y="282.4" width="0.9" height="0.9" fill="#000" opacity="0.6"/>
<rect x="150.6" y="268.3" width="0.9" height="0.9" fill="#000" opacity="0.6"/>
<rect x="146.7" y="281.6" width="0.9" height="0.9" fill="#000" opacity="0.6"/>
<rect x="150.5" y="279.6" width="0.9" height="0.9" fill="#000" opacity="0.6"/>
<rect x="164.4" y="278.5" width="0.9" height="0.9" fill="#555" opacity="0.6"/>
<rect x="159.8" y="268.2" width="0.9" height="0.9" fill="#555" opacity="0.6"/>
<rect x="147.7" y="278.3" width="0.9" height="0.9" fill="#000" opacity="0.6"/>
<rect x="148.8" y="279.2" width="0.9" height="0.9" fill="#000" opacity="0.6"/>
<rect x="161.0" y="276.4" width="0.9" height="0.9" fill="#000" opacity="0.6"/>
<rect x="154.4" y="279.4" width="0.9" height="0.9" fill="#000" opacity="0.6"/>
<rect x="149.5" y="270.3" width="0.9" height="0.9" fill="#555" opacity="0.6"/>
<rect x="158.3" y="276.0" width="0.9" height="0.9" fill="#000" opacity="0.6"/>
<rect x="151.9" y="276.2" width="0.9" height="0.9" fill="#000" opacity="0.6"/>
<rect x="160.8" y="268.8" width="0.9" height="0.9" fill="#000" opacity="0.6"/>
<rect x="152.2" y="277.0" width="0.9" height="0.9" fill="#555" opacity="0.6"/>
<rect x="163.9" y="281.1" width="0.9" height="0.9" fill="#000" opacity="0.6"/>
<rect x="155.9" y="275.2" width="0.9" height="0.9" fill="#000" opacity="0.6"/>
<rect x="160.4" y="273.0" width="0.9" height="0.9" fill="#000" opacity="0.6"/>
<rect x="148.5" y="271.6" width="0.9" height="0.9" fill="#000" opacity="0.6"/>
<rect x="159.5" y="282.8" width="0.9" height="0.9" fill="#555" opacity="0.6"/>
<rect x="155.1" y="278.5" width="0.9" height="0.9" fill="#000" opacity="0.6"/>
<rect x="155.0" y="277.4" width="0.9" height="0.9" fill="#555" opacity="0.6"/>
<rect x="161.9" y="281.7" width="0.9" height="0.9" fill="#555" opacity="0.6"/>
<rect x="149.2" y="279.5" width="0.9" height="0.9" fill="#000" opacity="0.6"/>
<rect x="164.5" y="271.9" width="0.9" height="0.9" fill="#555" opacity="0.6"/>
<rect x="152.9" y="273.2" width="0.9" height="0.9" fill="#000" opacity="0.6"/>
<rect x="146.7" y="275.0" width="0.9" height="0.9" fill="#000" opacity="0.6"/>
<rect x="163.9" y="272.6" width="0.9" height="0.9" fill="#555" opacity="0.6"/>
<rect x="145.9" y="282.4" width="0.9" height="0.9" fill="#000" opacity="0.6"/>
<rect x="153.1" y="279.2" width="0.9" height="0.9" fill="#555" opacity="0.6"/>
<rect x="153.1" y="275.4" width="0.9" height="0.9" fill="#000" opacity="0.6"/>
<rect x="148.2" y="268.0" width="0.9" height="0.9" fill="#000" opacity="0.6"/>
<rect x="152.1" y="272.7" width="0.9" height="0.9" fill="#000" opacity="0.6"/>
<rect x="148.1" y="269.8" width="0.9" height="0.9" fill="#000" opacity="0.6"/>
<rect x="153.5" y="272.4" width="0.9" height="0.9" fill="#000" opacity="0.6"/>
<rect x="161.6" y="273.0" width="0.9" height="0.9" fill="#555" opacity="0.6"/>
<rect x="152.8" y="282.0" width="0.9" height="0.9" fill="#555" opacity="0.6"/>
<rect x="150.5" y="274.9" width="0.9" height="0.9" fill="#000" opacity="0.6"/>
<rect x="162.7" y="271.3" width="0.9" height="0.9" fill="#555" opacity="0.6"/>
<rect x="160.6" y="281.1" width="0.9" height="0.9" fill="#000" opacity="0.6"/>
<rect x="157.3" y="279.8" width="0.9" height="0.9" fill="#000" opacity="0.6"/>
<rect x="159.2" y="271.6" width="0.9" height="0.9" fill="#555" opacity="0.6"/>
<rect x="144.8" y="224" width="33.099999999999994" height="43.30000000000001" fill="none" stroke="#808080" stroke-width="0.9"/>
<line x1="144.8" y1="224.3" x2="177.9" y2="224.3" stroke="#a0a0a0" stroke-width="1.6"/>
<text x="164.5" y="236.6" font-size="9.2" text-anchor="middle" fill="#111" style="stroke-width:0.55px">1.4%</text>
<rect x="117.1" y="227.5745" width="2.2" height="1.6" fill="#888"/>
<rect x="119.0" y="226.5745" width="1" height="1" fill="#999"/>
<rect x="122.39999999999999" y="227.9745" width="1.4" height="1.2" fill="#666"/>
<rect x="117.1" y="237.072" width="2.2" height="1.6" fill="#888"/>
<rect x="119.0" y="236.072" width="1" height="1" fill="#999"/>
<rect x="122.39999999999999" y="237.472" width="1.4" height="1.2" fill="#666"/>
<rect x="117.1" y="254.233" width="2.2" height="1.6" fill="#888"/>
<rect x="119.0" y="253.233" width="1" height="1" fill="#999"/>
<rect x="122.39999999999999" y="254.633" width="1.4" height="1.2" fill="#666"/>
<rect x="117.1" y="270.0185" width="2.2" height="1.6" fill="#888"/>
<rect x="119.0" y="269.0185" width="1" height="1" fill="#999"/>
<rect x="122.39999999999999" y="270.4185" width="1.4" height="1.2" fill="#666"/>
<rect x="117.1" y="276.11" width="2.2" height="1.6" fill="#888"/>
<rect x="119.0" y="275.11" width="1" height="1" fill="#999"/>
<rect x="122.39999999999999" y="276.51" width="1.4" height="1.2" fill="#222"/>
<rect x="117.1" y="284.6905" width="2.2" height="1.6" fill="#888"/>
<rect x="119.0" y="283.6905" width="1" height="1" fill="#999"/>
<rect x="122.39999999999999" y="285.09049999999996" width="1.4" height="1.2" fill="#666"/>
<rect x="134.01799999999997" y="289.09999999999997" width="2.2" height="1.8" fill="#111"/>
<rect x="133.81799999999998" y="293.9" width="2" height="1.6" fill="#999"/>
<rect x="141.82799999999997" y="289.09999999999997" width="1.3" height="1.2" fill="#777"/>
<rect x="158.868" y="289.09999999999997" width="1.3" height="1.2" fill="#777"/>
<rect x="158.668" y="293.9" width="2" height="1.6" fill="#999"/>
<rect x="172.855" y="289.09999999999997" width="1.3" height="1.2" fill="#777"/>
<rect x="172.655" y="293.9" width="2" height="1.6" fill="#999"/>
<rect x="187.623" y="289.09999999999997" width="1.3" height="1.2" fill="#777"/>
<rect x="187.423" y="293.9" width="2" height="1.6" fill="#999"/>
<rect x="41.7" y="336.9" width="71" height="65.5" fill="none" stroke="#a8a8a8" stroke-width="1"/>
<rect x="70.2" y="376.6" width="0.9" height="0.9" fill="#c8c8c8"/>
<rect x="74.4" y="372.7" width="0.9" height="0.9" fill="#dadada"/>
<rect x="72.5" y="347.0" width="0.9" height="0.9" fill="#dadada"/>
<rect x="76.1" y="376.2" width="0.9" height="0.9" fill="#d0d0d0"/>
<rect x="73.4" y="361.0" width="0.9" height="0.9" fill="#dadada"/>
<rect x="81.2" y="376.1" width="0.9" height="0.9" fill="#c8c8c8"/>
<rect x="68.3" y="361.3" width="0.9" height="0.9" fill="#b8b8b8"/>
<rect x="75.6" y="359.5" width="0.9" height="0.9" fill="#dadada"/>
<rect x="75.2" y="369.1" width="0.9" height="0.9" fill="#d0d0d0"/>
<rect x="84.8" y="376.2" width="0.9" height="0.9" fill="#d0d0d0"/>
<rect x="70.7" y="364.2" width="0.9" height="0.9" fill="#b8b8b8"/>
<rect x="76.1" y="368.1" width="0.9" height="0.9" fill="#c8c8c8"/>
<rect x="75.6" y="368.5" width="0.9" height="0.9" fill="#c0c0c0"/>
<rect x="85.9" y="378.4" width="0.9" height="0.9" fill="#d0d0d0"/>
<rect x="79.7" y="368.3" width="0.9" height="0.9" fill="#c8c8c8"/>
<rect x="77.8" y="372.6" width="0.9" height="0.9" fill="#c8c8c8"/>
<rect x="73.4" y="371.3" width="0.9" height="0.9" fill="#dadada"/>
<rect x="69.1" y="369.6" width="0.9" height="0.9" fill="#d0d0d0"/>
<rect x="65.9" y="374.7" width="0.9" height="0.9" fill="#c0c0c0"/>
<rect x="67.4" y="377.2" width="0.9" height="0.9" fill="#c8c8c8"/>
<rect x="76.5" y="360.5" width="0.9" height="0.9" fill="#c8c8c8"/>
<rect x="71.7" y="378.9" width="0.9" height="0.9" fill="#c0c0c0"/>
<rect x="79.6" y="377.9" width="0.9" height="0.9" fill="#dadada"/>
<rect x="72.4" y="364.3" width="0.9" height="0.9" fill="#b8b8b8"/>
<rect x="76.1" y="373.8" width="0.9" height="0.9" fill="#dadada"/>
<rect x="75.3" y="372.1" width="0.9" height="0.9" fill="#c8c8c8"/>
<rect x="83.5" y="363.4" width="0.9" height="0.9" fill="#c8c8c8"/>
<rect x="70.6" y="367.6" width="0.9" height="0.9" fill="#b8b8b8"/>
<rect x="75.4" y="370.9" width="0.9" height="0.9" fill="#b8b8b8"/>
<rect x="65.4" y="372.6" width="0.9" height="0.9" fill="#c0c0c0"/>
<rect x="73.6" y="376.4" width="0.9" height="0.9" fill="#b8b8b8"/>
<rect x="75.4" y="370.9" width="0.9" height="0.9" fill="#b8b8b8"/>
<rect x="81.9" y="378.7" width="0.9" height="0.9" fill="#c0c0c0"/>
<rect x="85.8" y="368.4" width="0.9" height="0.9" fill="#c8c8c8"/>
<rect x="79.1" y="373.6" width="0.9" height="0.9" fill="#b8b8b8"/>
<rect x="83.2" y="362.0" width="0.9" height="0.9" fill="#c0c0c0"/>
<rect x="84.0" y="377.1" width="0.9" height="0.9" fill="#d0d0d0"/>
<rect x="73.4" y="361.8" width="0.9" height="0.9" fill="#d0d0d0"/>
<rect x="72.4" y="366.4" width="0.9" height="0.9" fill="#c0c0c0"/>
<rect x="68.3" y="371.3" width="0.9" height="0.9" fill="#d0d0d0"/>
<rect x="76.1" y="374.5" width="0.9" height="0.9" fill="#b8b8b8"/>
<rect x="81.8" y="366.8" width="0.9" height="0.9" fill="#b8b8b8"/>
<rect x="72.6" y="370.9" width="0.9" height="0.9" fill="#d0d0d0"/>
<rect x="74.1" y="368.2" width="0.9" height="0.9" fill="#b8b8b8"/>
<rect x="73.9" y="375.5" width="0.9" height="0.9" fill="#c8c8c8"/>
<rect x="74.5" y="373.3" width="0.9" height="0.9" fill="#b8b8b8"/>
<rect x="75.2" y="373.1" width="0.9" height="0.9" fill="#c8c8c8"/>
<rect x="75.7" y="376.5" width="0.9" height="0.9" fill="#c0c0c0"/>
<rect x="77.3" y="367.3" width="0.9" height="0.9" fill="#c8c8c8"/>
<rect x="78.7" y="372.3" width="0.9" height="0.9" fill="#d0d0d0"/>
<rect x="65.1" y="374.8" width="0.9" height="0.9" fill="#c8c8c8"/>
<rect x="82.8" y="373.6" width="0.9" height="0.9" fill="#c0c0c0"/>
<rect x="84.5" y="378.3" width="0.9" height="0.9" fill="#d0d0d0"/>
<rect x="69.7" y="370.6" width="0.9" height="0.9" fill="#d0d0d0"/>
<rect x="86.1" y="371.6" width="0.9" height="0.9" fill="#c0c0c0"/>
<rect x="77.6" y="371.2" width="0.9" height="0.9" fill="#d0d0d0"/>
<rect x="78.4" y="377.6" width="0.9" height="0.9" fill="#c8c8c8"/>
<rect x="72.0" y="360.6" width="0.9" height="0.9" fill="#c8c8c8"/>
<rect x="76.5" y="370.3" width="0.9" height="0.9" fill="#d0d0d0"/>
<rect x="69.9" y="376.0" width="0.9" height="0.9" fill="#d0d0d0"/>
<rect x="84.8" y="370.8" width="0.9" height="0.9" fill="#c0c0c0"/>
<rect x="75.1" y="374.9" width="0.9" height="0.9" fill="#b8b8b8"/>
<rect x="70.4" y="371.2" width="0.9" height="0.9" fill="#c0c0c0"/>
<rect x="76.2" y="378.6" width="0.9" height="0.9" fill="#c0c0c0"/>
<rect x="82.6" y="378.3" width="0.9" height="0.9" fill="#dadada"/>
<rect x="86.4" y="375.9" width="0.9" height="0.9" fill="#c8c8c8"/>
<rect x="76.8" y="376.0" width="0.9" height="0.9" fill="#dadada"/>
<rect x="78.4" y="374.4" width="0.9" height="0.9" fill="#d0d0d0"/>
<rect x="85.6" y="377.0" width="0.9" height="0.9" fill="#c0c0c0"/>
<rect x="80.5" y="376.5" width="0.9" height="0.9" fill="#d0d0d0"/>
<rect x="65.6" y="375.7" width="0.9" height="0.9" fill="#c8c8c8"/>
<rect x="75.0" y="366.2" width="0.9" height="0.9" fill="#dadada"/>
<rect x="66.2" y="367.3" width="0.9" height="0.9" fill="#b8b8b8"/>
<rect x="74.6" y="369.0" width="0.9" height="0.9" fill="#d0d0d0"/>
<rect x="70.9" y="366.2" width="0.9" height="0.9" fill="#dadada"/>
<rect x="71.5" y="377.5" width="0.9" height="0.9" fill="#b8b8b8"/>
<rect x="76.4" y="368.8" width="0.9" height="0.9" fill="#b8b8b8"/>
<rect x="68.0" y="357.6" width="0.9" height="0.9" fill="#c8c8c8"/>
<rect x="81.2" y="365.3" width="0.9" height="0.9" fill="#c8c8c8"/>
<rect x="78.2" y="364.8" width="0.9" height="0.9" fill="#dadada"/>
<rect x="69.8" y="376.3" width="0.9" height="0.9" fill="#c0c0c0"/>
<rect x="77.2" y="371.2" width="0.9" height="0.9" fill="#c0c0c0"/>
<rect x="73.8" y="377.4" width="0.9" height="0.9" fill="#c0c0c0"/>
<rect x="82.0" y="358.5" width="0.9" height="0.9" fill="#c8c8c8"/>
<rect x="77.0" y="361.9" width="0.9" height="0.9" fill="#c8c8c8"/>
<rect x="76.8" y="374.7" width="0.9" height="0.9" fill="#c0c0c0"/>
<rect x="86.4" y="375.9" width="0.9" height="0.9" fill="#c8c8c8"/>
<rect x="75.2" y="362.8" width="0.9" height="0.9" fill="#d0d0d0"/>
<rect x="74.7" y="356.9" width="0.9" height="0.9" fill="#b8b8b8"/>
<rect x="73.0" y="373.7" width="0.9" height="0.9" fill="#dadada"/>
<rect x="85.1" y="374.1" width="0.9" height="0.9" fill="#dadada"/>
<rect x="85.0" y="377.1" width="0.9" height="0.9" fill="#c8c8c8"/>
<rect x="80.9" y="368.7" width="0.9" height="0.9" fill="#dadada"/>
<rect x="67.4" y="367.3" width="0.9" height="0.9" fill="#d0d0d0"/>
<rect x="68.7" y="357.4" width="0.9" height="0.9" fill="#c8c8c8"/>
<rect x="83.0" y="369.2" width="0.9" height="0.9" fill="#d0d0d0"/>
<rect x="72.8" y="366.8" width="0.9" height="0.9" fill="#b8b8b8"/>
<rect x="86.3" y="369.4" width="0.9" height="0.9" fill="#b8b8b8"/>
<rect x="81.3" y="368.8" width="0.9" height="0.9" fill="#c8c8c8"/>
<rect x="78.2" y="372.4" width="0.9" height="0.9" fill="#c0c0c0"/>
<rect x="72.5" y="373.0" width="0.9" height="0.9" fill="#c8c8c8"/>
<rect x="72.8" y="364.0" width="0.9" height="0.9" fill="#d0d0d0"/>
<rect x="74.3" y="364.8" width="0.9" height="0.9" fill="#d0d0d0"/>
<rect x="77.5" y="363.5" width="0.9" height="0.9" fill="#c8c8c8"/>
<rect x="68.0" y="379.0" width="0.9" height="0.9" fill="#dadada"/>
<rect x="82.6" y="377.2" width="0.9" height="0.9" fill="#d0d0d0"/>
<rect x="82.8" y="365.6" width="0.9" height="0.9" fill="#c0c0c0"/>
<rect x="86.4" y="373.4" width="0.9" height="0.9" fill="#d0d0d0"/>
<rect x="83.5" y="368.8" width="0.9" height="0.9" fill="#c0c0c0"/>
<rect x="84.4" y="359.6" width="0.9" height="0.9" fill="#b8b8b8"/>
<rect x="72.8" y="369.7" width="0.9" height="0.9" fill="#c0c0c0"/>
<rect x="69.3" y="372.2" width="0.9" height="0.9" fill="#b8b8b8"/>
<rect x="75.6" y="370.4" width="0.9" height="0.9" fill="#c0c0c0"/>
<rect x="71.9" y="374.8" width="0.9" height="0.9" fill="#d0d0d0"/>
<rect x="79.4" y="367.8" width="0.9" height="0.9" fill="#d0d0d0"/>
<rect x="78.5" y="373.9" width="0.9" height="0.9" fill="#dadada"/>
<rect x="71.6" y="365.2" width="0.9" height="0.9" fill="#c0c0c0"/>
<rect x="76.6" y="365.1" width="0.9" height="0.9" fill="#b8b8b8"/>
<rect x="81.1" y="365.1" width="0.9" height="0.9" fill="#b8b8b8"/>
<rect x="70.3" y="376.2" width="0.9" height="0.9" fill="#c8c8c8"/>
<rect x="78.7" y="371.7" width="0.9" height="0.9" fill="#b8b8b8"/>
<rect x="67.4" y="364.0" width="0.9" height="0.9" fill="#d0d0d0"/>
<rect x="79.5" y="373.7" width="0.9" height="0.9" fill="#b8b8b8"/>
<rect x="83.9" y="375.0" width="0.9" height="0.9" fill="#c8c8c8"/>
<rect x="68.5" y="365.6" width="0.9" height="0.9" fill="#c8c8c8"/>
<rect x="74.8" y="373.2" width="0.9" height="0.9" fill="#dadada"/>
<rect x="73.3" y="375.9" width="0.9" height="0.9" fill="#d0d0d0"/>
<rect x="79.3" y="374.9" width="0.9" height="0.9" fill="#b8b8b8"/>
<rect x="68.8" y="376.0" width="0.9" height="0.9" fill="#d0d0d0"/>
<rect x="66.6" y="379.0" width="0.9" height="0.9" fill="#c8c8c8"/>
<rect x="73.1" y="370.6" width="0.9" height="0.9" fill="#c8c8c8"/>
<rect x="84.4" y="374.4" width="0.9" height="0.9" fill="#c0c0c0"/>
<rect x="68.0" y="371.2" width="0.9" height="0.9" fill="#c8c8c8"/>
<rect x="82.0" y="373.0" width="0.9" height="0.9" fill="#d0d0d0"/>
<rect x="77.3" y="370.6" width="0.9" height="0.9" fill="#d0d0d0"/>
<rect x="79.4" y="371.3" width="0.9" height="0.9" fill="#d0d0d0"/>
<rect x="78.0" y="373.8" width="0.9" height="0.9" fill="#b8b8b8"/>
<rect x="73.4" y="361.0" width="0.9" height="0.9" fill="#dadada"/>
<rect x="85.8" y="376.2" width="0.9" height="0.9" fill="#c8c8c8"/>
<rect x="84.0" y="368.5" width="0.9" height="0.9" fill="#c8c8c8"/>
<rect x="79.4" y="360.7" width="0.9" height="0.9" fill="#dadada"/>
<rect x="68.3" y="366.3" width="0.9" height="0.9" fill="#c0c0c0"/>
<rect x="81.1" y="369.5" width="0.9" height="0.9" fill="#c8c8c8"/>
<rect x="80.0" y="363.0" width="0.9" height="0.9" fill="#d0d0d0"/>
<rect x="65.5" y="379.2" width="0.9" height="0.9" fill="#dadada"/>
<rect x="68.6" y="365.2" width="0.9" height="0.9" fill="#d0d0d0"/>
<rect x="70.1" y="366.0" width="0.9" height="0.9" fill="#c0c0c0"/>
<rect x="66.1" y="371.3" width="0.9" height="0.9" fill="#dadada"/>
<rect x="78.7" y="375.5" width="0.9" height="0.9" fill="#b8b8b8"/>
<rect x="82.5" y="364.7" width="0.9" height="0.9" fill="#c8c8c8"/>
<rect x="82.7" y="378.4" width="0.9" height="0.9" fill="#b8b8b8"/>
<rect x="86.6" y="375.8" width="0.9" height="0.9" fill="#d0d0d0"/>
<rect x="75.5" y="367.9" width="0.9" height="0.9" fill="#c0c0c0"/>
<rect x="79.9" y="368.9" width="0.9" height="0.9" fill="#d0d0d0"/>
<rect x="74.0" y="378.6" width="0.9" height="0.9" fill="#dadada"/>
<rect x="70.7" y="379.1" width="0.9" height="0.9" fill="#dadada"/>
<rect x="81.0" y="375.6" width="0.9" height="0.9" fill="#c0c0c0"/>
<rect x="80.0" y="372.2" width="0.9" height="0.9" fill="#c8c8c8"/>
<rect x="70.8" y="364.2" width="0.9" height="0.9" fill="#d0d0d0"/>
<rect x="70.0" y="365.1" width="0.9" height="0.9" fill="#c8c8c8"/>
<rect x="71.0" y="373.4" width="0.9" height="0.9" fill="#dadada"/>
<rect x="76.2" y="375.1" width="0.9" height="0.9" fill="#c8c8c8"/>
<rect x="69.7" y="379.0" width="0.9" height="0.9" fill="#c0c0c0"/>
<rect x="74.6" y="376.9" width="0.9" height="0.9" fill="#c0c0c0"/>
<rect x="73.3" y="376.4" width="0.9" height="0.9" fill="#d0d0d0"/>
<rect x="70.9" y="375.1" width="0.9" height="0.9" fill="#b8b8b8"/>
<rect x="78.7" y="375.1" width="0.9" height="0.9" fill="#c0c0c0"/>
<rect x="81.7" y="352.5" width="0.9" height="0.9" fill="#dadada"/>
<rect x="84.1" y="376.5" width="0.9" height="0.9" fill="#c8c8c8"/>
<rect x="72.9" y="366.5" width="0.9" height="0.9" fill="#b8b8b8"/>
<rect x="74.6" y="375.5" width="0.9" height="0.9" fill="#c0c0c0"/>
<rect x="78.9" y="379.1" width="0.9" height="0.9" fill="#c0c0c0"/>
<rect x="65.6" y="379.0" width="0.9" height="0.9" fill="#d0d0d0"/>
<rect x="80.5" y="375.4" width="0.9" height="0.9" fill="#dadada"/>
<rect x="72.2" y="378.0" width="0.9" height="0.9" fill="#c0c0c0"/>
<rect x="74.4" y="365.4" width="0.9" height="0.9" fill="#dadada"/>
<rect x="67.8" y="360.8" width="0.9" height="0.9" fill="#c0c0c0"/>
<rect x="75.1" y="375.6" width="0.9" height="0.9" fill="#dadada"/>
<rect x="70.2" y="363.3" width="0.9" height="0.9" fill="#c8c8c8"/>
<rect x="75.0" y="363.1" width="0.9" height="0.9" fill="#dadada"/>
<rect x="71.7" y="368.2" width="0.9" height="0.9" fill="#b8b8b8"/>
<rect x="80.5" y="378.5" width="0.9" height="0.9" fill="#dadada"/>
<rect x="86.4" y="377.6" width="0.9" height="0.9" fill="#c0c0c0"/>
<rect x="85.0" y="371.0" width="0.9" height="0.9" fill="#c0c0c0"/>
<rect x="71.0" y="368.8" width="0.9" height="0.9" fill="#c0c0c0"/>
<rect x="85.3" y="371.5" width="0.9" height="0.9" fill="#b8b8b8"/>
<rect x="87.4" y="379.1" width="0.9" height="0.9" fill="#c0c0c0"/>
<rect x="72.9" y="369.3" width="0.9" height="0.9" fill="#d0d0d0"/>
<rect x="72.4" y="377.5" width="0.9" height="0.9" fill="#d0d0d0"/>
<rect x="79.5" y="378.7" width="0.9" height="0.9" fill="#d0d0d0"/>
<rect x="69.8" y="375.3" width="0.9" height="0.9" fill="#c8c8c8"/>
<rect x="75.1" y="367.7" width="0.9" height="0.9" fill="#dadada"/>
<rect x="72.8" y="370.5" width="0.9" height="0.9" fill="#c0c0c0"/>
<rect x="79.1" y="375.7" width="0.9" height="0.9" fill="#b8b8b8"/>
<rect x="67.5" y="377.7" width="0.9" height="0.9" fill="#c8c8c8"/>
<rect x="66.8" y="377.9" width="0.9" height="0.9" fill="#b8b8b8"/>
<rect x="73.4" y="364.8" width="0.9" height="0.9" fill="#b8b8b8"/>
<rect x="81.0" y="369.1" width="0.9" height="0.9" fill="#d0d0d0"/>
<rect x="70.5" y="378.8" width="0.9" height="0.9" fill="#c0c0c0"/>
<rect x="74.5" y="363.9" width="0.9" height="0.9" fill="#c8c8c8"/>
<rect x="66.7" y="381.0" width="15.287999999999997" height="16.20000000000001" rx="2" fill="url(#cg)" filter="url(#bl2)"/>
<rect x="75.8" y="382.0" width="0.9" height="0.9" fill="#000" opacity="0.6"/>
<rect x="68.7" y="383.8" width="0.9" height="0.9" fill="#000" opacity="0.6"/>
<rect x="68.0" y="384.7" width="0.9" height="0.9" fill="#000" opacity="0.6"/>
<rect x="80.6" y="391.8" width="0.9" height="0.9" fill="#000" opacity="0.6"/>
<rect x="71.0" y="388.2" width="0.9" height="0.9" fill="#000" opacity="0.6"/>
<rect x="82.1" y="380.5" width="0.9" height="0.9" fill="#000" opacity="0.6"/>
<rect x="65.7" y="382.3" width="0.9" height="0.9" fill="#000" opacity="0.6"/>
<rect x="65.4" y="383.6" width="0.9" height="0.9" fill="#000" opacity="0.6"/>
<rect x="65.2" y="394.1" width="0.9" height="0.9" fill="#000" opacity="0.6"/>
<rect x="72.7" y="383.0" width="0.9" height="0.9" fill="#000" opacity="0.6"/>
<rect x="79.1" y="395.2" width="0.9" height="0.9" fill="#000" opacity="0.6"/>
<rect x="80.5" y="389.2" width="0.9" height="0.9" fill="#000" opacity="0.6"/>
<rect x="68.8" y="380.1" width="0.9" height="0.9" fill="#000" opacity="0.6"/>
<rect x="71.1" y="395.6" width="0.9" height="0.9" fill="#000" opacity="0.6"/>
<rect x="65.2" y="379.8" width="0.9" height="0.9" fill="#000" opacity="0.6"/>
<rect x="66.8" y="386.0" width="0.9" height="0.9" fill="#000" opacity="0.6"/>
<rect x="69.6" y="383.8" width="0.9" height="0.9" fill="#000" opacity="0.6"/>
<rect x="81.9" y="393.6" width="0.9" height="0.9" fill="#555" opacity="0.6"/>
<rect x="68.3" y="392.1" width="0.9" height="0.9" fill="#000" opacity="0.6"/>
<rect x="68.2" y="383.3" width="0.9" height="0.9" fill="#000" opacity="0.6"/>
<rect x="75.5" y="394.7" width="0.9" height="0.9" fill="#555" opacity="0.6"/>
<rect x="77.8" y="380.4" width="0.9" height="0.9" fill="#555" opacity="0.6"/>
<rect x="74.1" y="388.7" width="0.9" height="0.9" fill="#000" opacity="0.6"/>
<rect x="79.5" y="387.4" width="0.9" height="0.9" fill="#555" opacity="0.6"/>
<rect x="75.5" y="382.6" width="0.9" height="0.9" fill="#000" opacity="0.6"/>
<rect x="66.6" y="383.9" width="0.9" height="0.9" fill="#000" opacity="0.6"/>
<rect x="68.1" y="382.1" width="0.9" height="0.9" fill="#555" opacity="0.6"/>
<rect x="72.8" y="391.3" width="0.9" height="0.9" fill="#555" opacity="0.6"/>
<rect x="69.4" y="381.8" width="0.9" height="0.9" fill="#000" opacity="0.6"/>
<rect x="78.0" y="381.9" width="0.9" height="0.9" fill="#555" opacity="0.6"/>
<rect x="72.8" y="386.4" width="0.9" height="0.9" fill="#555" opacity="0.6"/>
<rect x="69.1" y="385.4" width="0.9" height="0.9" fill="#555" opacity="0.6"/>
<rect x="68.7" y="391.0" width="0.9" height="0.9" fill="#000" opacity="0.6"/>
<rect x="65.0" y="396.6" width="0.9" height="0.9" fill="#000" opacity="0.6"/>
<rect x="82.4" y="380.6" width="0.9" height="0.9" fill="#555" opacity="0.6"/>
<rect x="67.6" y="395.5" width="0.9" height="0.9" fill="#000" opacity="0.6"/>
<rect x="74.7" y="389.1" width="0.9" height="0.9" fill="#555" opacity="0.6"/>
<rect x="74.6" y="383.6" width="0.9" height="0.9" fill="#555" opacity="0.6"/>
<rect x="76.8" y="386.1" width="0.9" height="0.9" fill="#555" opacity="0.6"/>
<rect x="71.5" y="386.4" width="0.9" height="0.9" fill="#000" opacity="0.6"/>
<rect x="67.4" y="383.3" width="0.9" height="0.9" fill="#000" opacity="0.6"/>
<rect x="78.2" y="380.4" width="0.9" height="0.9" fill="#555" opacity="0.6"/>
<rect x="66.4" y="397.6" width="0.9" height="0.9" fill="#000" opacity="0.6"/>
<rect x="82.8" y="382.3" width="0.9" height="0.9" fill="#555" opacity="0.6"/>
<rect x="64.4" y="381.1" width="0.9" height="0.9" fill="#000" opacity="0.6"/>
<rect x="72.4" y="394.3" width="0.9" height="0.9" fill="#000" opacity="0.6"/>
<rect x="70.6" y="382.3" width="0.9" height="0.9" fill="#000" opacity="0.6"/>
<rect x="70.9" y="392.7" width="0.9" height="0.9" fill="#000" opacity="0.6"/>
<rect x="70.7" y="383.9" width="0.9" height="0.9" fill="#000" opacity="0.6"/>
<rect x="66.6" y="390.8" width="0.9" height="0.9" fill="#000" opacity="0.6"/>
<rect x="74.7" y="387.4" width="0.9" height="0.9" fill="#000" opacity="0.6"/>
<rect x="70.5" y="387.6" width="0.9" height="0.9" fill="#000" opacity="0.6"/>
<rect x="69.4" y="387.7" width="0.9" height="0.9" fill="#000" opacity="0.6"/>
<rect x="74.6" y="393.1" width="0.9" height="0.9" fill="#000" opacity="0.6"/>
<rect x="69.9" y="396.9" width="0.9" height="0.9" fill="#000" opacity="0.6"/>
<rect x="67.1" y="397.6" width="0.9" height="0.9" fill="#000" opacity="0.6"/>
<rect x="68.0" y="382.3" width="0.9" height="0.9" fill="#000" opacity="0.6"/>
<rect x="79.4" y="390.2" width="0.9" height="0.9" fill="#000" opacity="0.6"/>
<rect x="65.0" y="391.4" width="0.9" height="0.9" fill="#000" opacity="0.6"/>
<rect x="68.0" y="381.4" width="0.9" height="0.9" fill="#000" opacity="0.6"/>
<rect x="65.5" y="393.1" width="0.9" height="0.9" fill="#000" opacity="0.6"/>
<rect x="74.9" y="386.5" width="0.9" height="0.9" fill="#000" opacity="0.6"/>
<rect x="81.3" y="388.4" width="0.9" height="0.9" fill="#555" opacity="0.6"/>
<rect x="65.4" y="395.9" width="0.9" height="0.9" fill="#000" opacity="0.6"/>
<rect x="71.9" y="393.3" width="0.9" height="0.9" fill="#000" opacity="0.6"/>
<rect x="71.1" y="395.3" width="0.9" height="0.9" fill="#555" opacity="0.6"/>
<rect x="69.3" y="396.2" width="0.9" height="0.9" fill="#000" opacity="0.6"/>
<rect x="66.6" y="382.8" width="0.9" height="0.9" fill="#000" opacity="0.6"/>
<rect x="79.6" y="387.3" width="0.9" height="0.9" fill="#555" opacity="0.6"/>
<rect x="82.7" y="383.5" width="0.9" height="0.9" fill="#555" opacity="0.6"/>
<rect x="75.3" y="384.7" width="0.9" height="0.9" fill="#000" opacity="0.6"/>
<rect x="78.2" y="395.5" width="0.9" height="0.9" fill="#000" opacity="0.6"/>
<rect x="70.2" y="395.8" width="0.9" height="0.9" fill="#000" opacity="0.6"/>
<rect x="65.7" y="394.9" width="0.9" height="0.9" fill="#000" opacity="0.6"/>
<rect x="68.6" y="379.0" width="0.9" height="0.9" fill="#000" opacity="0.6"/>
<rect x="80.7" y="394.8" width="0.9" height="0.9" fill="#555" opacity="0.6"/>
<rect x="80.3" y="385.3" width="0.9" height="0.9" fill="#555" opacity="0.6"/>
<rect x="72.7" y="390.0" width="0.9" height="0.9" fill="#000" opacity="0.6"/>
<rect x="74.1" y="388.8" width="0.9" height="0.9" fill="#555" opacity="0.6"/>
<rect x="79.3" y="388.7" width="0.9" height="0.9" fill="#555" opacity="0.6"/>
<rect x="78.1" y="387.9" width="0.9" height="0.9" fill="#000" opacity="0.6"/>
<rect x="68.3" y="397.2" width="0.9" height="0.9" fill="#000" opacity="0.6"/>
<rect x="79.5" y="386.9" width="0.9" height="0.9" fill="#555" opacity="0.6"/>
<rect x="80.3" y="382.9" width="0.9" height="0.9" fill="#555" opacity="0.6"/>
<rect x="68.0" y="381.4" width="0.9" height="0.9" fill="#000" opacity="0.6"/>
<rect x="77.8" y="383.5" width="0.9" height="0.9" fill="#555" opacity="0.6"/>
<rect x="73.1" y="387.8" width="0.9" height="0.9" fill="#555" opacity="0.6"/>
<rect x="75.6" y="387.3" width="0.9" height="0.9" fill="#555" opacity="0.6"/>
<rect x="69.2" y="389.7" width="0.9" height="0.9" fill="#000" opacity="0.6"/>
<rect x="66.0" y="388.2" width="0.9" height="0.9" fill="#000" opacity="0.6"/>
<rect x="70.0" y="387.1" width="0.9" height="0.9" fill="#000" opacity="0.6"/>
<rect x="78.8" y="396.1" width="0.9" height="0.9" fill="#555" opacity="0.6"/>
<rect x="69.5" y="385.5" width="0.9" height="0.9" fill="#000" opacity="0.6"/>
<rect x="67.8" y="380.1" width="0.9" height="0.9" fill="#000" opacity="0.6"/>
<rect x="74.8" y="396.7" width="0.9" height="0.9" fill="#000" opacity="0.6"/>
<rect x="74.4" y="385.0" width="0.9" height="0.9" fill="#000" opacity="0.6"/>
<rect x="80.7" y="386.0" width="0.9" height="0.9" fill="#555" opacity="0.6"/>
<rect x="77.6" y="383.4" width="0.9" height="0.9" fill="#555" opacity="0.6"/>
<rect x="68.3" y="384.5" width="0.9" height="0.9" fill="#000" opacity="0.6"/>
<rect x="80.6" y="388.3" width="0.9" height="0.9" fill="#000" opacity="0.6"/>
<rect x="73.2" y="391.8" width="0.9" height="0.9" fill="#000" opacity="0.6"/>
<rect x="67.1" y="389.5" width="0.9" height="0.9" fill="#000" opacity="0.6"/>
<rect x="70.3" y="384.5" width="0.9" height="0.9" fill="#000" opacity="0.6"/>
<rect x="76.7" y="384.2" width="0.9" height="0.9" fill="#555" opacity="0.6"/>
<rect x="71.1" y="392.8" width="0.9" height="0.9" fill="#000" opacity="0.6"/>
<rect x="79.8" y="383.8" width="0.9" height="0.9" fill="#555" opacity="0.6"/>
<rect x="70.0" y="395.9" width="0.9" height="0.9" fill="#555" opacity="0.6"/>
<rect x="66.9" y="381.7" width="0.9" height="0.9" fill="#000" opacity="0.6"/>
<rect x="67.9" y="398.2" width="0.9" height="0.9" fill="#000" opacity="0.6"/>
<rect x="80.5" y="390.4" width="0.9" height="0.9" fill="#555" opacity="0.6"/>
<rect x="82.4" y="385.0" width="0.9" height="0.9" fill="#000" opacity="0.6"/>
<rect x="68.0" y="379.9" width="0.9" height="0.9" fill="#000" opacity="0.6"/>
<rect x="66.8" y="391.9" width="0.9" height="0.9" fill="#000" opacity="0.6"/>
<rect x="68.0" y="396.6" width="0.9" height="0.9" fill="#000" opacity="0.6"/>
<rect x="67.1" y="383.0" width="0.9" height="0.9" fill="#000" opacity="0.6"/>
<rect x="69.8" y="395.1" width="0.9" height="0.9" fill="#000" opacity="0.6"/>
<rect x="69.0" y="392.3" width="0.9" height="0.9" fill="#555" opacity="0.6"/>
<rect x="76.3" y="392.0" width="0.9" height="0.9" fill="#000" opacity="0.6"/>
<rect x="75.8" y="395.0" width="0.9" height="0.9" fill="#555" opacity="0.6"/>
<rect x="76.5" y="385.9" width="0.9" height="0.9" fill="#000" opacity="0.6"/>
<rect x="79.7" y="383.8" width="0.9" height="0.9" fill="#555" opacity="0.6"/>
<rect x="74.9" y="390.7" width="0.9" height="0.9" fill="#000" opacity="0.6"/>
<rect x="68.9" y="382.6" width="0.9" height="0.9" fill="#000" opacity="0.6"/>
<rect x="71.5" y="391.8" width="0.9" height="0.9" fill="#555" opacity="0.6"/>
<rect x="65.5" y="384.4" width="0.9" height="0.9" fill="#000" opacity="0.6"/>
<rect x="71.7" y="384.9" width="0.9" height="0.9" fill="#000" opacity="0.6"/>
<rect x="67.0" y="393.8" width="0.9" height="0.9" fill="#000" opacity="0.6"/>
<rect x="71.5" y="396.8" width="0.9" height="0.9" fill="#000" opacity="0.6"/>
<rect x="66.4" y="389.2" width="0.9" height="0.9" fill="#000" opacity="0.6"/>
<rect x="73.4" y="381.2" width="0.9" height="0.9" fill="#000" opacity="0.6"/>
<rect x="77.9" y="380.0" width="0.9" height="0.9" fill="#000" opacity="0.6"/>
<rect x="65.0" y="379.9" width="0.9" height="0.9" fill="#000" opacity="0.6"/>
<rect x="69.7" y="393.1" width="0.9" height="0.9" fill="#000" opacity="0.6"/>
<rect x="68.8" y="391.3" width="0.9" height="0.9" fill="#555" opacity="0.6"/>
<rect x="76.6" y="387.3" width="0.9" height="0.9" fill="#000" opacity="0.6"/>
<rect x="77.8" y="397.7" width="0.9" height="0.9" fill="#555" opacity="0.6"/>
<rect x="79.3" y="386.3" width="0.9" height="0.9" fill="#555" opacity="0.6"/>
<rect x="65.9" y="393.4" width="0.9" height="0.9" fill="#000" opacity="0.6"/>
<rect x="70.8" y="388.2" width="0.9" height="0.9" fill="#000" opacity="0.6"/>
<rect x="78.8" y="380.9" width="0.9" height="0.9" fill="#555" opacity="0.6"/>
<rect x="71.4" y="393.5" width="0.9" height="0.9" fill="#000" opacity="0.6"/>
<rect x="76.5" y="387.1" width="0.9" height="0.9" fill="#555" opacity="0.6"/>
<rect x="68.7" y="386.5" width="0.9" height="0.9" fill="#000" opacity="0.6"/>
<rect x="70.9" y="394.3" width="0.9" height="0.9" fill="#000" opacity="0.6"/>
<rect x="78.1" y="387.9" width="0.9" height="0.9" fill="#555" opacity="0.6"/>
<rect x="67.9" y="379.3" width="0.9" height="0.9" fill="#000" opacity="0.6"/>
<rect x="79.4" y="388.0" width="0.9" height="0.9" fill="#555" opacity="0.6"/>
<rect x="73.5" y="380.2" width="0.9" height="0.9" fill="#000" opacity="0.6"/>
<rect x="68.3" y="392.4" width="0.9" height="0.9" fill="#000" opacity="0.6"/>
<rect x="66.7" y="388.3" width="0.9" height="0.9" fill="#000" opacity="0.6"/>
<rect x="66.9" y="391.5" width="0.9" height="0.9" fill="#000" opacity="0.6"/>
<rect x="72.0" y="392.3" width="0.9" height="0.9" fill="#000" opacity="0.6"/>
<rect x="72.3" y="379.5" width="0.9" height="0.9" fill="#000" opacity="0.6"/>
<rect x="74.2" y="384.5" width="0.9" height="0.9" fill="#555" opacity="0.6"/>
<rect x="68.0" y="396.1" width="0.9" height="0.9" fill="#000" opacity="0.6"/>
<rect x="70.0" y="389.6" width="0.9" height="0.9" fill="#000" opacity="0.6"/>
<rect x="80.1" y="381.0" width="0.9" height="0.9" fill="#000" opacity="0.6"/>
<rect x="79.5" y="385.2" width="0.9" height="0.9" fill="#555" opacity="0.6"/>
<rect x="78.5" y="386.6" width="0.9" height="0.9" fill="#555" opacity="0.6"/>
<rect x="66.8" y="387.0" width="0.9" height="0.9" fill="#000" opacity="0.6"/>
<rect x="72.8" y="395.5" width="0.9" height="0.9" fill="#000" opacity="0.6"/>
<rect x="72.3" y="382.0" width="0.9" height="0.9" fill="#000" opacity="0.6"/>
<rect x="78.2" y="392.6" width="0.9" height="0.9" fill="#555" opacity="0.6"/>
<rect x="77.7" y="382.6" width="0.9" height="0.9" fill="#555" opacity="0.6"/>
<rect x="75.0" y="394.2" width="0.9" height="0.9" fill="#000" opacity="0.6"/>
<rect x="66.8" y="379.4" width="0.9" height="0.9" fill="#000" opacity="0.6"/>
<rect x="77.6" y="379.7" width="0.9" height="0.9" fill="#000" opacity="0.6"/>
<rect x="71.0" y="394.7" width="0.9" height="0.9" fill="#555" opacity="0.6"/>
<rect x="71.1" y="393.3" width="0.9" height="0.9" fill="#000" opacity="0.6"/>
<rect x="69.0" y="379.5" width="0.9" height="0.9" fill="#555" opacity="0.6"/>
<rect x="69.6" y="392.8" width="0.9" height="0.9" fill="#555" opacity="0.6"/>
<rect x="78.4" y="386.2" width="0.9" height="0.9" fill="#555" opacity="0.6"/>
<rect x="68.1" y="391.0" width="0.9" height="0.9" fill="#000" opacity="0.6"/>
<rect x="66.7" y="385.3" width="0.9" height="0.9" fill="#000" opacity="0.6"/>
<rect x="64.6" y="391.8" width="0.9" height="0.9" fill="#000" opacity="0.6"/>
<rect x="66.6" y="382.2" width="0.9" height="0.9" fill="#000" opacity="0.6"/>
<rect x="65.5" y="381.8" width="0.9" height="0.9" fill="#000" opacity="0.6"/>
<rect x="67.7" y="384.8" width="0.9" height="0.9" fill="#000" opacity="0.6"/>
<rect x="82.8" y="397.8" width="0.9" height="0.9" fill="#000" opacity="0.6"/>
<rect x="76.9" y="393.4" width="0.9" height="0.9" fill="#555" opacity="0.6"/>
<rect x="76.5" y="388.0" width="0.9" height="0.9" fill="#000" opacity="0.6"/>
<rect x="75.9" y="390.9" width="0.9" height="0.9" fill="#555" opacity="0.6"/>
<rect x="77.5" y="394.3" width="0.9" height="0.9" fill="#555" opacity="0.6"/>
<rect x="80.8" y="385.9" width="0.9" height="0.9" fill="#000" opacity="0.6"/>
<rect x="67.0" y="387.1" width="0.9" height="0.9" fill="#000" opacity="0.6"/>
<rect x="73.1" y="394.5" width="0.9" height="0.9" fill="#000" opacity="0.6"/>
<rect x="76.8" y="387.8" width="0.9" height="0.9" fill="#555" opacity="0.6"/>
<rect x="74.3" y="384.0" width="0.9" height="0.9" fill="#000" opacity="0.6"/>
<rect x="73.6" y="391.9" width="0.9" height="0.9" fill="#000" opacity="0.6"/>
<rect x="84.5" y="395.2" width="0.9" height="0.9" fill="#555" opacity="0.6"/>
<rect x="71.9" y="394.1" width="0.9" height="0.9" fill="#000" opacity="0.6"/>
<rect x="81.2" y="399.3" width="0.9" height="0.9" fill="#555" opacity="0.6"/>
<rect x="68.2" y="386.1" width="0.9" height="0.9" fill="#000" opacity="0.6"/>
<rect x="73.9" y="385.6" width="0.9" height="0.9" fill="#000" opacity="0.6"/>
<rect x="80.6" y="381.9" width="0.9" height="0.9" fill="#555" opacity="0.6"/>
<rect x="73.4" y="390.5" width="0.9" height="0.9" fill="#555" opacity="0.6"/>
<rect x="69.5" y="381.4" width="0.9" height="0.9" fill="#000" opacity="0.6"/>
<rect x="66.8" y="382.9" width="0.9" height="0.9" fill="#000" opacity="0.6"/>
<rect x="78.7" y="389.7" width="0.9" height="0.9" fill="#555" opacity="0.6"/>
<rect x="73.6" y="389.5" width="0.9" height="0.9" fill="#000" opacity="0.6"/>
<rect x="70.4" y="385.9" width="0.9" height="0.9" fill="#000" opacity="0.6"/>
<rect x="75.6" y="387.6" width="0.9" height="0.9" fill="#555" opacity="0.6"/>
<rect x="75.9" y="396.2" width="0.9" height="0.9" fill="#555" opacity="0.6"/>
<rect x="72.6" y="394.4" width="0.9" height="0.9" fill="#000" opacity="0.6"/>
<rect x="65.5" y="383.5" width="0.9" height="0.9" fill="#000" opacity="0.6"/>
<rect x="73.6" y="382.5" width="0.9" height="0.9" fill="#000" opacity="0.6"/>
<rect x="70.1" y="384.1" width="0.9" height="0.9" fill="#000" opacity="0.6"/>
<rect x="83.0" y="388.7" width="0.9" height="0.9" fill="#555" opacity="0.6"/>
<rect x="69.6" y="393.8" width="0.9" height="0.9" fill="#000" opacity="0.6"/>
<rect x="67.2" y="396.1" width="0.9" height="0.9" fill="#000" opacity="0.6"/>
<rect x="76.8" y="387.5" width="0.9" height="0.9" fill="#000" opacity="0.6"/>
<rect x="77.6" y="387.0" width="0.9" height="0.9" fill="#000" opacity="0.6"/>
<rect x="66.0" y="395.9" width="0.9" height="0.9" fill="#000" opacity="0.6"/>
<rect x="70.6" y="394.5" width="0.9" height="0.9" fill="#000" opacity="0.6"/>
<rect x="75.1" y="381.4" width="0.9" height="0.9" fill="#555" opacity="0.6"/>
<rect x="66.8" y="390.6" width="0.9" height="0.9" fill="#000" opacity="0.6"/>
<rect x="78.0" y="388.1" width="0.9" height="0.9" fill="#000" opacity="0.6"/>
<rect x="76.1" y="396.2" width="0.9" height="0.9" fill="#555" opacity="0.6"/>
<rect x="68.9" y="393.1" width="0.9" height="0.9" fill="#000" opacity="0.6"/>
<rect x="84.2" y="387.5" width="0.9" height="0.9" fill="#000" opacity="0.6"/>
<rect x="82.9" y="396.0" width="0.9" height="0.9" fill="#555" opacity="0.6"/>
<rect x="70.4" y="396.0" width="0.9" height="0.9" fill="#555" opacity="0.6"/>
<rect x="83.4" y="383.3" width="0.9" height="0.9" fill="#555" opacity="0.6"/>
<rect x="75.3" y="387.8" width="0.9" height="0.9" fill="#555" opacity="0.6"/>
<rect x="71.6" y="395.6" width="0.9" height="0.9" fill="#000" opacity="0.6"/>
<rect x="72.3" y="387.8" width="0.9" height="0.9" fill="#555" opacity="0.6"/>
<rect x="74.3" y="387.4" width="0.9" height="0.9" fill="#555" opacity="0.6"/>
<rect x="75.4" y="385.0" width="0.9" height="0.9" fill="#555" opacity="0.6"/>
<rect x="67.7" y="391.2" width="0.9" height="0.9" fill="#000" opacity="0.6"/>
<rect x="77.9" y="379.8" width="0.9" height="0.9" fill="#555" opacity="0.6"/>
<rect x="75.1" y="392.6" width="0.9" height="0.9" fill="#555" opacity="0.6"/>
<rect x="70.0" y="386.9" width="0.9" height="0.9" fill="#000" opacity="0.6"/>
<rect x="66.1" y="387.1" width="0.9" height="0.9" fill="#000" opacity="0.6"/>
<rect x="78.9" y="381.2" width="0.9" height="0.9" fill="#000" opacity="0.6"/>
<rect x="76.7" y="382.7" width="0.9" height="0.9" fill="#000" opacity="0.6"/>
<rect x="64.9" y="382.4" width="0.9" height="0.9" fill="#000" opacity="0.6"/>
<rect x="71.7" y="396.6" width="0.9" height="0.9" fill="#555" opacity="0.6"/>
<rect x="68.7" y="390.0" width="0.9" height="0.9" fill="#000" opacity="0.6"/>
<rect x="74.1" y="384.5" width="0.9" height="0.9" fill="#555" opacity="0.6"/>
<rect x="68.8" y="387.0" width="0.9" height="0.9" fill="#000" opacity="0.6"/>
<rect x="79.2" y="387.5" width="0.9" height="0.9" fill="#555" opacity="0.6"/>
<rect x="67.1" y="392.0" width="0.9" height="0.9" fill="#000" opacity="0.6"/>
<rect x="66.4" y="387.9" width="0.9" height="0.9" fill="#000" opacity="0.6"/>
<rect x="73.5" y="396.4" width="0.9" height="0.9" fill="#555" opacity="0.6"/>
<rect x="71.4" y="394.7" width="0.9" height="0.9" fill="#555" opacity="0.6"/>
<rect x="64.7" y="383.2" width="0.9" height="0.9" fill="#000" opacity="0.6"/>
<rect x="75.7" y="396.0" width="0.9" height="0.9" fill="#000" opacity="0.6"/>
<rect x="67.3" y="385.5" width="0.9" height="0.9" fill="#000" opacity="0.6"/>
<rect x="65.4" y="383.2" width="0.9" height="0.9" fill="#000" opacity="0.6"/>
<rect x="80.0" y="387.3" width="0.9" height="0.9" fill="#555" opacity="0.6"/>
<rect x="80.5" y="381.4" width="0.9" height="0.9" fill="#555" opacity="0.6"/>
<rect x="79.4" y="381.9" width="0.9" height="0.9" fill="#000" opacity="0.6"/>
<rect x="69.4" y="386.0" width="0.9" height="0.9" fill="#555" opacity="0.6"/>
<rect x="73.7" y="381.4" width="0.9" height="0.9" fill="#555" opacity="0.6"/>
<rect x="67.0" y="388.8" width="0.9" height="0.9" fill="#000" opacity="0.6"/>
<rect x="68.8" y="388.2" width="0.9" height="0.9" fill="#000" opacity="0.6"/>
<rect x="75.3" y="398.3" width="0.9" height="0.9" fill="#555" opacity="0.6"/>
<rect x="76.1" y="383.2" width="0.9" height="0.9" fill="#000" opacity="0.6"/>
<rect x="72.1" y="393.6" width="0.9" height="0.9" fill="#000" opacity="0.6"/>
<rect x="73.0" y="387.4" width="0.9" height="0.9" fill="#000" opacity="0.6"/>
<rect x="66.6" y="384.5" width="0.9" height="0.9" fill="#000" opacity="0.6"/>
<rect x="81.0" y="393.2" width="0.9" height="0.9" fill="#555" opacity="0.6"/>
<rect x="82.5" y="391.2" width="0.9" height="0.9" fill="#555" opacity="0.6"/>
<rect x="79.5" y="382.9" width="0.9" height="0.9" fill="#555" opacity="0.6"/>
<rect x="67.2" y="390.5" width="0.9" height="0.9" fill="#000" opacity="0.6"/>
<rect x="67.9" y="379.6" width="0.9" height="0.9" fill="#000" opacity="0.6"/>
<rect x="71.5" y="386.1" width="0.9" height="0.9" fill="#555" opacity="0.6"/>
<rect x="77.0" y="389.1" width="0.9" height="0.9" fill="#555" opacity="0.6"/>
<rect x="79.4" y="380.7" width="0.9" height="0.9" fill="#555" opacity="0.6"/>
<rect x="83.0" y="392.2" width="0.9" height="0.9" fill="#555" opacity="0.6"/>
<rect x="65.4" y="395.3" width="0.9" height="0.9" fill="#000" opacity="0.6"/>
<rect x="70.7" y="392.8" width="0.9" height="0.9" fill="#000" opacity="0.6"/>
<rect x="80.9" y="384.2" width="0.9" height="0.9" fill="#555" opacity="0.6"/>
<rect x="71.7" y="386.7" width="0.9" height="0.9" fill="#555" opacity="0.6"/>
<rect x="73.1" y="391.7" width="0.9" height="0.9" fill="#555" opacity="0.6"/>
<rect x="71.5" y="395.6" width="0.9" height="0.9" fill="#555" opacity="0.6"/>
<rect x="65.3" y="393.5" width="0.9" height="0.9" fill="#000" opacity="0.6"/>
<rect x="68.6" y="391.9" width="0.9" height="0.9" fill="#000" opacity="0.6"/>
<rect x="71.6" y="381.6" width="0.9" height="0.9" fill="#000" opacity="0.6"/>
<rect x="68.8" y="395.7" width="0.9" height="0.9" fill="#000" opacity="0.6"/>
<rect x="66.6" y="380.8" width="0.9" height="0.9" fill="#000" opacity="0.6"/>
<rect x="72.1" y="385.9" width="0.9" height="0.9" fill="#555" opacity="0.6"/>
<rect x="66.3" y="395.9" width="0.9" height="0.9" fill="#000" opacity="0.6"/>
<rect x="69.4" y="397.2" width="0.9" height="0.9" fill="#000" opacity="0.6"/>
<rect x="77.6" y="395.3" width="0.9" height="0.9" fill="#555" opacity="0.6"/>
<rect x="74.9" y="385.7" width="0.9" height="0.9" fill="#000" opacity="0.6"/>
<rect x="67.3" y="384.3" width="0.9" height="0.9" fill="#000" opacity="0.6"/>
<rect x="71.4" y="389.5" width="0.9" height="0.9" fill="#000" opacity="0.6"/>
<rect x="72.9" y="380.8" width="0.9" height="0.9" fill="#000" opacity="0.6"/>
<rect x="77.1" y="396.2" width="0.9" height="0.9" fill="#555" opacity="0.6"/>
<rect x="71.7" y="396.2" width="0.9" height="0.9" fill="#000" opacity="0.6"/>
<rect x="73.3" y="383.7" width="0.9" height="0.9" fill="#000" opacity="0.6"/>
<rect x="66.9" y="380.2" width="0.9" height="0.9" fill="#000" opacity="0.6"/>
<rect x="70.5" y="393.2" width="0.9" height="0.9" fill="#000" opacity="0.6"/>
<rect x="70.7" y="389.0" width="0.9" height="0.9" fill="#000" opacity="0.6"/>
<rect x="79.6" y="394.7" width="0.9" height="0.9" fill="#555" opacity="0.6"/>
<rect x="83.8" y="394.7" width="0.9" height="0.9" fill="#000" opacity="0.6"/>
<rect x="72.7" y="385.6" width="0.9" height="0.9" fill="#555" opacity="0.6"/>
<rect x="71.0" y="380.2" width="0.9" height="0.9" fill="#000" opacity="0.6"/>
<rect x="80.1" y="382.2" width="0.9" height="0.9" fill="#555" opacity="0.6"/>
<rect x="68.0" y="398.1" width="0.9" height="0.9" fill="#000" opacity="0.6"/>
<rect x="66.0" y="384.0" width="0.9" height="0.9" fill="#000" opacity="0.6"/>
<rect x="67.3" y="393.1" width="0.9" height="0.9" fill="#000" opacity="0.6"/>
<rect x="78.6" y="379.7" width="0.9" height="0.9" fill="#555" opacity="0.6"/>
<rect x="75.9" y="381.3" width="0.9" height="0.9" fill="#000" opacity="0.6"/>
<rect x="75.5" y="390.4" width="0.9" height="0.9" fill="#000" opacity="0.6"/>
<rect x="78.5" y="390.9" width="0.9" height="0.9" fill="#000" opacity="0.6"/>
<rect x="78.2" y="391.3" width="0.9" height="0.9" fill="#555" opacity="0.6"/>
<rect x="71.3" y="385.1" width="0.9" height="0.9" fill="#000" opacity="0.6"/>
<rect x="69.5" y="389.6" width="0.9" height="0.9" fill="#555" opacity="0.6"/>
<rect x="83.0" y="385.6" width="0.9" height="0.9" fill="#555" opacity="0.6"/>
<rect x="73.1" y="385.5" width="0.9" height="0.9" fill="#555" opacity="0.6"/>
<rect x="82.4" y="389.8" width="0.9" height="0.9" fill="#555" opacity="0.6"/>
<rect x="67.0" y="390.7" width="0.9" height="0.9" fill="#000" opacity="0.6"/>
<rect x="74.4" y="385.4" width="0.9" height="0.9" fill="#555" opacity="0.6"/>
<rect x="75.9" y="386.6" width="0.9" height="0.9" fill="#555" opacity="0.6"/>
<rect x="75.1" y="381.4" width="0.9" height="0.9" fill="#000" opacity="0.6"/>
<rect x="73.1" y="396.5" width="0.9" height="0.9" fill="#000" opacity="0.6"/>
<rect x="66.3" y="385.6" width="0.9" height="0.9" fill="#000" opacity="0.6"/>
<rect x="79.4" y="390.5" width="0.9" height="0.9" fill="#555" opacity="0.6"/>
<rect x="79.8" y="391.3" width="0.9" height="0.9" fill="#000" opacity="0.6"/>
<rect x="74.8" y="388.6" width="0.9" height="0.9" fill="#000" opacity="0.6"/>
<rect x="80.9" y="392.1" width="0.9" height="0.9" fill="#555" opacity="0.6"/>
<rect x="68.6" y="385.1" width="0.9" height="0.9" fill="#000" opacity="0.6"/>
<rect x="75.8" y="385.6" width="0.9" height="0.9" fill="#555" opacity="0.6"/>
<rect x="82.6" y="386.7" width="0.9" height="0.9" fill="#555" opacity="0.6"/>
<rect x="80.5" y="380.1" width="0.9" height="0.9" fill="#000" opacity="0.6"/>
<rect x="72.7" y="385.4" width="0.9" height="0.9" fill="#000" opacity="0.6"/>
<rect x="70.4" y="395.9" width="0.9" height="0.9" fill="#555" opacity="0.6"/>
<rect x="65.6" y="389.0" width="0.9" height="0.9" fill="#000" opacity="0.6"/>
<rect x="79.2" y="395.5" width="0.9" height="0.9" fill="#555" opacity="0.6"/>
<rect x="72.9" y="390.5" width="0.9" height="0.9" fill="#555" opacity="0.6"/>
<rect x="78.5" y="394.9" width="0.9" height="0.9" fill="#000" opacity="0.6"/>
<rect x="72.3" y="387.5" width="0.9" height="0.9" fill="#000" opacity="0.6"/>
<rect x="68.3" y="392.8" width="0.9" height="0.9" fill="#000" opacity="0.6"/>
<rect x="72.0" y="394.4" width="0.9" height="0.9" fill="#000" opacity="0.6"/>
<rect x="70.9" y="384.7" width="0.9" height="0.9" fill="#000" opacity="0.6"/>
<rect x="81.6" y="386.8" width="0.9" height="0.9" fill="#555" opacity="0.6"/>
<rect x="72.9" y="390.3" width="0.9" height="0.9" fill="#000" opacity="0.6"/>
<rect x="66.6" y="389.0" width="0.9" height="0.9" fill="#000" opacity="0.6"/>
<rect x="69.6" y="390.6" width="0.9" height="0.9" fill="#000" opacity="0.6"/>
<rect x="71.5" y="389.5" width="0.9" height="0.9" fill="#000" opacity="0.6"/>
<rect x="78.3" y="387.2" width="0.9" height="0.9" fill="#000" opacity="0.6"/>
<rect x="69.9" y="381.1" width="0.9" height="0.9" fill="#000" opacity="0.6"/>
<rect x="68.9" y="386.9" width="0.9" height="0.9" fill="#000" opacity="0.6"/>
<rect x="66.2" y="395.9" width="0.9" height="0.9" fill="#000" opacity="0.6"/>
<rect x="65.1" y="384.1" width="0.9" height="0.9" fill="#000" opacity="0.6"/>
<rect x="65.5" y="383.2" width="0.9" height="0.9" fill="#000" opacity="0.6"/>
<rect x="78.7" y="397.4" width="0.9" height="0.9" fill="#000" opacity="0.6"/>
<rect x="73.4" y="385.8" width="0.9" height="0.9" fill="#000" opacity="0.6"/>
<rect x="83.7" y="390.3" width="0.9" height="0.9" fill="#555" opacity="0.6"/>
<rect x="70.8" y="392.7" width="0.9" height="0.9" fill="#000" opacity="0.6"/>
<rect x="80.8" y="397.0" width="0.9" height="0.9" fill="#555" opacity="0.6"/>
<rect x="68.0" y="394.5" width="0.9" height="0.9" fill="#000" opacity="0.6"/>
<rect x="71.3" y="384.8" width="0.9" height="0.9" fill="#555" opacity="0.6"/>
<rect x="72.9" y="385.7" width="0.9" height="0.9" fill="#000" opacity="0.6"/>
<rect x="72.8" y="396.1" width="0.9" height="0.9" fill="#000" opacity="0.6"/>
<rect x="82.2" y="393.8" width="0.9" height="0.9" fill="#555" opacity="0.6"/>
<rect x="77.1" y="387.7" width="0.9" height="0.9" fill="#000" opacity="0.6"/>
<rect x="67.6" y="389.7" width="0.9" height="0.9" fill="#000" opacity="0.6"/>
<rect x="75.2" y="380.5" width="0.9" height="0.9" fill="#000" opacity="0.6"/>
<rect x="77.8" y="397.6" width="0.9" height="0.9" fill="#555" opacity="0.6"/>
<rect x="75.0" y="394.6" width="0.9" height="0.9" fill="#555" opacity="0.6"/>
<rect x="81.0" y="388.3" width="0.9" height="0.9" fill="#555" opacity="0.6"/>
<rect x="71.4" y="384.6" width="0.9" height="0.9" fill="#000" opacity="0.6"/>
<rect x="67.8" y="387.2" width="0.9" height="0.9" fill="#000" opacity="0.6"/>
<rect x="79.2" y="393.8" width="0.9" height="0.9" fill="#555" opacity="0.6"/>
<rect x="78.9" y="384.6" width="0.9" height="0.9" fill="#000" opacity="0.6"/>
<rect x="68.1" y="379.5" width="0.9" height="0.9" fill="#000" opacity="0.6"/>
<rect x="74.7" y="390.6" width="0.9" height="0.9" fill="#000" opacity="0.6"/>
<rect x="69.6" y="381.3" width="0.9" height="0.9" fill="#000" opacity="0.6"/>
<rect x="69.0" y="378.9" width="0.9" height="0.9" fill="#000" opacity="0.6"/>
<rect x="73.0" y="392.9" width="0.9" height="0.9" fill="#555" opacity="0.6"/>
<rect x="71.8" y="391.9" width="0.9" height="0.9" fill="#000" opacity="0.6"/>
<rect x="76.9" y="387.0" width="0.9" height="0.9" fill="#000" opacity="0.6"/>
<rect x="79.8" y="386.6" width="0.9" height="0.9" fill="#555" opacity="0.6"/>
<rect x="70.8" y="389.8" width="0.9" height="0.9" fill="#000" opacity="0.6"/>
<rect x="65.8" y="380.8" width="0.9" height="0.9" fill="#000" opacity="0.6"/>
<rect x="83.3" y="398.4" width="0.9" height="0.9" fill="#555" opacity="0.6"/>
<rect x="76.1" y="383.6" width="0.9" height="0.9" fill="#000" opacity="0.6"/>
<rect x="75.3" y="384.9" width="0.9" height="0.9" fill="#000" opacity="0.6"/>
<rect x="73.8" y="393.5" width="0.9" height="0.9" fill="#555" opacity="0.6"/>
<rect x="66.8" y="385.9" width="0.9" height="0.9" fill="#000" opacity="0.6"/>
<rect x="73.5" y="383.5" width="0.9" height="0.9" fill="#000" opacity="0.6"/>
<rect x="73.7" y="392.4" width="0.9" height="0.9" fill="#000" opacity="0.6"/>
<rect x="68.1" y="384.1" width="0.9" height="0.9" fill="#000" opacity="0.6"/>
<rect x="67.9" y="397.6" width="0.9" height="0.9" fill="#000" opacity="0.6"/>
<rect x="82.7" y="392.9" width="0.9" height="0.9" fill="#000" opacity="0.6"/>
<rect x="74.6" y="395.0" width="0.9" height="0.9" fill="#000" opacity="0.6"/>
<rect x="71.9" y="380.4" width="0.9" height="0.9" fill="#000" opacity="0.6"/>
<rect x="71.3" y="382.5" width="0.9" height="0.9" fill="#555" opacity="0.6"/>
<rect x="72.2" y="383.8" width="0.9" height="0.9" fill="#555" opacity="0.6"/>
<rect x="84.5" y="381.3" width="0.9" height="0.9" fill="#555" opacity="0.6"/>
<rect x="81.9" y="385.6" width="0.9" height="0.9" fill="#555" opacity="0.6"/>
<rect x="65.8" y="393.9" width="0.9" height="0.9" fill="#000" opacity="0.6"/>
<rect x="79.1" y="384.4" width="0.9" height="0.9" fill="#555" opacity="0.6"/>
<rect x="70.0" y="389.5" width="0.9" height="0.9" fill="#000" opacity="0.6"/>
<rect x="70.2" y="384.9" width="0.9" height="0.9" fill="#000" opacity="0.6"/>
<rect x="82.3" y="390.2" width="0.9" height="0.9" fill="#555" opacity="0.6"/>
<rect x="70.9" y="380.8" width="0.9" height="0.9" fill="#555" opacity="0.6"/>
<rect x="77.3" y="388.6" width="0.9" height="0.9" fill="#000" opacity="0.6"/>
<rect x="70.9" y="383.7" width="0.9" height="0.9" fill="#000" opacity="0.6"/>
<rect x="75.1" y="383.5" width="0.9" height="0.9" fill="#555" opacity="0.6"/>
<rect x="69.3" y="390.0" width="0.9" height="0.9" fill="#000" opacity="0.6"/>
<rect x="67.1" y="391.1" width="0.9" height="0.9" fill="#000" opacity="0.6"/>
<rect x="80.0" y="384.2" width="0.9" height="0.9" fill="#000" opacity="0.6"/>
<rect x="68.8" y="380.7" width="0.9" height="0.9" fill="#000" opacity="0.6"/>
<rect x="79.6" y="394.1" width="0.9" height="0.9" fill="#000" opacity="0.6"/>
<rect x="72.9" y="382.6" width="0.9" height="0.9" fill="#555" opacity="0.6"/>
<rect x="81.8" y="392.6" width="0.9" height="0.9" fill="#555" opacity="0.6"/>
<rect x="75.3" y="387.1" width="0.9" height="0.9" fill="#555" opacity="0.6"/>
<rect x="82.3" y="395.7" width="0.9" height="0.9" fill="#000" opacity="0.6"/>
<rect x="70.7" y="396.1" width="0.9" height="0.9" fill="#000" opacity="0.6"/>
<rect x="74.4" y="380.2" width="0.9" height="0.9" fill="#000" opacity="0.6"/>
<rect x="83.2" y="394.0" width="0.9" height="0.9" fill="#555" opacity="0.6"/>
<rect x="67.1" y="390.8" width="0.9" height="0.9" fill="#000" opacity="0.6"/>
<rect x="83.3" y="394.8" width="0.9" height="0.9" fill="#000" opacity="0.6"/>
<rect x="77.6" y="379.8" width="0.9" height="0.9" fill="#000" opacity="0.6"/>
<rect x="78.9" y="395.4" width="0.9" height="0.9" fill="#000" opacity="0.6"/>
<rect x="82.5" y="380.7" width="0.9" height="0.9" fill="#555" opacity="0.6"/>
<rect x="79.4" y="382.6" width="0.9" height="0.9" fill="#555" opacity="0.6"/>
<rect x="77.9" y="391.3" width="0.9" height="0.9" fill="#555" opacity="0.6"/>
<rect x="83.8" y="388.4" width="0.9" height="0.9" fill="#555" opacity="0.6"/>
<rect x="74.7" y="382.6" width="0.9" height="0.9" fill="#000" opacity="0.6"/>
<rect x="79.5" y="381.5" width="0.9" height="0.9" fill="#000" opacity="0.6"/>
<rect x="73.2" y="392.7" width="0.9" height="0.9" fill="#555" opacity="0.6"/>
<rect x="76.5" y="380.6" width="0.9" height="0.9" fill="#555" opacity="0.6"/>
<rect x="72.0" y="396.6" width="0.9" height="0.9" fill="#000" opacity="0.6"/>
<rect x="70.0" y="392.5" width="0.9" height="0.9" fill="#000" opacity="0.6"/>
<rect x="65.9" y="384.2" width="0.9" height="0.9" fill="#000" opacity="0.6"/>
<rect x="68.4" y="381.3" width="0.9" height="0.9" fill="#000" opacity="0.6"/>
<rect x="67.5" y="397.2" width="0.9" height="0.9" fill="#000" opacity="0.6"/>
<rect x="74.6" y="384.3" width="0.9" height="0.9" fill="#000" opacity="0.6"/>
<rect x="66.3" y="392.1" width="0.9" height="0.9" fill="#000" opacity="0.6"/>
<rect x="66.3" y="388.4" width="0.9" height="0.9" fill="#000" opacity="0.6"/>
<rect x="74.4" y="380.5" width="0.9" height="0.9" fill="#000" opacity="0.6"/>
<rect x="65.5" y="379.7" width="0.9" height="0.9" fill="#000" opacity="0.6"/>
<rect x="80.8" y="397.2" width="0.9" height="0.9" fill="#555" opacity="0.6"/>
<rect x="79.6" y="394.7" width="0.9" height="0.9" fill="#555" opacity="0.6"/>
<rect x="75.9" y="391.1" width="0.9" height="0.9" fill="#000" opacity="0.6"/>
<rect x="66.0" y="393.2" width="0.9" height="0.9" fill="#000" opacity="0.6"/>
<rect x="77.4" y="390.4" width="0.9" height="0.9" fill="#000" opacity="0.6"/>
<rect x="75.5" y="389.1" width="0.9" height="0.9" fill="#555" opacity="0.6"/>
<rect x="71.7" y="390.5" width="0.9" height="0.9" fill="#000" opacity="0.6"/>
<rect x="79.8" y="387.6" width="0.9" height="0.9" fill="#555" opacity="0.6"/>
<rect x="69.5" y="393.3" width="0.9" height="0.9" fill="#000" opacity="0.6"/>
<rect x="71.3" y="380.8" width="0.9" height="0.9" fill="#555" opacity="0.6"/>
<rect x="73.7" y="389.2" width="0.9" height="0.9" fill="#555" opacity="0.6"/>
<rect x="76.8" y="396.1" width="0.9" height="0.9" fill="#000" opacity="0.6"/>
<rect x="81.0" y="394.9" width="0.9" height="0.9" fill="#555" opacity="0.6"/>
<rect x="68.0" y="388.0" width="0.9" height="0.9" fill="#000" opacity="0.6"/>
<rect x="66.3" y="396.5" width="0.9" height="0.9" fill="#000" opacity="0.6"/>
<rect x="80.5" y="380.9" width="0.9" height="0.9" fill="#555" opacity="0.6"/>
<rect x="70.8" y="384.4" width="0.9" height="0.9" fill="#000" opacity="0.6"/>
<rect x="73.1" y="391.0" width="0.9" height="0.9" fill="#555" opacity="0.6"/>
<rect x="67.9" y="381.1" width="0.9" height="0.9" fill="#000" opacity="0.6"/>
<rect x="76.2" y="387.8" width="0.9" height="0.9" fill="#555" opacity="0.6"/>
<rect x="77.4" y="383.0" width="0.9" height="0.9" fill="#555" opacity="0.6"/>
<rect x="66.9" y="392.8" width="0.9" height="0.9" fill="#555" opacity="0.6"/>
<rect x="72.1" y="386.6" width="0.9" height="0.9" fill="#000" opacity="0.6"/>
<rect x="69.1" y="394.8" width="0.9" height="0.9" fill="#000" opacity="0.6"/>
<rect x="68.1" y="392.4" width="0.9" height="0.9" fill="#000" opacity="0.6"/>
<rect x="68.9" y="395.0" width="0.9" height="0.9" fill="#000" opacity="0.6"/>
<rect x="81.5" y="390.2" width="0.9" height="0.9" fill="#000" opacity="0.6"/>
<rect x="77.7" y="382.1" width="0.9" height="0.9" fill="#000" opacity="0.6"/>
<rect x="72.6" y="389.3" width="0.9" height="0.9" fill="#555" opacity="0.6"/>
<rect x="69.3" y="387.2" width="0.9" height="0.9" fill="#000" opacity="0.6"/>
<rect x="78.6" y="382.9" width="0.9" height="0.9" fill="#000" opacity="0.6"/>
<rect x="69.6" y="392.2" width="0.9" height="0.9" fill="#000" opacity="0.6"/>
<rect x="68.9" y="397.2" width="0.9" height="0.9" fill="#000" opacity="0.6"/>
<rect x="64.6" y="379.8" width="0.9" height="0.9" fill="#000" opacity="0.6"/>
<rect x="69.7" y="394.9" width="0.9" height="0.9" fill="#000" opacity="0.6"/>
<rect x="76.7" y="380.6" width="0.9" height="0.9" fill="#555" opacity="0.6"/>
<rect x="75.5" y="385.4" width="0.9" height="0.9" fill="#000" opacity="0.6"/>
<rect x="82.0" y="392.4" width="0.9" height="0.9" fill="#555" opacity="0.6"/>
<rect x="80.9" y="394.6" width="0.9" height="0.9" fill="#555" opacity="0.6"/>
<rect x="67.8" y="389.0" width="0.9" height="0.9" fill="#000" opacity="0.6"/>
<rect x="81.5" y="390.2" width="0.9" height="0.9" fill="#555" opacity="0.6"/>
<rect x="68.1" y="393.4" width="0.9" height="0.9" fill="#000" opacity="0.6"/>
<rect x="74.1" y="386.2" width="0.9" height="0.9" fill="#555" opacity="0.6"/>
<rect x="65.5" y="393.7" width="0.9" height="0.9" fill="#000" opacity="0.6"/>
<rect x="68.2" y="395.6" width="0.9" height="0.9" fill="#000" opacity="0.6"/>
<rect x="77.6" y="379.1" width="0.9" height="0.9" fill="#000" opacity="0.6"/>
<rect x="71.6" y="391.9" width="0.9" height="0.9" fill="#000" opacity="0.6"/>
<rect x="70.6" y="390.3" width="0.9" height="0.9" fill="#000" opacity="0.6"/>
<rect x="66.5" y="388.9" width="0.9" height="0.9" fill="#000" opacity="0.6"/>
<rect x="67.3" y="393.7" width="0.9" height="0.9" fill="#000" opacity="0.6"/>
<rect x="78.5" y="379.8" width="0.9" height="0.9" fill="#000" opacity="0.6"/>
<rect x="67.8" y="382.7" width="0.9" height="0.9" fill="#000" opacity="0.6"/>
<rect x="76.4" y="383.6" width="0.9" height="0.9" fill="#000" opacity="0.6"/>
<rect x="73.7" y="384.6" width="0.9" height="0.9" fill="#555" opacity="0.6"/>
<rect x="77.7" y="379.0" width="0.9" height="0.9" fill="#555" opacity="0.6"/>
<rect x="77.5" y="390.3" width="0.9" height="0.9" fill="#555" opacity="0.6"/>
<rect x="73.6" y="381.4" width="0.9" height="0.9" fill="#555" opacity="0.6"/>
<rect x="66.0" y="389.2" width="0.9" height="0.9" fill="#000" opacity="0.6"/>
<rect x="79.1" y="389.6" width="0.9" height="0.9" fill="#555" opacity="0.6"/>
<rect x="74.9" y="395.0" width="0.9" height="0.9" fill="#000" opacity="0.6"/>
<rect x="71.2" y="392.1" width="0.9" height="0.9" fill="#555" opacity="0.6"/>
<rect x="70.5" y="386.6" width="0.9" height="0.9" fill="#000" opacity="0.6"/>
<rect x="69.4" y="395.0" width="0.9" height="0.9" fill="#000" opacity="0.6"/>
<rect x="83.1" y="382.2" width="0.9" height="0.9" fill="#000" opacity="0.6"/>
<rect x="70.5" y="393.7" width="0.9" height="0.9" fill="#555" opacity="0.6"/>
<rect x="69.4" y="391.5" width="0.9" height="0.9" fill="#555" opacity="0.6"/>
<rect x="67.2" y="382.7" width="0.9" height="0.9" fill="#000" opacity="0.6"/>
<rect x="80.2" y="394.9" width="0.9" height="0.9" fill="#000" opacity="0.6"/>
<rect x="73.4" y="394.3" width="0.9" height="0.9" fill="#000" opacity="0.6"/>
<rect x="67.5" y="389.1" width="0.9" height="0.9" fill="#000" opacity="0.6"/>
<rect x="76.3" y="384.0" width="0.9" height="0.9" fill="#555" opacity="0.6"/>
<rect x="83.1" y="394.7" width="0.9" height="0.9" fill="#000" opacity="0.6"/>
<rect x="66.0" y="391.9" width="0.9" height="0.9" fill="#000" opacity="0.6"/>
<rect x="68.1" y="395.1" width="0.9" height="0.9" fill="#000" opacity="0.6"/>
<rect x="72.9" y="387.8" width="0.9" height="0.9" fill="#555" opacity="0.6"/>
<rect x="65.1" y="380.4" width="0.9" height="0.9" fill="#000" opacity="0.6"/>
<rect x="68.7" y="395.5" width="0.9" height="0.9" fill="#000" opacity="0.6"/>
<rect x="69.3" y="389.2" width="0.9" height="0.9" fill="#000" opacity="0.6"/>
<rect x="66.3" y="391.9" width="0.9" height="0.9" fill="#000" opacity="0.6"/>
<rect x="83.8" y="398.0" width="0.9" height="0.9" fill="#555" opacity="0.6"/>
<rect x="71.1" y="395.4" width="0.9" height="0.9" fill="#000" opacity="0.6"/>
<rect x="66.4" y="392.4" width="0.9" height="0.9" fill="#000" opacity="0.6"/>
<rect x="65.1" y="381.5" width="0.9" height="0.9" fill="#000" opacity="0.6"/>
<rect x="70.5" y="386.8" width="0.9" height="0.9" fill="#000" opacity="0.6"/>
<rect x="67.6" y="398.7" width="0.9" height="0.9" fill="#000" opacity="0.6"/>
<rect x="68.9" y="381.7" width="0.9" height="0.9" fill="#000" opacity="0.6"/>
<rect x="68.0" y="395.3" width="0.9" height="0.9" fill="#000" opacity="0.6"/>
<rect x="70.4" y="396.3" width="0.9" height="0.9" fill="#000" opacity="0.6"/>
<rect x="66.7" y="387.2" width="0.9" height="0.9" fill="#000" opacity="0.6"/>
<rect x="70.5" y="385.4" width="0.9" height="0.9" fill="#000" opacity="0.6"/>
<rect x="66.4" y="394.5" width="0.9" height="0.9" fill="#000" opacity="0.6"/>
<rect x="67.7" y="385.6" width="0.9" height="0.9" fill="#000" opacity="0.6"/>
<rect x="68.2" y="392.0" width="0.9" height="0.9" fill="#000" opacity="0.6"/>
<rect x="80.1" y="392.9" width="0.9" height="0.9" fill="#555" opacity="0.6"/>
<rect x="76.1" y="383.2" width="0.9" height="0.9" fill="#000" opacity="0.6"/>
<rect x="69.6" y="384.2" width="0.9" height="0.9" fill="#000" opacity="0.6"/>
<rect x="78.7" y="385.9" width="0.9" height="0.9" fill="#000" opacity="0.6"/>
<rect x="70.1" y="387.0" width="0.9" height="0.9" fill="#000" opacity="0.6"/>
<rect x="67.0" y="388.9" width="0.9" height="0.9" fill="#000" opacity="0.6"/>
<rect x="73.7" y="382.7" width="0.9" height="0.9" fill="#000" opacity="0.6"/>
<rect x="78.4" y="390.3" width="0.9" height="0.9" fill="#555" opacity="0.6"/>
<rect x="76.2" y="398.8" width="0.9" height="0.9" fill="#000" opacity="0.6"/>
<rect x="72.0" y="382.0" width="0.9" height="0.9" fill="#000" opacity="0.6"/>
<rect x="81.7" y="384.3" width="0.9" height="0.9" fill="#000" opacity="0.6"/>
<rect x="81.6" y="382.6" width="0.9" height="0.9" fill="#555" opacity="0.6"/>
<rect x="83.7" y="389.3" width="0.9" height="0.9" fill="#000" opacity="0.6"/>
<rect x="83.6" y="387.7" width="0.9" height="0.9" fill="#555" opacity="0.6"/>
<rect x="67.4" y="384.7" width="0.9" height="0.9" fill="#000" opacity="0.6"/>
<rect x="80.0" y="392.8" width="0.9" height="0.9" fill="#555" opacity="0.6"/>
<rect x="82.4" y="395.6" width="0.9" height="0.9" fill="#555" opacity="0.6"/>
<rect x="70.3" y="393.4" width="0.9" height="0.9" fill="#555" opacity="0.6"/>
<rect x="80.5" y="387.0" width="0.9" height="0.9" fill="#000" opacity="0.6"/>
<rect x="65.7" y="381.3" width="0.9" height="0.9" fill="#000" opacity="0.6"/>
<rect x="68.8" y="386.6" width="0.9" height="0.9" fill="#000" opacity="0.6"/>
<rect x="68.0" y="390.9" width="0.9" height="0.9" fill="#000" opacity="0.6"/>
<rect x="78.4" y="391.3" width="0.9" height="0.9" fill="#000" opacity="0.6"/>
<rect x="75.0" y="384.9" width="0.9" height="0.9" fill="#000" opacity="0.6"/>
<rect x="66.1" y="385.2" width="0.9" height="0.9" fill="#000" opacity="0.6"/>
<rect x="68.2" y="381.2" width="0.9" height="0.9" fill="#000" opacity="0.6"/>
<rect x="67.6" y="390.4" width="0.9" height="0.9" fill="#000" opacity="0.6"/>
<rect x="68.0" y="393.8" width="0.9" height="0.9" fill="#000" opacity="0.6"/>
<rect x="74.9" y="390.2" width="0.9" height="0.9" fill="#555" opacity="0.6"/>
<rect x="70.1" y="380.8" width="0.9" height="0.9" fill="#555" opacity="0.6"/>
<rect x="78.7" y="383.5" width="0.9" height="0.9" fill="#555" opacity="0.6"/>
<rect x="77.7" y="381.8" width="0.9" height="0.9" fill="#000" opacity="0.6"/>
<rect x="70.4" y="387.9" width="0.9" height="0.9" fill="#000" opacity="0.6"/>
<rect x="69.5" y="382.2" width="0.9" height="0.9" fill="#000" opacity="0.6"/>
<rect x="74.5" y="385.9" width="0.9" height="0.9" fill="#000" opacity="0.6"/>
<rect x="65.5" y="378.9" width="0.9" height="0.9" fill="#000" opacity="0.6"/>
<rect x="71.3" y="382.6" width="0.9" height="0.9" fill="#000" opacity="0.6"/>
<rect x="65.2" y="391.5" width="0.9" height="0.9" fill="#000" opacity="0.6"/>
<rect x="77.5" y="395.7" width="0.9" height="0.9" fill="#000" opacity="0.6"/>
<rect x="80.2" y="388.4" width="0.9" height="0.9" fill="#000" opacity="0.6"/>
<rect x="69.8" y="395.1" width="0.9" height="0.9" fill="#555" opacity="0.6"/>
<rect x="73.7" y="383.9" width="0.9" height="0.9" fill="#000" opacity="0.6"/>
<rect x="77.6" y="383.8" width="0.9" height="0.9" fill="#555" opacity="0.6"/>
<rect x="72.3" y="393.0" width="0.9" height="0.9" fill="#555" opacity="0.6"/>
<rect x="71.4" y="385.0" width="0.9" height="0.9" fill="#000" opacity="0.6"/>
<rect x="76.5" y="397.1" width="0.9" height="0.9" fill="#555" opacity="0.6"/>
<rect x="80.2" y="395.3" width="0.9" height="0.9" fill="#555" opacity="0.6"/>
<rect x="70.2" y="391.2" width="0.9" height="0.9" fill="#000" opacity="0.6"/>
<rect x="83.6" y="391.4" width="0.9" height="0.9" fill="#555" opacity="0.6"/>
<rect x="69.0" y="397.8" width="0.9" height="0.9" fill="#000" opacity="0.6"/>
<rect x="81.0" y="393.7" width="0.9" height="0.9" fill="#555" opacity="0.6"/>
<rect x="73.0" y="394.7" width="0.9" height="0.9" fill="#000" opacity="0.6"/>
<rect x="70.8" y="396.9" width="0.9" height="0.9" fill="#555" opacity="0.6"/>
<rect x="70.4" y="386.7" width="0.9" height="0.9" fill="#000" opacity="0.6"/>
<rect x="70.4" y="387.3" width="0.9" height="0.9" fill="#000" opacity="0.6"/>
<rect x="65.7" y="393.7" width="0.9" height="0.9" fill="#000" opacity="0.6"/>
<rect x="64.7" y="394.3" width="0.9" height="0.9" fill="#000" opacity="0.6"/>
<rect x="80.5" y="383.9" width="0.9" height="0.9" fill="#000" opacity="0.6"/>
<rect x="73.8" y="382.0" width="0.9" height="0.9" fill="#555" opacity="0.6"/>
<rect x="67.4" y="392.0" width="0.9" height="0.9" fill="#000" opacity="0.6"/>
<rect x="81.2" y="396.5" width="0.9" height="0.9" fill="#555" opacity="0.6"/>
<rect x="79.0" y="391.3" width="0.9" height="0.9" fill="#000" opacity="0.6"/>
<rect x="77.2" y="392.3" width="0.9" height="0.9" fill="#555" opacity="0.6"/>
<rect x="67.5" y="388.3" width="0.9" height="0.9" fill="#555" opacity="0.6"/>
<rect x="69.6" y="395.1" width="0.9" height="0.9" fill="#000" opacity="0.6"/>
<rect x="71.3" y="391.3" width="0.9" height="0.9" fill="#555" opacity="0.6"/>
<rect x="73.5" y="382.0" width="0.9" height="0.9" fill="#555" opacity="0.6"/>
<rect x="71.2" y="394.2" width="0.9" height="0.9" fill="#555" opacity="0.6"/>
<rect x="74.9" y="398.7" width="0.9" height="0.9" fill="#555" opacity="0.6"/>
<rect x="65.9" y="394.5" width="0.9" height="0.9" fill="#000" opacity="0.6"/>
<rect x="83.0" y="389.4" width="0.9" height="0.9" fill="#555" opacity="0.6"/>
<rect x="73.9" y="381.2" width="0.9" height="0.9" fill="#555" opacity="0.6"/>
<rect x="78.3" y="395.5" width="0.9" height="0.9" fill="#555" opacity="0.6"/>
<rect x="79.1" y="383.6" width="0.9" height="0.9" fill="#555" opacity="0.6"/>
<rect x="69.3" y="383.2" width="0.9" height="0.9" fill="#000" opacity="0.6"/>
<rect x="67.5" y="388.6" width="0.9" height="0.9" fill="#555" opacity="0.6"/>
<rect x="76.2" y="393.0" width="0.9" height="0.9" fill="#555" opacity="0.6"/>
<rect x="66.9" y="381.5" width="0.9" height="0.9" fill="#555" opacity="0.6"/>
<rect x="68.6" y="387.1" width="0.9" height="0.9" fill="#555" opacity="0.6"/>
<rect x="79.7" y="384.4" width="0.9" height="0.9" fill="#555" opacity="0.6"/>
<rect x="67.5" y="391.3" width="0.9" height="0.9" fill="#555" opacity="0.6"/>
<rect x="68.1" y="388.1" width="0.9" height="0.9" fill="#000" opacity="0.6"/>
<rect x="73.0" y="384.9" width="0.9" height="0.9" fill="#555" opacity="0.6"/>
<rect x="77.5" y="395.2" width="0.9" height="0.9" fill="#000" opacity="0.6"/>
<rect x="68.1" y="383.0" width="0.9" height="0.9" fill="#000" opacity="0.6"/>
<rect x="75.9" y="385.8" width="0.9" height="0.9" fill="#000" opacity="0.6"/>
<rect x="81.4" y="390.8" width="0.9" height="0.9" fill="#555" opacity="0.6"/>
<rect x="79.5" y="395.2" width="0.9" height="0.9" fill="#000" opacity="0.6"/>
<rect x="79.6" y="387.3" width="0.9" height="0.9" fill="#000" opacity="0.6"/>
<rect x="79.9" y="385.9" width="0.9" height="0.9" fill="#555" opacity="0.6"/>
<rect x="65.5" y="387.1" width="0.9" height="0.9" fill="#000" opacity="0.6"/>
<rect x="65.0" y="388.1" width="0.9" height="0.9" fill="#000" opacity="0.6"/>
<rect x="81.6" y="387.8" width="0.9" height="0.9" fill="#555" opacity="0.6"/>
<rect x="74.0" y="391.1" width="0.9" height="0.9" fill="#000" opacity="0.6"/>
<rect x="70.9" y="390.0" width="0.9" height="0.9" fill="#555" opacity="0.6"/>
<rect x="72.1" y="394.9" width="0.9" height="0.9" fill="#000" opacity="0.6"/>
<rect x="80.3" y="392.6" width="0.9" height="0.9" fill="#555" opacity="0.6"/>
<rect x="73.2" y="384.4" width="0.9" height="0.9" fill="#555" opacity="0.6"/>
<rect x="78.5" y="395.9" width="0.9" height="0.9" fill="#555" opacity="0.6"/>
<rect x="69.9" y="393.3" width="0.9" height="0.9" fill="#000" opacity="0.6"/>
<rect x="76.5" y="390.5" width="0.9" height="0.9" fill="#555" opacity="0.6"/>
<rect x="82.4" y="385.5" width="0.9" height="0.9" fill="#555" opacity="0.6"/>
<rect x="73.5" y="385.4" width="0.9" height="0.9" fill="#555" opacity="0.6"/>
<rect x="70.7" y="396.5" width="0.9" height="0.9" fill="#000" opacity="0.6"/>
<rect x="80.7" y="382.1" width="0.9" height="0.9" fill="#555" opacity="0.6"/>
<rect x="67.3" y="384.3" width="0.9" height="0.9" fill="#000" opacity="0.6"/>
<rect x="81.7" y="389.3" width="0.9" height="0.9" fill="#555" opacity="0.6"/>
<rect x="73.1" y="384.5" width="0.9" height="0.9" fill="#000" opacity="0.6"/>
<rect x="68.1" y="384.4" width="0.9" height="0.9" fill="#000" opacity="0.6"/>
<rect x="81.5" y="393.6" width="0.9" height="0.9" fill="#555" opacity="0.6"/>
<rect x="74.4" y="380.2" width="0.9" height="0.9" fill="#000" opacity="0.6"/>
<rect x="75.3" y="385.6" width="0.9" height="0.9" fill="#000" opacity="0.6"/>
<rect x="84.3" y="393.2" width="0.9" height="0.9" fill="#000" opacity="0.6"/>
<rect x="81.3" y="387.9" width="0.9" height="0.9" fill="#555" opacity="0.6"/>
<rect x="73.0" y="387.2" width="0.9" height="0.9" fill="#555" opacity="0.6"/>
<rect x="73.7" y="389.5" width="0.9" height="0.9" fill="#000" opacity="0.6"/>
<rect x="75.3" y="396.4" width="0.9" height="0.9" fill="#000" opacity="0.6"/>
<rect x="82.9" y="388.1" width="0.9" height="0.9" fill="#555" opacity="0.6"/>
<rect x="69.9" y="396.4" width="0.9" height="0.9" fill="#555" opacity="0.6"/>
<rect x="82.1" y="385.6" width="0.9" height="0.9" fill="#555" opacity="0.6"/>
<rect x="63.4" y="338.4" width="33.1" height="42.400000000000034" fill="none" stroke="#808080" stroke-width="0.9"/>
<line x1="63.4" y1="338.7" x2="96.5" y2="338.7" stroke="#a0a0a0" stroke-width="1.6"/>
<text x="80.9" y="348.7" font-size="9.2" text-anchor="middle" fill="#111" style="stroke-width:0.55px">5.3%</text>
<rect x="35.2" y="341.0745" width="2.2" height="1.6" fill="#888"/>
<rect x="37.1" y="340.0745" width="1" height="1" fill="#999"/>
<rect x="40.5" y="341.4745" width="1.4" height="1.2" fill="#666"/>
<rect x="35.2" y="350.572" width="2.2" height="1.6" fill="#888"/>
<rect x="37.1" y="349.572" width="1" height="1" fill="#999"/>
<rect x="40.5" y="350.972" width="1.4" height="1.2" fill="#666"/>
<rect x="35.2" y="367.73299999999995" width="2.2" height="1.6" fill="#888"/>
<rect x="37.1" y="366.73299999999995" width="1" height="1" fill="#999"/>
<rect x="40.5" y="368.1329999999999" width="1.4" height="1.2" fill="#666"/>
<rect x="35.2" y="383.51849999999996" width="2.2" height="1.6" fill="#888"/>
<rect x="37.1" y="382.51849999999996" width="1" height="1" fill="#999"/>
<rect x="40.5" y="383.91849999999994" width="1.4" height="1.2" fill="#666"/>
<rect x="35.2" y="389.60999999999996" width="2.2" height="1.6" fill="#888"/>
<rect x="37.1" y="388.60999999999996" width="1" height="1" fill="#999"/>
<rect x="40.5" y="390.00999999999993" width="1.4" height="1.2" fill="#222"/>
<rect x="35.2" y="398.1905" width="2.2" height="1.6" fill="#888"/>
<rect x="37.1" y="397.1905" width="1" height="1" fill="#999"/>
<rect x="40.5" y="398.59049999999996" width="1.4" height="1.2" fill="#666"/>
<rect x="52.11800000000001" y="402.59999999999997" width="2.2" height="1.8" fill="#111"/>
<rect x="51.918000000000006" y="407.4" width="2" height="1.6" fill="#999"/>
<rect x="59.92800000000001" y="402.59999999999997" width="1.3" height="1.2" fill="#777"/>
<rect x="76.968" y="402.59999999999997" width="1.3" height="1.2" fill="#777"/>
<rect x="76.768" y="407.4" width="2" height="1.6" fill="#999"/>
<rect x="90.955" y="402.59999999999997" width="1.3" height="1.2" fill="#777"/>
<rect x="90.755" y="407.4" width="2" height="1.6" fill="#999"/>
<rect x="105.72300000000001" y="402.59999999999997" width="1.3" height="1.2" fill="#777"/>
<rect x="105.52300000000001" y="407.4" width="2" height="1.6" fill="#999"/>
<rect x="125" y="336.9" width="70.6" height="65.5" fill="none" stroke="#a8a8a8" stroke-width="1"/>
<rect x="158.6" y="374.3" width="0.9" height="0.9" fill="#d0d0d0"/>
<rect x="156.5" y="380.3" width="0.9" height="0.9" fill="#b8b8b8"/>
<rect x="167.9" y="373.0" width="0.9" height="0.9" fill="#c8c8c8"/>
<rect x="160.2" y="357.9" width="0.9" height="0.9" fill="#b8b8b8"/>
<rect x="159.5" y="371.4" width="0.9" height="0.9" fill="#b8b8b8"/>
<rect x="168.3" y="371.7" width="0.9" height="0.9" fill="#b8b8b8"/>
<rect x="152.8" y="370.1" width="0.9" height="0.9" fill="#c8c8c8"/>
<rect x="157.6" y="371.6" width="0.9" height="0.9" fill="#c8c8c8"/>
<rect x="169.8" y="381.9" width="0.9" height="0.9" fill="#b8b8b8"/>
<rect x="167.1" y="381.7" width="0.9" height="0.9" fill="#c8c8c8"/>
<rect x="157.3" y="379.5" width="0.9" height="0.9" fill="#b8b8b8"/>
<rect x="168.5" y="381.3" width="0.9" height="0.9" fill="#b8b8b8"/>
<rect x="161.2" y="365.8" width="0.9" height="0.9" fill="#d0d0d0"/>
<rect x="172.0" y="369.5" width="0.9" height="0.9" fill="#d0d0d0"/>
<rect x="163.9" y="379.3" width="0.9" height="0.9" fill="#dadada"/>
<rect x="166.0" y="367.0" width="0.9" height="0.9" fill="#b8b8b8"/>
<rect x="155.9" y="378.8" width="0.9" height="0.9" fill="#c8c8c8"/>
<rect x="164.5" y="370.5" width="0.9" height="0.9" fill="#d0d0d0"/>
<rect x="159.8" y="380.4" width="0.9" height="0.9" fill="#c0c0c0"/>
<rect x="171.9" y="376.3" width="0.9" height="0.9" fill="#b8b8b8"/>
<rect x="152.4" y="348.8" width="0.9" height="0.9" fill="#dadada"/>
<rect x="170.5" y="367.7" width="0.9" height="0.9" fill="#c0c0c0"/>
<rect x="159.0" y="369.0" width="0.9" height="0.9" fill="#d0d0d0"/>
<rect x="156.9" y="377.8" width="0.9" height="0.9" fill="#c8c8c8"/>
<rect x="154.1" y="380.1" width="0.9" height="0.9" fill="#b8b8b8"/>
<rect x="170.0" y="376.2" width="0.9" height="0.9" fill="#d0d0d0"/>
<rect x="161.0" y="377.9" width="0.9" height="0.9" fill="#c0c0c0"/>
<rect x="163.3" y="362.4" width="0.9" height="0.9" fill="#c8c8c8"/>
<rect x="152.6" y="381.8" width="0.9" height="0.9" fill="#c0c0c0"/>
<rect x="152.7" y="378.2" width="0.9" height="0.9" fill="#dadada"/>
<rect x="165.4" y="373.9" width="0.9" height="0.9" fill="#dadada"/>
<rect x="162.1" y="379.2" width="0.9" height="0.9" fill="#d0d0d0"/>
<rect x="164.0" y="378.3" width="0.9" height="0.9" fill="#d0d0d0"/>
<rect x="153.6" y="372.5" width="0.9" height="0.9" fill="#d0d0d0"/>
<rect x="166.3" y="377.2" width="0.9" height="0.9" fill="#b8b8b8"/>
<rect x="155.7" y="374.9" width="0.9" height="0.9" fill="#c8c8c8"/>
<rect x="162.2" y="371.1" width="0.9" height="0.9" fill="#c0c0c0"/>
<rect x="163.0" y="377.4" width="0.9" height="0.9" fill="#c8c8c8"/>
<rect x="170.9" y="376.9" width="0.9" height="0.9" fill="#dadada"/>
<rect x="166.1" y="363.3" width="0.9" height="0.9" fill="#c8c8c8"/>
<rect x="157.8" y="359.7" width="0.9" height="0.9" fill="#b8b8b8"/>
<rect x="170.6" y="381.0" width="0.9" height="0.9" fill="#b8b8b8"/>
<rect x="170.6" y="378.9" width="0.9" height="0.9" fill="#c8c8c8"/>
<rect x="157.5" y="378.5" width="0.9" height="0.9" fill="#c0c0c0"/>
<rect x="168.5" y="368.7" width="0.9" height="0.9" fill="#dadada"/>
<rect x="167.8" y="378.3" width="0.9" height="0.9" fill="#c0c0c0"/>
<rect x="158.0" y="367.2" width="0.9" height="0.9" fill="#b8b8b8"/>
<rect x="156.1" y="360.8" width="0.9" height="0.9" fill="#d0d0d0"/>
<rect x="163.9" y="376.2" width="0.9" height="0.9" fill="#c8c8c8"/>
<rect x="161.1" y="368.0" width="0.9" height="0.9" fill="#dadada"/>
<rect x="169.4" y="380.4" width="0.9" height="0.9" fill="#c8c8c8"/>
<rect x="154.0" y="378.6" width="0.9" height="0.9" fill="#d0d0d0"/>
<rect x="156.5" y="369.3" width="0.9" height="0.9" fill="#c0c0c0"/>
<rect x="158.2" y="378.1" width="0.9" height="0.9" fill="#c8c8c8"/>
<rect x="162.5" y="347.4" width="0.9" height="0.9" fill="#dadada"/>
<rect x="153.4" y="379.5" width="0.9" height="0.9" fill="#c0c0c0"/>
<rect x="156.7" y="370.4" width="0.9" height="0.9" fill="#b8b8b8"/>
<rect x="159.8" y="371.8" width="0.9" height="0.9" fill="#dadada"/>
<rect x="155.0" y="376.4" width="0.9" height="0.9" fill="#b8b8b8"/>
<rect x="169.5" y="381.5" width="0.9" height="0.9" fill="#c8c8c8"/>
<rect x="156.8" y="376.5" width="0.9" height="0.9" fill="#d0d0d0"/>
<rect x="159.8" y="374.5" width="0.9" height="0.9" fill="#c0c0c0"/>
<rect x="167.4" y="382.0" width="0.9" height="0.9" fill="#c8c8c8"/>
<rect x="155.5" y="364.8" width="0.9" height="0.9" fill="#c8c8c8"/>
<rect x="154.5" y="356.6" width="0.9" height="0.9" fill="#b8b8b8"/>
<rect x="158.5" y="358.3" width="0.9" height="0.9" fill="#c0c0c0"/>
<rect x="164.5" y="375.1" width="0.9" height="0.9" fill="#dadada"/>
<rect x="164.3" y="369.4" width="0.9" height="0.9" fill="#c8c8c8"/>
<rect x="166.3" y="373.0" width="0.9" height="0.9" fill="#d0d0d0"/>
<rect x="154.1" y="360.2" width="0.9" height="0.9" fill="#b8b8b8"/>
<rect x="156.2" y="378.7" width="0.9" height="0.9" fill="#c8c8c8"/>
<rect x="157.5" y="375.0" width="0.9" height="0.9" fill="#c8c8c8"/>
<rect x="166.3" y="357.8" width="0.9" height="0.9" fill="#c0c0c0"/>
<rect x="161.3" y="379.1" width="0.9" height="0.9" fill="#b8b8b8"/>
<rect x="158.9" y="379.7" width="0.9" height="0.9" fill="#c0c0c0"/>
<rect x="162.7" y="376.7" width="0.9" height="0.9" fill="#b8b8b8"/>
<rect x="168.8" y="380.1" width="0.9" height="0.9" fill="#c8c8c8"/>
<rect x="168.8" y="347.1" width="0.9" height="0.9" fill="#c0c0c0"/>
<rect x="167.8" y="381.1" width="0.9" height="0.9" fill="#dadada"/>
<rect x="165.4" y="364.0" width="0.9" height="0.9" fill="#b8b8b8"/>
<rect x="167.6" y="357.0" width="0.9" height="0.9" fill="#d0d0d0"/>
<rect x="169.2" y="371.4" width="0.9" height="0.9" fill="#d0d0d0"/>
<rect x="165.0" y="378.6" width="0.9" height="0.9" fill="#dadada"/>
<rect x="168.4" y="374.5" width="0.9" height="0.9" fill="#b8b8b8"/>
<rect x="158.0" y="381.3" width="0.9" height="0.9" fill="#d0d0d0"/>
<rect x="167.7" y="378.0" width="0.9" height="0.9" fill="#b8b8b8"/>
<rect x="160.2" y="380.4" width="0.9" height="0.9" fill="#c8c8c8"/>
<rect x="158.6" y="375.9" width="0.9" height="0.9" fill="#b8b8b8"/>
<rect x="163.9" y="377.0" width="0.9" height="0.9" fill="#b8b8b8"/>
<rect x="160.9" y="370.7" width="0.9" height="0.9" fill="#c8c8c8"/>
<rect x="168.0" y="374.5" width="0.9" height="0.9" fill="#b8b8b8"/>
<rect x="156.9" y="378.5" width="0.9" height="0.9" fill="#c8c8c8"/>
<rect x="162.0" y="372.6" width="0.9" height="0.9" fill="#b8b8b8"/>
<rect x="153.4" y="360.2" width="0.9" height="0.9" fill="#d0d0d0"/>
<rect x="153.3" y="376.2" width="0.9" height="0.9" fill="#c0c0c0"/>
<rect x="168.0" y="368.1" width="0.9" height="0.9" fill="#d0d0d0"/>
<rect x="164.5" y="355.2" width="0.9" height="0.9" fill="#c0c0c0"/>
<rect x="162.5" y="362.4" width="0.9" height="0.9" fill="#c8c8c8"/>
<rect x="155.0" y="377.5" width="0.9" height="0.9" fill="#b8b8b8"/>
<rect x="162.8" y="379.1" width="0.9" height="0.9" fill="#b8b8b8"/>
<rect x="161.3" y="379.8" width="0.9" height="0.9" fill="#dadada"/>
<rect x="157.9" y="373.3" width="0.9" height="0.9" fill="#c0c0c0"/>
<rect x="157.6" y="372.3" width="0.9" height="0.9" fill="#d0d0d0"/>
<rect x="156.1" y="370.3" width="0.9" height="0.9" fill="#c0c0c0"/>
<rect x="155.7" y="377.4" width="0.9" height="0.9" fill="#c8c8c8"/>
<rect x="158.7" y="342.7" width="0.9" height="0.9" fill="#dadada"/>
<rect x="160.1" y="367.9" width="0.9" height="0.9" fill="#d0d0d0"/>
<rect x="152.6" y="362.4" width="0.9" height="0.9" fill="#b8b8b8"/>
<rect x="171.0" y="370.4" width="0.9" height="0.9" fill="#c0c0c0"/>
<rect x="168.6" y="365.4" width="0.9" height="0.9" fill="#c8c8c8"/>
<rect x="160.4" y="371.0" width="0.9" height="0.9" fill="#b8b8b8"/>
<rect x="168.9" y="377.5" width="0.9" height="0.9" fill="#b8b8b8"/>
<rect x="168.1" y="365.1" width="0.9" height="0.9" fill="#c8c8c8"/>
<rect x="155.3" y="377.5" width="0.9" height="0.9" fill="#c0c0c0"/>
<rect x="158.0" y="378.1" width="0.9" height="0.9" fill="#c8c8c8"/>
<rect x="168.3" y="377.6" width="0.9" height="0.9" fill="#b8b8b8"/>
<rect x="169.4" y="371.2" width="0.9" height="0.9" fill="#c0c0c0"/>
<rect x="164.5" y="366.4" width="0.9" height="0.9" fill="#c0c0c0"/>
<rect x="154.5" y="371.9" width="0.9" height="0.9" fill="#c0c0c0"/>
<rect x="169.7" y="382.1" width="0.9" height="0.9" fill="#d0d0d0"/>
<rect x="157.0" y="360.6" width="0.9" height="0.9" fill="#b8b8b8"/>
<rect x="167.7" y="369.8" width="0.9" height="0.9" fill="#c8c8c8"/>
<rect x="161.3" y="368.7" width="0.9" height="0.9" fill="#c0c0c0"/>
<rect x="167.8" y="373.9" width="0.9" height="0.9" fill="#b8b8b8"/>
<rect x="167.1" y="368.7" width="0.9" height="0.9" fill="#d0d0d0"/>
<rect x="155.4" y="380.5" width="0.9" height="0.9" fill="#b8b8b8"/>
<rect x="162.2" y="364.7" width="0.9" height="0.9" fill="#dadada"/>
<rect x="158.1" y="375.4" width="0.9" height="0.9" fill="#c8c8c8"/>
<rect x="152.9" y="372.0" width="0.9" height="0.9" fill="#d0d0d0"/>
<rect x="163.0" y="353.7" width="0.9" height="0.9" fill="#d0d0d0"/>
<rect x="163.4" y="352.8" width="0.9" height="0.9" fill="#b8b8b8"/>
<rect x="166.7" y="372.5" width="0.9" height="0.9" fill="#c0c0c0"/>
<rect x="166.9" y="381.5" width="0.9" height="0.9" fill="#d0d0d0"/>
<rect x="156.2" y="356.8" width="0.9" height="0.9" fill="#c0c0c0"/>
<rect x="166.5" y="357.9" width="0.9" height="0.9" fill="#c8c8c8"/>
<rect x="165.7" y="379.5" width="0.9" height="0.9" fill="#d0d0d0"/>
<rect x="169.6" y="360.1" width="0.9" height="0.9" fill="#d0d0d0"/>
<rect x="165.4" y="364.6" width="0.9" height="0.9" fill="#b8b8b8"/>
<rect x="167.0" y="357.0" width="0.9" height="0.9" fill="#d0d0d0"/>
<rect x="157.0" y="349.9" width="0.9" height="0.9" fill="#d0d0d0"/>
<rect x="166.2" y="381.8" width="0.9" height="0.9" fill="#b8b8b8"/>
<rect x="164.6" y="360.1" width="0.9" height="0.9" fill="#c0c0c0"/>
<rect x="169.1" y="369.7" width="0.9" height="0.9" fill="#c8c8c8"/>
<rect x="161.7" y="379.2" width="0.9" height="0.9" fill="#dadada"/>
<rect x="168.5" y="378.7" width="0.9" height="0.9" fill="#d0d0d0"/>
<rect x="159.2" y="370.3" width="0.9" height="0.9" fill="#d0d0d0"/>
<rect x="169.7" y="370.6" width="0.9" height="0.9" fill="#c8c8c8"/>
<rect x="167.0" y="379.4" width="0.9" height="0.9" fill="#b8b8b8"/>
<rect x="156.1" y="381.8" width="0.9" height="0.9" fill="#c0c0c0"/>
<rect x="157.6" y="363.2" width="0.9" height="0.9" fill="#c8c8c8"/>
<rect x="163.4" y="379.5" width="0.9" height="0.9" fill="#dadada"/>
<rect x="158.1" y="381.8" width="0.9" height="0.9" fill="#b8b8b8"/>
<rect x="158.8" y="380.0" width="0.9" height="0.9" fill="#c0c0c0"/>
<rect x="168.9" y="372.6" width="0.9" height="0.9" fill="#d0d0d0"/>
<rect x="154.6" y="366.1" width="0.9" height="0.9" fill="#c0c0c0"/>
<rect x="163.7" y="379.7" width="0.9" height="0.9" fill="#d0d0d0"/>
<rect x="168.5" y="370.5" width="0.9" height="0.9" fill="#c0c0c0"/>
<rect x="168.0" y="380.4" width="0.9" height="0.9" fill="#c8c8c8"/>
<rect x="156.5" y="380.2" width="0.9" height="0.9" fill="#b8b8b8"/>
<rect x="157.2" y="365.8" width="0.9" height="0.9" fill="#b8b8b8"/>
<rect x="154.9" y="365.9" width="0.9" height="0.9" fill="#c8c8c8"/>
<rect x="164.0" y="377.0" width="0.9" height="0.9" fill="#c8c8c8"/>
<rect x="157.4" y="378.5" width="0.9" height="0.9" fill="#b8b8b8"/>
<rect x="164.6" y="370.0" width="0.9" height="0.9" fill="#c0c0c0"/>
<rect x="153.7" y="376.1" width="0.9" height="0.9" fill="#d0d0d0"/>
<rect x="155.2" y="365.0" width="0.9" height="0.9" fill="#c0c0c0"/>
<rect x="161.0" y="356.5" width="0.9" height="0.9" fill="#c0c0c0"/>
<rect x="166.0" y="372.2" width="0.9" height="0.9" fill="#b8b8b8"/>
<rect x="163.7" y="356.0" width="0.9" height="0.9" fill="#b8b8b8"/>
<rect x="155.7" y="380.5" width="0.9" height="0.9" fill="#c0c0c0"/>
<rect x="169.1" y="369.0" width="0.9" height="0.9" fill="#c0c0c0"/>
<rect x="156.7" y="364.4" width="0.9" height="0.9" fill="#b8b8b8"/>
<rect x="153.8" y="380.2" width="0.9" height="0.9" fill="#dadada"/>
<rect x="168.6" y="380.6" width="0.9" height="0.9" fill="#d0d0d0"/>
<rect x="169.1" y="354.0" width="0.9" height="0.9" fill="#c0c0c0"/>
<rect x="171.6" y="382.3" width="0.9" height="0.9" fill="#b8b8b8"/>
<rect x="162.1" y="381.6" width="0.9" height="0.9" fill="#c8c8c8"/>
<rect x="163.8" y="366.1" width="0.9" height="0.9" fill="#c8c8c8"/>
<rect x="166.3" y="380.6" width="0.9" height="0.9" fill="#d0d0d0"/>
<rect x="161.5" y="377.7" width="0.9" height="0.9" fill="#c8c8c8"/>
<rect x="158.4" y="373.3" width="0.9" height="0.9" fill="#c8c8c8"/>
<rect x="162.0" y="373.4" width="0.9" height="0.9" fill="#c8c8c8"/>
<rect x="172.1" y="363.4" width="0.9" height="0.9" fill="#c8c8c8"/>
<rect x="165.2" y="364.8" width="0.9" height="0.9" fill="#d0d0d0"/>
<rect x="161.6" y="380.1" width="0.9" height="0.9" fill="#c8c8c8"/>
<rect x="166.7" y="376.6" width="0.9" height="0.9" fill="#c8c8c8"/>
<rect x="161.4" y="374.0" width="0.9" height="0.9" fill="#d0d0d0"/>
<rect x="156.2" y="373.4" width="0.9" height="0.9" fill="#c8c8c8"/>
<rect x="169.4" y="378.8" width="0.9" height="0.9" fill="#b8b8b8"/>
<rect x="158.8" y="375.6" width="0.9" height="0.9" fill="#d0d0d0"/>
<rect x="162.0" y="375.3" width="0.9" height="0.9" fill="#d0d0d0"/>
<rect x="160.6" y="364.4" width="0.9" height="0.9" fill="#b8b8b8"/>
<rect x="165.3" y="368.9" width="0.9" height="0.9" fill="#b8b8b8"/>
<rect x="156.6" y="381.5" width="0.9" height="0.9" fill="#c0c0c0"/>
<rect x="168.8" y="374.8" width="0.9" height="0.9" fill="#d0d0d0"/>
<rect x="159.0" y="372.0" width="0.9" height="0.9" fill="#dadada"/>
<rect x="168.9" y="375.9" width="0.9" height="0.9" fill="#b8b8b8"/>
<rect x="168.0" y="379.8" width="0.9" height="0.9" fill="#c0c0c0"/>
<rect x="161.4" y="365.1" width="0.9" height="0.9" fill="#c0c0c0"/>
<rect x="164.7" y="380.5" width="0.9" height="0.9" fill="#b8b8b8"/>
<rect x="170.2" y="373.3" width="0.9" height="0.9" fill="#c0c0c0"/>
<rect x="165.5" y="375.6" width="0.9" height="0.9" fill="#c8c8c8"/>
<rect x="160.8" y="369.2" width="0.9" height="0.9" fill="#c0c0c0"/>
<rect x="158.8" y="378.9" width="0.9" height="0.9" fill="#c0c0c0"/>
<rect x="159.5" y="371.9" width="0.9" height="0.9" fill="#b8b8b8"/>
<rect x="168.0" y="374.6" width="0.9" height="0.9" fill="#b8b8b8"/>
<rect x="166.8" y="364.5" width="0.9" height="0.9" fill="#c0c0c0"/>
<rect x="167.0" y="371.5" width="0.9" height="0.9" fill="#c8c8c8"/>
<rect x="168.0" y="368.6" width="0.9" height="0.9" fill="#b8b8b8"/>
<rect x="167.4" y="373.9" width="0.9" height="0.9" fill="#dadada"/>
<rect x="158.1" y="379.3" width="0.9" height="0.9" fill="#d0d0d0"/>
<rect x="164.5" y="372.9" width="0.9" height="0.9" fill="#c8c8c8"/>
<rect x="158.2" y="375.9" width="0.9" height="0.9" fill="#c0c0c0"/>
<rect x="164.8" y="373.4" width="0.9" height="0.9" fill="#dadada"/>
<rect x="164.7" y="378.2" width="0.9" height="0.9" fill="#b8b8b8"/>
<rect x="156.2" y="375.8" width="0.9" height="0.9" fill="#c8c8c8"/>
<rect x="164.2" y="374.7" width="0.9" height="0.9" fill="#dadada"/>
<rect x="168.3" y="348.4" width="0.9" height="0.9" fill="#dadada"/>
<rect x="165.7" y="369.5" width="0.9" height="0.9" fill="#c0c0c0"/>
<rect x="166.2" y="373.5" width="0.9" height="0.9" fill="#c8c8c8"/>
<rect x="167.2" y="371.3" width="0.9" height="0.9" fill="#c0c0c0"/>
<rect x="160.7" y="366.4" width="0.9" height="0.9" fill="#d0d0d0"/>
<rect x="154.9" y="361.6" width="0.9" height="0.9" fill="#d0d0d0"/>
<rect x="158.1" y="369.6" width="0.9" height="0.9" fill="#d0d0d0"/>
<rect x="158.6" y="380.7" width="0.9" height="0.9" fill="#dadada"/>
<rect x="155.0" y="372.5" width="0.9" height="0.9" fill="#dadada"/>
<rect x="169.7" y="375.3" width="0.9" height="0.9" fill="#d0d0d0"/>
<rect x="157.7" y="369.7" width="0.9" height="0.9" fill="#d0d0d0"/>
<rect x="158.8" y="381.1" width="0.9" height="0.9" fill="#b8b8b8"/>
<rect x="157.2" y="378.5" width="0.9" height="0.9" fill="#b8b8b8"/>
<rect x="152.8" y="384.2" width="14.43" height="13.000000000000023" rx="2" fill="url(#cg)" filter="url(#bl2)"/>
<rect x="161.3" y="385.8" width="0.9" height="0.9" fill="#555" opacity="0.6"/>
<rect x="168.3" y="394.5" width="0.9" height="0.9" fill="#555" opacity="0.6"/>
<rect x="163.9" y="388.8" width="0.9" height="0.9" fill="#000" opacity="0.6"/>
<rect x="163.5" y="384.8" width="0.9" height="0.9" fill="#000" opacity="0.6"/>
<rect x="157.6" y="387.6" width="0.9" height="0.9" fill="#000" opacity="0.6"/>
<rect x="154.5" y="391.2" width="0.9" height="0.9" fill="#000" opacity="0.6"/>
<rect x="156.3" y="390.1" width="0.9" height="0.9" fill="#000" opacity="0.6"/>
<rect x="153.9" y="393.0" width="0.9" height="0.9" fill="#000" opacity="0.6"/>
<rect x="162.7" y="383.5" width="0.9" height="0.9" fill="#000" opacity="0.6"/>
<rect x="154.0" y="394.4" width="0.9" height="0.9" fill="#000" opacity="0.6"/>
<rect x="153.4" y="392.7" width="0.9" height="0.9" fill="#555" opacity="0.6"/>
<rect x="163.3" y="390.3" width="0.9" height="0.9" fill="#000" opacity="0.6"/>
<rect x="162.0" y="385.9" width="0.9" height="0.9" fill="#000" opacity="0.6"/>
<rect x="152.6" y="391.7" width="0.9" height="0.9" fill="#000" opacity="0.6"/>
<rect x="151.5" y="395.1" width="0.9" height="0.9" fill="#000" opacity="0.6"/>
<rect x="164.1" y="395.3" width="0.9" height="0.9" fill="#555" opacity="0.6"/>
<rect x="154.9" y="393.8" width="0.9" height="0.9" fill="#000" opacity="0.6"/>
<rect x="151.8" y="387.3" width="0.9" height="0.9" fill="#000" opacity="0.6"/>
<rect x="163.9" y="393.7" width="0.9" height="0.9" fill="#555" opacity="0.6"/>
<rect x="169.6" y="384.0" width="0.9" height="0.9" fill="#555" opacity="0.6"/>
<rect x="155.6" y="387.8" width="0.9" height="0.9" fill="#000" opacity="0.6"/>
<rect x="166.9" y="392.8" width="0.9" height="0.9" fill="#555" opacity="0.6"/>
<rect x="154.8" y="387.1" width="0.9" height="0.9" fill="#555" opacity="0.6"/>
<rect x="157.5" y="389.4" width="0.9" height="0.9" fill="#555" opacity="0.6"/>
<rect x="154.1" y="386.8" width="0.9" height="0.9" fill="#000" opacity="0.6"/>
<rect x="157.4" y="386.5" width="0.9" height="0.9" fill="#000" opacity="0.6"/>
<rect x="161.9" y="390.6" width="0.9" height="0.9" fill="#000" opacity="0.6"/>
<rect x="164.4" y="394.2" width="0.9" height="0.9" fill="#000" opacity="0.6"/>
<rect x="151.1" y="389.9" width="0.9" height="0.9" fill="#000" opacity="0.6"/>
<rect x="153.7" y="383.6" width="0.9" height="0.9" fill="#000" opacity="0.6"/>
<rect x="152.4" y="385.8" width="0.9" height="0.9" fill="#000" opacity="0.6"/>
<rect x="166.6" y="391.3" width="0.9" height="0.9" fill="#000" opacity="0.6"/>
<rect x="152.9" y="394.6" width="0.9" height="0.9" fill="#000" opacity="0.6"/>
<rect x="158.3" y="395.6" width="0.9" height="0.9" fill="#000" opacity="0.6"/>
<rect x="161.4" y="390.7" width="0.9" height="0.9" fill="#555" opacity="0.6"/>
<rect x="154.2" y="382.9" width="0.9" height="0.9" fill="#000" opacity="0.6"/>
<rect x="168.2" y="389.2" width="0.9" height="0.9" fill="#000" opacity="0.6"/>
<rect x="164.5" y="391.4" width="0.9" height="0.9" fill="#000" opacity="0.6"/>
<rect x="165.0" y="396.7" width="0.9" height="0.9" fill="#555" opacity="0.6"/>
<rect x="154.1" y="386.4" width="0.9" height="0.9" fill="#000" opacity="0.6"/>
<rect x="159.8" y="390.8" width="0.9" height="0.9" fill="#000" opacity="0.6"/>
<rect x="156.8" y="387.4" width="0.9" height="0.9" fill="#000" opacity="0.6"/>
<rect x="159.4" y="392.2" width="0.9" height="0.9" fill="#000" opacity="0.6"/>
<rect x="154.3" y="391.8" width="0.9" height="0.9" fill="#555" opacity="0.6"/>
<rect x="161.1" y="390.1" width="0.9" height="0.9" fill="#555" opacity="0.6"/>
<rect x="168.2" y="393.9" width="0.9" height="0.9" fill="#555" opacity="0.6"/>
<rect x="157.8" y="394.7" width="0.9" height="0.9" fill="#000" opacity="0.6"/>
<rect x="159.8" y="386.1" width="0.9" height="0.9" fill="#555" opacity="0.6"/>
<rect x="152.1" y="397.5" width="0.9" height="0.9" fill="#000" opacity="0.6"/>
<rect x="157.8" y="387.4" width="0.9" height="0.9" fill="#000" opacity="0.6"/>
<rect x="154.8" y="395.9" width="0.9" height="0.9" fill="#000" opacity="0.6"/>
<rect x="152.8" y="392.0" width="0.9" height="0.9" fill="#555" opacity="0.6"/>
<rect x="168.4" y="387.9" width="0.9" height="0.9" fill="#555" opacity="0.6"/>
<rect x="152.7" y="388.3" width="0.9" height="0.9" fill="#000" opacity="0.6"/>
<rect x="164.1" y="385.0" width="0.9" height="0.9" fill="#000" opacity="0.6"/>
<rect x="160.6" y="385.7" width="0.9" height="0.9" fill="#000" opacity="0.6"/>
<rect x="156.5" y="394.5" width="0.9" height="0.9" fill="#000" opacity="0.6"/>
<rect x="158.4" y="394.2" width="0.9" height="0.9" fill="#555" opacity="0.6"/>
<rect x="153.1" y="384.0" width="0.9" height="0.9" fill="#000" opacity="0.6"/>
<rect x="158.8" y="396.6" width="0.9" height="0.9" fill="#000" opacity="0.6"/>
<rect x="155.3" y="387.6" width="0.9" height="0.9" fill="#000" opacity="0.6"/>
<rect x="163.3" y="387.8" width="0.9" height="0.9" fill="#000" opacity="0.6"/>
<rect x="153.9" y="395.6" width="0.9" height="0.9" fill="#000" opacity="0.6"/>
<rect x="159.5" y="387.4" width="0.9" height="0.9" fill="#555" opacity="0.6"/>
<rect x="166.0" y="384.5" width="0.9" height="0.9" fill="#555" opacity="0.6"/>
<rect x="167.6" y="388.2" width="0.9" height="0.9" fill="#555" opacity="0.6"/>
<rect x="158.2" y="387.3" width="0.9" height="0.9" fill="#555" opacity="0.6"/>
<rect x="154.2" y="390.2" width="0.9" height="0.9" fill="#000" opacity="0.6"/>
<rect x="157.7" y="390.9" width="0.9" height="0.9" fill="#555" opacity="0.6"/>
<rect x="153.6" y="393.9" width="0.9" height="0.9" fill="#000" opacity="0.6"/>
<rect x="157.2" y="389.1" width="0.9" height="0.9" fill="#000" opacity="0.6"/>
<rect x="165.6" y="382.8" width="0.9" height="0.9" fill="#555" opacity="0.6"/>
<rect x="162.1" y="398.9" width="0.9" height="0.9" fill="#000" opacity="0.6"/>
<rect x="158.9" y="389.3" width="0.9" height="0.9" fill="#000" opacity="0.6"/>
<rect x="165.9" y="389.6" width="0.9" height="0.9" fill="#000" opacity="0.6"/>
<rect x="159.7" y="395.7" width="0.9" height="0.9" fill="#000" opacity="0.6"/>
<rect x="162.0" y="392.8" width="0.9" height="0.9" fill="#000" opacity="0.6"/>
<rect x="158.6" y="392.6" width="0.9" height="0.9" fill="#000" opacity="0.6"/>
<rect x="163.5" y="385.1" width="0.9" height="0.9" fill="#000" opacity="0.6"/>
<rect x="155.4" y="394.4" width="0.9" height="0.9" fill="#000" opacity="0.6"/>
<rect x="166.9" y="397.1" width="0.9" height="0.9" fill="#000" opacity="0.6"/>
<rect x="160.9" y="385.0" width="0.9" height="0.9" fill="#555" opacity="0.6"/>
<rect x="157.9" y="392.5" width="0.9" height="0.9" fill="#555" opacity="0.6"/>
<rect x="163.9" y="395.2" width="0.9" height="0.9" fill="#555" opacity="0.6"/>
<rect x="160.1" y="384.5" width="0.9" height="0.9" fill="#555" opacity="0.6"/>
<rect x="153.9" y="392.1" width="0.9" height="0.9" fill="#000" opacity="0.6"/>
<rect x="160.6" y="386.5" width="0.9" height="0.9" fill="#000" opacity="0.6"/>
<rect x="158.2" y="382.3" width="0.9" height="0.9" fill="#000" opacity="0.6"/>
<rect x="154.5" y="397.2" width="0.9" height="0.9" fill="#000" opacity="0.6"/>
<rect x="154.1" y="394.8" width="0.9" height="0.9" fill="#000" opacity="0.6"/>
<rect x="152.0" y="395.7" width="0.9" height="0.9" fill="#000" opacity="0.6"/>
<rect x="155.5" y="396.7" width="0.9" height="0.9" fill="#555" opacity="0.6"/>
<rect x="156.9" y="389.0" width="0.9" height="0.9" fill="#000" opacity="0.6"/>
<rect x="167.2" y="386.0" width="0.9" height="0.9" fill="#555" opacity="0.6"/>
<rect x="156.8" y="385.1" width="0.9" height="0.9" fill="#000" opacity="0.6"/>
<rect x="163.8" y="389.9" width="0.9" height="0.9" fill="#000" opacity="0.6"/>
<rect x="167.8" y="389.0" width="0.9" height="0.9" fill="#555" opacity="0.6"/>
<rect x="163.4" y="396.9" width="0.9" height="0.9" fill="#555" opacity="0.6"/>
<rect x="161.8" y="388.9" width="0.9" height="0.9" fill="#000" opacity="0.6"/>
<rect x="164.7" y="381.8" width="0.9" height="0.9" fill="#000" opacity="0.6"/>
<rect x="150.9" y="395.8" width="0.9" height="0.9" fill="#000" opacity="0.6"/>
<rect x="157.0" y="396.8" width="0.9" height="0.9" fill="#000" opacity="0.6"/>
<rect x="157.0" y="391.7" width="0.9" height="0.9" fill="#000" opacity="0.6"/>
<rect x="152.3" y="390.9" width="0.9" height="0.9" fill="#000" opacity="0.6"/>
<rect x="162.2" y="396.8" width="0.9" height="0.9" fill="#555" opacity="0.6"/>
<rect x="162.7" y="390.6" width="0.9" height="0.9" fill="#000" opacity="0.6"/>
<rect x="152.6" y="393.2" width="0.9" height="0.9" fill="#000" opacity="0.6"/>
<rect x="151.0" y="389.1" width="0.9" height="0.9" fill="#000" opacity="0.6"/>
<rect x="164.8" y="395.8" width="0.9" height="0.9" fill="#555" opacity="0.6"/>
<rect x="163.6" y="394.0" width="0.9" height="0.9" fill="#000" opacity="0.6"/>
<rect x="160.9" y="396.9" width="0.9" height="0.9" fill="#555" opacity="0.6"/>
<rect x="165.2" y="390.2" width="0.9" height="0.9" fill="#000" opacity="0.6"/>
<rect x="167.3" y="389.5" width="0.9" height="0.9" fill="#555" opacity="0.6"/>
<rect x="157.5" y="387.3" width="0.9" height="0.9" fill="#000" opacity="0.6"/>
<rect x="164.1" y="385.5" width="0.9" height="0.9" fill="#555" opacity="0.6"/>
<rect x="154.1" y="394.8" width="0.9" height="0.9" fill="#000" opacity="0.6"/>
<rect x="150.9" y="383.4" width="0.9" height="0.9" fill="#000" opacity="0.6"/>
<rect x="162.6" y="394.9" width="0.9" height="0.9" fill="#555" opacity="0.6"/>
<rect x="160.5" y="390.4" width="0.9" height="0.9" fill="#555" opacity="0.6"/>
<rect x="156.9" y="386.6" width="0.9" height="0.9" fill="#000" opacity="0.6"/>
<rect x="163.6" y="390.0" width="0.9" height="0.9" fill="#000" opacity="0.6"/>
<rect x="161.0" y="384.5" width="0.9" height="0.9" fill="#555" opacity="0.6"/>
<rect x="154.4" y="393.9" width="0.9" height="0.9" fill="#000" opacity="0.6"/>
<rect x="151.8" y="395.9" width="0.9" height="0.9" fill="#000" opacity="0.6"/>
<rect x="159.0" y="392.7" width="0.9" height="0.9" fill="#000" opacity="0.6"/>
<rect x="166.4" y="385.5" width="0.9" height="0.9" fill="#000" opacity="0.6"/>
<rect x="151.2" y="395.6" width="0.9" height="0.9" fill="#000" opacity="0.6"/>
<rect x="160.1" y="390.6" width="0.9" height="0.9" fill="#555" opacity="0.6"/>
<rect x="154.3" y="397.0" width="0.9" height="0.9" fill="#000" opacity="0.6"/>
<rect x="153.4" y="385.1" width="0.9" height="0.9" fill="#000" opacity="0.6"/>
<rect x="152.5" y="384.0" width="0.9" height="0.9" fill="#000" opacity="0.6"/>
<rect x="166.8" y="396.1" width="0.9" height="0.9" fill="#000" opacity="0.6"/>
<rect x="159.8" y="383.7" width="0.9" height="0.9" fill="#555" opacity="0.6"/>
<rect x="160.4" y="392.1" width="0.9" height="0.9" fill="#555" opacity="0.6"/>
<rect x="152.9" y="384.3" width="0.9" height="0.9" fill="#000" opacity="0.6"/>
<rect x="154.9" y="393.1" width="0.9" height="0.9" fill="#000" opacity="0.6"/>
<rect x="155.0" y="385.4" width="0.9" height="0.9" fill="#000" opacity="0.6"/>
<rect x="165.1" y="395.2" width="0.9" height="0.9" fill="#000" opacity="0.6"/>
<rect x="151.3" y="394.1" width="0.9" height="0.9" fill="#000" opacity="0.6"/>
<rect x="159.9" y="383.3" width="0.9" height="0.9" fill="#000" opacity="0.6"/>
<rect x="154.8" y="392.0" width="0.9" height="0.9" fill="#000" opacity="0.6"/>
<rect x="154.8" y="384.7" width="0.9" height="0.9" fill="#000" opacity="0.6"/>
<rect x="166.0" y="393.5" width="0.9" height="0.9" fill="#555" opacity="0.6"/>
<rect x="153.6" y="383.4" width="0.9" height="0.9" fill="#000" opacity="0.6"/>
<rect x="152.5" y="386.8" width="0.9" height="0.9" fill="#000" opacity="0.6"/>
<rect x="156.6" y="393.2" width="0.9" height="0.9" fill="#555" opacity="0.6"/>
<rect x="155.1" y="392.2" width="0.9" height="0.9" fill="#000" opacity="0.6"/>
<rect x="151.2" y="393.7" width="0.9" height="0.9" fill="#000" opacity="0.6"/>
<rect x="159.2" y="393.4" width="0.9" height="0.9" fill="#000" opacity="0.6"/>
<rect x="152.6" y="384.3" width="0.9" height="0.9" fill="#000" opacity="0.6"/>
<rect x="157.3" y="392.5" width="0.9" height="0.9" fill="#000" opacity="0.6"/>
<rect x="161.0" y="392.3" width="0.9" height="0.9" fill="#555" opacity="0.6"/>
<rect x="161.6" y="385.9" width="0.9" height="0.9" fill="#555" opacity="0.6"/>
<rect x="166.6" y="393.9" width="0.9" height="0.9" fill="#555" opacity="0.6"/>
<rect x="152.8" y="385.9" width="0.9" height="0.9" fill="#000" opacity="0.6"/>
<rect x="165.6" y="386.4" width="0.9" height="0.9" fill="#000" opacity="0.6"/>
<rect x="152.5" y="386.0" width="0.9" height="0.9" fill="#000" opacity="0.6"/>
<rect x="157.9" y="396.6" width="0.9" height="0.9" fill="#555" opacity="0.6"/>
<rect x="164.8" y="395.0" width="0.9" height="0.9" fill="#555" opacity="0.6"/>
<rect x="163.3" y="393.0" width="0.9" height="0.9" fill="#000" opacity="0.6"/>
<rect x="157.8" y="396.7" width="0.9" height="0.9" fill="#000" opacity="0.6"/>
<rect x="162.5" y="389.4" width="0.9" height="0.9" fill="#555" opacity="0.6"/>
<rect x="151.0" y="390.6" width="0.9" height="0.9" fill="#000" opacity="0.6"/>
<rect x="153.9" y="384.9" width="0.9" height="0.9" fill="#000" opacity="0.6"/>
<rect x="152.7" y="392.7" width="0.9" height="0.9" fill="#000" opacity="0.6"/>
<rect x="163.0" y="390.2" width="0.9" height="0.9" fill="#555" opacity="0.6"/>
<rect x="151.9" y="395.8" width="0.9" height="0.9" fill="#000" opacity="0.6"/>
<rect x="153.7" y="386.1" width="0.9" height="0.9" fill="#000" opacity="0.6"/>
<rect x="166.2" y="392.3" width="0.9" height="0.9" fill="#555" opacity="0.6"/>
<rect x="167.1" y="392.1" width="0.9" height="0.9" fill="#555" opacity="0.6"/>
<rect x="162.7" y="386.6" width="0.9" height="0.9" fill="#000" opacity="0.6"/>
<rect x="167.9" y="396.0" width="0.9" height="0.9" fill="#555" opacity="0.6"/>
<rect x="159.1" y="391.2" width="0.9" height="0.9" fill="#000" opacity="0.6"/>
<rect x="153.0" y="387.5" width="0.9" height="0.9" fill="#000" opacity="0.6"/>
<rect x="149.6" y="391.1" width="0.9" height="0.9" fill="#000" opacity="0.6"/>
<rect x="161.4" y="395.4" width="0.9" height="0.9" fill="#000" opacity="0.6"/>
<rect x="162.0" y="395.6" width="0.9" height="0.9" fill="#555" opacity="0.6"/>
<rect x="153.4" y="385.2" width="0.9" height="0.9" fill="#000" opacity="0.6"/>
<rect x="152.1" y="397.2" width="0.9" height="0.9" fill="#000" opacity="0.6"/>
<rect x="161.1" y="393.0" width="0.9" height="0.9" fill="#000" opacity="0.6"/>
<rect x="150.2" y="394.8" width="0.9" height="0.9" fill="#000" opacity="0.6"/>
<rect x="163.1" y="384.2" width="0.9" height="0.9" fill="#555" opacity="0.6"/>
<rect x="155.8" y="395.9" width="0.9" height="0.9" fill="#555" opacity="0.6"/>
<rect x="155.8" y="392.9" width="0.9" height="0.9" fill="#000" opacity="0.6"/>
<rect x="155.6" y="392.7" width="0.9" height="0.9" fill="#000" opacity="0.6"/>
<rect x="165.4" y="392.5" width="0.9" height="0.9" fill="#555" opacity="0.6"/>
<rect x="166.5" y="395.5" width="0.9" height="0.9" fill="#555" opacity="0.6"/>
<rect x="167.3" y="395.0" width="0.9" height="0.9" fill="#555" opacity="0.6"/>
<rect x="156.0" y="394.9" width="0.9" height="0.9" fill="#000" opacity="0.6"/>
<rect x="155.6" y="391.2" width="0.9" height="0.9" fill="#555" opacity="0.6"/>
<rect x="165.1" y="393.0" width="0.9" height="0.9" fill="#555" opacity="0.6"/>
<rect x="152.2" y="388.1" width="0.9" height="0.9" fill="#000" opacity="0.6"/>
<rect x="155.3" y="393.3" width="0.9" height="0.9" fill="#000" opacity="0.6"/>
<rect x="153.8" y="395.4" width="0.9" height="0.9" fill="#000" opacity="0.6"/>
<rect x="162.9" y="385.4" width="0.9" height="0.9" fill="#000" opacity="0.6"/>
<rect x="167.1" y="387.7" width="0.9" height="0.9" fill="#555" opacity="0.6"/>
<rect x="152.6" y="386.5" width="0.9" height="0.9" fill="#000" opacity="0.6"/>
<rect x="156.9" y="390.2" width="0.9" height="0.9" fill="#000" opacity="0.6"/>
<rect x="159.4" y="394.7" width="0.9" height="0.9" fill="#555" opacity="0.6"/>
<rect x="166.7" y="389.4" width="0.9" height="0.9" fill="#555" opacity="0.6"/>
<rect x="150.6" y="387.3" width="0.9" height="0.9" fill="#000" opacity="0.6"/>
<rect x="161.3" y="393.0" width="0.9" height="0.9" fill="#000" opacity="0.6"/>
<rect x="167.7" y="384.3" width="0.9" height="0.9" fill="#555" opacity="0.6"/>
<rect x="161.0" y="395.1" width="0.9" height="0.9" fill="#555" opacity="0.6"/>
<rect x="151.5" y="385.3" width="0.9" height="0.9" fill="#000" opacity="0.6"/>
<rect x="159.7" y="391.1" width="0.9" height="0.9" fill="#000" opacity="0.6"/>
<rect x="165.4" y="395.2" width="0.9" height="0.9" fill="#000" opacity="0.6"/>
<rect x="165.4" y="392.3" width="0.9" height="0.9" fill="#555" opacity="0.6"/>
<rect x="151.7" y="392.3" width="0.9" height="0.9" fill="#000" opacity="0.6"/>
<rect x="152.8" y="383.8" width="0.9" height="0.9" fill="#000" opacity="0.6"/>
<rect x="159.2" y="381.3" width="0.9" height="0.9" fill="#000" opacity="0.6"/>
<rect x="156.3" y="385.0" width="0.9" height="0.9" fill="#000" opacity="0.6"/>
<rect x="157.3" y="383.5" width="0.9" height="0.9" fill="#555" opacity="0.6"/>
<rect x="154.0" y="391.8" width="0.9" height="0.9" fill="#000" opacity="0.6"/>
<rect x="153.5" y="384.9" width="0.9" height="0.9" fill="#000" opacity="0.6"/>
<rect x="163.8" y="392.3" width="0.9" height="0.9" fill="#000" opacity="0.6"/>
<rect x="156.0" y="396.3" width="0.9" height="0.9" fill="#000" opacity="0.6"/>
<rect x="160.4" y="391.1" width="0.9" height="0.9" fill="#555" opacity="0.6"/>
<rect x="152.6" y="383.3" width="0.9" height="0.9" fill="#000" opacity="0.6"/>
<rect x="164.4" y="392.7" width="0.9" height="0.9" fill="#000" opacity="0.6"/>
<rect x="165.2" y="391.5" width="0.9" height="0.9" fill="#000" opacity="0.6"/>
<rect x="162.4" y="386.8" width="0.9" height="0.9" fill="#000" opacity="0.6"/>
<rect x="157.4" y="396.0" width="0.9" height="0.9" fill="#555" opacity="0.6"/>
<rect x="154.5" y="387.3" width="0.9" height="0.9" fill="#000" opacity="0.6"/>
<rect x="166.0" y="398.2" width="0.9" height="0.9" fill="#555" opacity="0.6"/>
<rect x="153.0" y="383.7" width="0.9" height="0.9" fill="#000" opacity="0.6"/>
<rect x="152.0" y="397.2" width="0.9" height="0.9" fill="#000" opacity="0.6"/>
<rect x="154.2" y="394.4" width="0.9" height="0.9" fill="#000" opacity="0.6"/>
<rect x="158.2" y="383.1" width="0.9" height="0.9" fill="#000" opacity="0.6"/>
<rect x="156.7" y="396.5" width="0.9" height="0.9" fill="#000" opacity="0.6"/>
<rect x="157.0" y="389.5" width="0.9" height="0.9" fill="#000" opacity="0.6"/>
<rect x="164.1" y="390.7" width="0.9" height="0.9" fill="#555" opacity="0.6"/>
<rect x="152.6" y="392.3" width="0.9" height="0.9" fill="#555" opacity="0.6"/>
<rect x="166.1" y="392.3" width="0.9" height="0.9" fill="#000" opacity="0.6"/>
<rect x="164.6" y="394.0" width="0.9" height="0.9" fill="#000" opacity="0.6"/>
<rect x="161.8" y="386.2" width="0.9" height="0.9" fill="#555" opacity="0.6"/>
<rect x="159.0" y="388.2" width="0.9" height="0.9" fill="#555" opacity="0.6"/>
<rect x="151.4" y="397.6" width="0.9" height="0.9" fill="#000" opacity="0.6"/>
<rect x="151.5" y="386.0" width="0.9" height="0.9" fill="#000" opacity="0.6"/>
<rect x="166.0" y="383.6" width="0.9" height="0.9" fill="#555" opacity="0.6"/>
<rect x="161.1" y="385.6" width="0.9" height="0.9" fill="#000" opacity="0.6"/>
<rect x="165.4" y="393.3" width="0.9" height="0.9" fill="#000" opacity="0.6"/>
<rect x="165.4" y="384.5" width="0.9" height="0.9" fill="#555" opacity="0.6"/>
<rect x="167.1" y="395.2" width="0.9" height="0.9" fill="#555" opacity="0.6"/>
<rect x="154.5" y="383.2" width="0.9" height="0.9" fill="#000" opacity="0.6"/>
<rect x="155.1" y="390.0" width="0.9" height="0.9" fill="#000" opacity="0.6"/>
<rect x="169.4" y="383.5" width="0.9" height="0.9" fill="#555" opacity="0.6"/>
<rect x="164.1" y="391.7" width="0.9" height="0.9" fill="#555" opacity="0.6"/>
<rect x="155.0" y="393.2" width="0.9" height="0.9" fill="#555" opacity="0.6"/>
<rect x="166.0" y="393.2" width="0.9" height="0.9" fill="#555" opacity="0.6"/>
<rect x="153.3" y="387.8" width="0.9" height="0.9" fill="#000" opacity="0.6"/>
<rect x="160.5" y="390.4" width="0.9" height="0.9" fill="#555" opacity="0.6"/>
<rect x="163.1" y="385.8" width="0.9" height="0.9" fill="#555" opacity="0.6"/>
<rect x="163.1" y="396.4" width="0.9" height="0.9" fill="#000" opacity="0.6"/>
<rect x="155.0" y="383.1" width="0.9" height="0.9" fill="#000" opacity="0.6"/>
<rect x="163.1" y="384.2" width="0.9" height="0.9" fill="#555" opacity="0.6"/>
<rect x="154.9" y="392.8" width="0.9" height="0.9" fill="#000" opacity="0.6"/>
<rect x="154.0" y="394.3" width="0.9" height="0.9" fill="#000" opacity="0.6"/>
<rect x="154.0" y="397.3" width="0.9" height="0.9" fill="#000" opacity="0.6"/>
<rect x="157.1" y="397.1" width="0.9" height="0.9" fill="#000" opacity="0.6"/>
<rect x="167.5" y="384.0" width="0.9" height="0.9" fill="#000" opacity="0.6"/>
<rect x="157.3" y="388.8" width="0.9" height="0.9" fill="#000" opacity="0.6"/>
<rect x="163.4" y="395.9" width="0.9" height="0.9" fill="#000" opacity="0.6"/>
<rect x="154.2" y="384.3" width="0.9" height="0.9" fill="#555" opacity="0.6"/>
<rect x="166.0" y="384.4" width="0.9" height="0.9" fill="#555" opacity="0.6"/>
<rect x="156.7" y="393.1" width="0.9" height="0.9" fill="#000" opacity="0.6"/>
<rect x="168.9" y="386.6" width="0.9" height="0.9" fill="#000" opacity="0.6"/>
<rect x="152.0" y="394.9" width="0.9" height="0.9" fill="#000" opacity="0.6"/>
<rect x="153.5" y="387.0" width="0.9" height="0.9" fill="#000" opacity="0.6"/>
<rect x="154.3" y="384.0" width="0.9" height="0.9" fill="#000" opacity="0.6"/>
<rect x="162.8" y="397.5" width="0.9" height="0.9" fill="#555" opacity="0.6"/>
<rect x="164.8" y="387.3" width="0.9" height="0.9" fill="#000" opacity="0.6"/>
<rect x="152.9" y="386.6" width="0.9" height="0.9" fill="#000" opacity="0.6"/>
<rect x="154.5" y="396.1" width="0.9" height="0.9" fill="#000" opacity="0.6"/>
<rect x="161.8" y="389.1" width="0.9" height="0.9" fill="#000" opacity="0.6"/>
<rect x="152.2" y="389.3" width="0.9" height="0.9" fill="#000" opacity="0.6"/>
<rect x="167.0" y="383.8" width="0.9" height="0.9" fill="#555" opacity="0.6"/>
<rect x="156.2" y="391.9" width="0.9" height="0.9" fill="#000" opacity="0.6"/>
<rect x="160.8" y="391.3" width="0.9" height="0.9" fill="#000" opacity="0.6"/>
<rect x="155.8" y="385.3" width="0.9" height="0.9" fill="#000" opacity="0.6"/>
<rect x="155.9" y="394.1" width="0.9" height="0.9" fill="#000" opacity="0.6"/>
<rect x="164.9" y="392.7" width="0.9" height="0.9" fill="#555" opacity="0.6"/>
<rect x="165.3" y="383.5" width="0.9" height="0.9" fill="#000" opacity="0.6"/>
<rect x="153.8" y="395.3" width="0.9" height="0.9" fill="#000" opacity="0.6"/>
<rect x="154.3" y="386.9" width="0.9" height="0.9" fill="#000" opacity="0.6"/>
<rect x="165.3" y="392.6" width="0.9" height="0.9" fill="#555" opacity="0.6"/>
<rect x="157.2" y="394.7" width="0.9" height="0.9" fill="#000" opacity="0.6"/>
<rect x="166.5" y="391.5" width="0.9" height="0.9" fill="#555" opacity="0.6"/>
<rect x="151.2" y="388.3" width="0.9" height="0.9" fill="#000" opacity="0.6"/>
<rect x="158.0" y="395.2" width="0.9" height="0.9" fill="#555" opacity="0.6"/>
<rect x="151.2" y="389.9" width="0.9" height="0.9" fill="#000" opacity="0.6"/>
<rect x="152.3" y="388.7" width="0.9" height="0.9" fill="#000" opacity="0.6"/>
<rect x="157.1" y="394.1" width="0.9" height="0.9" fill="#000" opacity="0.6"/>
<rect x="152.6" y="387.9" width="0.9" height="0.9" fill="#000" opacity="0.6"/>
<rect x="161.3" y="396.3" width="0.9" height="0.9" fill="#000" opacity="0.6"/>
<rect x="155.9" y="385.9" width="0.9" height="0.9" fill="#000" opacity="0.6"/>
<rect x="165.3" y="394.0" width="0.9" height="0.9" fill="#000" opacity="0.6"/>
<rect x="154.2" y="391.4" width="0.9" height="0.9" fill="#000" opacity="0.6"/>
<rect x="152.6" y="390.4" width="0.9" height="0.9" fill="#000" opacity="0.6"/>
<rect x="152.3" y="386.2" width="0.9" height="0.9" fill="#000" opacity="0.6"/>
<rect x="153.3" y="393.9" width="0.9" height="0.9" fill="#000" opacity="0.6"/>
<rect x="154.5" y="396.5" width="0.9" height="0.9" fill="#000" opacity="0.6"/>
<rect x="156.9" y="387.5" width="0.9" height="0.9" fill="#000" opacity="0.6"/>
<rect x="158.0" y="397.8" width="0.9" height="0.9" fill="#555" opacity="0.6"/>
<rect x="160.0" y="387.4" width="0.9" height="0.9" fill="#000" opacity="0.6"/>
<rect x="155.4" y="396.7" width="0.9" height="0.9" fill="#000" opacity="0.6"/>
<rect x="166.2" y="392.5" width="0.9" height="0.9" fill="#555" opacity="0.6"/>
<rect x="156.1" y="387.1" width="0.9" height="0.9" fill="#000" opacity="0.6"/>
<rect x="162.5" y="391.2" width="0.9" height="0.9" fill="#555" opacity="0.6"/>
<rect x="151.9" y="388.8" width="0.9" height="0.9" fill="#000" opacity="0.6"/>
<rect x="159.8" y="395.3" width="0.9" height="0.9" fill="#000" opacity="0.6"/>
<rect x="155.6" y="395.1" width="0.9" height="0.9" fill="#000" opacity="0.6"/>
<rect x="152.2" y="397.8" width="0.9" height="0.9" fill="#000" opacity="0.6"/>
<rect x="153.2" y="394.2" width="0.9" height="0.9" fill="#555" opacity="0.6"/>
<rect x="152.9" y="394.3" width="0.9" height="0.9" fill="#000" opacity="0.6"/>
<rect x="155.8" y="385.3" width="0.9" height="0.9" fill="#000" opacity="0.6"/>
<rect x="164.4" y="390.6" width="0.9" height="0.9" fill="#555" opacity="0.6"/>
<rect x="165.4" y="395.6" width="0.9" height="0.9" fill="#555" opacity="0.6"/>
<rect x="151.2" y="393.8" width="0.9" height="0.9" fill="#000" opacity="0.6"/>
<rect x="164.2" y="389.9" width="0.9" height="0.9" fill="#555" opacity="0.6"/>
<rect x="152.6" y="390.6" width="0.9" height="0.9" fill="#000" opacity="0.6"/>
<rect x="153.9" y="393.4" width="0.9" height="0.9" fill="#000" opacity="0.6"/>
<rect x="161.2" y="393.2" width="0.9" height="0.9" fill="#000" opacity="0.6"/>
<rect x="168.7" y="395.3" width="0.9" height="0.9" fill="#555" opacity="0.6"/>
<rect x="154.4" y="386.3" width="0.9" height="0.9" fill="#000" opacity="0.6"/>
<rect x="157.3" y="398.7" width="0.9" height="0.9" fill="#000" opacity="0.6"/>
<rect x="158.3" y="389.6" width="0.9" height="0.9" fill="#555" opacity="0.6"/>
<rect x="155.6" y="383.7" width="0.9" height="0.9" fill="#000" opacity="0.6"/>
<rect x="153.4" y="392.6" width="0.9" height="0.9" fill="#000" opacity="0.6"/>
<rect x="158.3" y="389.5" width="0.9" height="0.9" fill="#555" opacity="0.6"/>
<rect x="167.8" y="398.1" width="0.9" height="0.9" fill="#555" opacity="0.6"/>
<rect x="167.1" y="387.4" width="0.9" height="0.9" fill="#555" opacity="0.6"/>
<rect x="152.4" y="390.6" width="0.9" height="0.9" fill="#000" opacity="0.6"/>
<rect x="159.0" y="388.0" width="0.9" height="0.9" fill="#000" opacity="0.6"/>
<rect x="160.3" y="395.6" width="0.9" height="0.9" fill="#000" opacity="0.6"/>
<rect x="154.2" y="396.0" width="0.9" height="0.9" fill="#000" opacity="0.6"/>
<rect x="165.7" y="393.2" width="0.9" height="0.9" fill="#000" opacity="0.6"/>
<rect x="153.6" y="391.0" width="0.9" height="0.9" fill="#000" opacity="0.6"/>
<rect x="154.2" y="382.9" width="0.9" height="0.9" fill="#000" opacity="0.6"/>
<rect x="154.9" y="394.6" width="0.9" height="0.9" fill="#000" opacity="0.6"/>
<rect x="159.4" y="398.3" width="0.9" height="0.9" fill="#555" opacity="0.6"/>
<rect x="151.2" y="394.5" width="0.9" height="0.9" fill="#000" opacity="0.6"/>
<rect x="168.6" y="383.3" width="0.9" height="0.9" fill="#555" opacity="0.6"/>
<rect x="161.9" y="385.2" width="0.9" height="0.9" fill="#000" opacity="0.6"/>
<rect x="168.5" y="395.3" width="0.9" height="0.9" fill="#555" opacity="0.6"/>
<rect x="155.9" y="384.4" width="0.9" height="0.9" fill="#000" opacity="0.6"/>
<rect x="167.3" y="388.5" width="0.9" height="0.9" fill="#555" opacity="0.6"/>
<rect x="161.8" y="386.4" width="0.9" height="0.9" fill="#555" opacity="0.6"/>
<rect x="166.1" y="389.6" width="0.9" height="0.9" fill="#555" opacity="0.6"/>
<rect x="157.3" y="387.0" width="0.9" height="0.9" fill="#000" opacity="0.6"/>
<rect x="167.5" y="385.8" width="0.9" height="0.9" fill="#000" opacity="0.6"/>
<rect x="162.0" y="389.2" width="0.9" height="0.9" fill="#000" opacity="0.6"/>
<rect x="160.0" y="386.3" width="0.9" height="0.9" fill="#555" opacity="0.6"/>
<rect x="160.3" y="389.6" width="0.9" height="0.9" fill="#555" opacity="0.6"/>
<rect x="166.4" y="394.2" width="0.9" height="0.9" fill="#000" opacity="0.6"/>
<rect x="167.6" y="396.0" width="0.9" height="0.9" fill="#555" opacity="0.6"/>
<rect x="155.7" y="394.0" width="0.9" height="0.9" fill="#000" opacity="0.6"/>
<rect x="156.2" y="385.8" width="0.9" height="0.9" fill="#555" opacity="0.6"/>
<rect x="151.0" y="385.9" width="0.9" height="0.9" fill="#000" opacity="0.6"/>
<rect x="154.3" y="391.0" width="0.9" height="0.9" fill="#000" opacity="0.6"/>
<rect x="162.4" y="390.5" width="0.9" height="0.9" fill="#000" opacity="0.6"/>
<rect x="167.0" y="394.3" width="0.9" height="0.9" fill="#555" opacity="0.6"/>
<rect x="163.9" y="395.5" width="0.9" height="0.9" fill="#555" opacity="0.6"/>
<rect x="155.3" y="386.3" width="0.9" height="0.9" fill="#555" opacity="0.6"/>
<rect x="152.4" y="384.0" width="0.9" height="0.9" fill="#000" opacity="0.6"/>
<rect x="164.4" y="386.8" width="0.9" height="0.9" fill="#000" opacity="0.6"/>
<rect x="153.1" y="397.8" width="0.9" height="0.9" fill="#000" opacity="0.6"/>
<rect x="161.9" y="389.1" width="0.9" height="0.9" fill="#555" opacity="0.6"/>
<rect x="153.3" y="398.1" width="0.9" height="0.9" fill="#000" opacity="0.6"/>
<rect x="165.6" y="397.8" width="0.9" height="0.9" fill="#000" opacity="0.6"/>
<rect x="165.2" y="384.9" width="0.9" height="0.9" fill="#000" opacity="0.6"/>
<rect x="155.5" y="394.5" width="0.9" height="0.9" fill="#000" opacity="0.6"/>
<rect x="160.9" y="391.3" width="0.9" height="0.9" fill="#000" opacity="0.6"/>
<rect x="154.4" y="391.1" width="0.9" height="0.9" fill="#000" opacity="0.6"/>
<rect x="158.1" y="393.8" width="0.9" height="0.9" fill="#000" opacity="0.6"/>
<rect x="153.9" y="385.5" width="0.9" height="0.9" fill="#000" opacity="0.6"/>
<rect x="163.0" y="393.3" width="0.9" height="0.9" fill="#000" opacity="0.6"/>
<rect x="151.6" y="389.4" width="0.9" height="0.9" fill="#000" opacity="0.6"/>
<rect x="152.4" y="391.2" width="0.9" height="0.9" fill="#000" opacity="0.6"/>
<rect x="165.7" y="397.2" width="0.9" height="0.9" fill="#555" opacity="0.6"/>
<rect x="155.2" y="383.7" width="0.9" height="0.9" fill="#555" opacity="0.6"/>
<rect x="166.5" y="392.1" width="0.9" height="0.9" fill="#000" opacity="0.6"/>
<rect x="165.1" y="393.6" width="0.9" height="0.9" fill="#555" opacity="0.6"/>
<rect x="159.8" y="387.3" width="0.9" height="0.9" fill="#000" opacity="0.6"/>
<rect x="157.4" y="393.9" width="0.9" height="0.9" fill="#000" opacity="0.6"/>
<rect x="151.9" y="392.0" width="0.9" height="0.9" fill="#000" opacity="0.6"/>
<rect x="155.4" y="396.2" width="0.9" height="0.9" fill="#000" opacity="0.6"/>
<rect x="165.2" y="384.7" width="0.9" height="0.9" fill="#555" opacity="0.6"/>
<rect x="151.9" y="383.0" width="0.9" height="0.9" fill="#000" opacity="0.6"/>
<rect x="168.7" y="396.3" width="0.9" height="0.9" fill="#555" opacity="0.6"/>
<rect x="155.7" y="384.3" width="0.9" height="0.9" fill="#000" opacity="0.6"/>
<rect x="165.3" y="386.7" width="0.9" height="0.9" fill="#000" opacity="0.6"/>
<rect x="158.0" y="384.6" width="0.9" height="0.9" fill="#000" opacity="0.6"/>
<rect x="158.9" y="393.9" width="0.9" height="0.9" fill="#000" opacity="0.6"/>
<rect x="166.7" y="397.1" width="0.9" height="0.9" fill="#555" opacity="0.6"/>
<rect x="165.5" y="393.4" width="0.9" height="0.9" fill="#000" opacity="0.6"/>
<rect x="158.5" y="384.7" width="0.9" height="0.9" fill="#000" opacity="0.6"/>
<rect x="155.2" y="393.4" width="0.9" height="0.9" fill="#000" opacity="0.6"/>
<rect x="155.5" y="392.2" width="0.9" height="0.9" fill="#000" opacity="0.6"/>
<rect x="160.1" y="396.4" width="0.9" height="0.9" fill="#000" opacity="0.6"/>
<rect x="155.2" y="384.0" width="0.9" height="0.9" fill="#000" opacity="0.6"/>
<rect x="153.6" y="393.7" width="0.9" height="0.9" fill="#000" opacity="0.6"/>
<rect x="154.7" y="384.5" width="0.9" height="0.9" fill="#000" opacity="0.6"/>
<rect x="156.6" y="391.2" width="0.9" height="0.9" fill="#000" opacity="0.6"/>
<rect x="162.9" y="388.2" width="0.9" height="0.9" fill="#000" opacity="0.6"/>
<rect x="157.6" y="387.5" width="0.9" height="0.9" fill="#000" opacity="0.6"/>
<rect x="155.8" y="395.0" width="0.9" height="0.9" fill="#555" opacity="0.6"/>
<rect x="155.6" y="385.6" width="0.9" height="0.9" fill="#000" opacity="0.6"/>
<rect x="157.3" y="396.0" width="0.9" height="0.9" fill="#555" opacity="0.6"/>
<rect x="160.1" y="382.7" width="0.9" height="0.9" fill="#555" opacity="0.6"/>
<rect x="162.7" y="394.3" width="0.9" height="0.9" fill="#555" opacity="0.6"/>
<rect x="164.1" y="390.7" width="0.9" height="0.9" fill="#555" opacity="0.6"/>
<rect x="165.8" y="398.1" width="0.9" height="0.9" fill="#555" opacity="0.6"/>
<rect x="164.5" y="391.2" width="0.9" height="0.9" fill="#000" opacity="0.6"/>
<rect x="160.5" y="385.3" width="0.9" height="0.9" fill="#555" opacity="0.6"/>
<rect x="167.2" y="389.8" width="0.9" height="0.9" fill="#555" opacity="0.6"/>
<rect x="167.4" y="389.2" width="0.9" height="0.9" fill="#555" opacity="0.6"/>
<rect x="152.5" y="386.3" width="0.9" height="0.9" fill="#000" opacity="0.6"/>
<rect x="156.1" y="389.9" width="0.9" height="0.9" fill="#000" opacity="0.6"/>
<rect x="153.8" y="395.5" width="0.9" height="0.9" fill="#000" opacity="0.6"/>
<rect x="159.4" y="385.0" width="0.9" height="0.9" fill="#555" opacity="0.6"/>
<rect x="156.7" y="390.5" width="0.9" height="0.9" fill="#000" opacity="0.6"/>
<rect x="153.0" y="395.2" width="0.9" height="0.9" fill="#000" opacity="0.6"/>
<rect x="150.4" y="390.6" width="0.9" height="0.9" fill="#000" opacity="0.6"/>
<rect x="159.2" y="391.9" width="0.9" height="0.9" fill="#000" opacity="0.6"/>
<rect x="154.1" y="394.8" width="0.9" height="0.9" fill="#000" opacity="0.6"/>
<rect x="154.6" y="395.0" width="0.9" height="0.9" fill="#000" opacity="0.6"/>
<rect x="158.6" y="392.3" width="0.9" height="0.9" fill="#000" opacity="0.6"/>
<rect x="157.3" y="389.8" width="0.9" height="0.9" fill="#000" opacity="0.6"/>
<rect x="158.3" y="387.3" width="0.9" height="0.9" fill="#000" opacity="0.6"/>
<rect x="160.4" y="388.8" width="0.9" height="0.9" fill="#000" opacity="0.6"/>
<rect x="166.6" y="383.4" width="0.9" height="0.9" fill="#000" opacity="0.6"/>
<rect x="154.5" y="383.0" width="0.9" height="0.9" fill="#555" opacity="0.6"/>
<rect x="155.6" y="385.9" width="0.9" height="0.9" fill="#000" opacity="0.6"/>
<rect x="152.7" y="384.9" width="0.9" height="0.9" fill="#000" opacity="0.6"/>
<rect x="168.5" y="393.5" width="0.9" height="0.9" fill="#555" opacity="0.6"/>
<rect x="158.8" y="392.5" width="0.9" height="0.9" fill="#555" opacity="0.6"/>
<rect x="167.8" y="393.8" width="0.9" height="0.9" fill="#555" opacity="0.6"/>
<rect x="160.1" y="386.9" width="0.9" height="0.9" fill="#000" opacity="0.6"/>
<rect x="166.9" y="390.1" width="0.9" height="0.9" fill="#555" opacity="0.6"/>
<rect x="152.5" y="390.5" width="0.9" height="0.9" fill="#000" opacity="0.6"/>
<rect x="161.1" y="390.0" width="0.9" height="0.9" fill="#000" opacity="0.6"/>
<rect x="154.1" y="390.0" width="0.9" height="0.9" fill="#555" opacity="0.6"/>
<rect x="158.8" y="382.9" width="0.9" height="0.9" fill="#000" opacity="0.6"/>
<rect x="163.0" y="389.7" width="0.9" height="0.9" fill="#000" opacity="0.6"/>
<rect x="163.3" y="397.0" width="0.9" height="0.9" fill="#000" opacity="0.6"/>
<rect x="163.7" y="391.2" width="0.9" height="0.9" fill="#555" opacity="0.6"/>
<rect x="156.1" y="395.5" width="0.9" height="0.9" fill="#000" opacity="0.6"/>
<rect x="152.4" y="390.4" width="0.9" height="0.9" fill="#000" opacity="0.6"/>
<rect x="167.7" y="384.7" width="0.9" height="0.9" fill="#555" opacity="0.6"/>
<rect x="152.6" y="396.8" width="0.9" height="0.9" fill="#000" opacity="0.6"/>
<rect x="154.4" y="391.5" width="0.9" height="0.9" fill="#000" opacity="0.6"/>
<rect x="157.1" y="386.3" width="0.9" height="0.9" fill="#555" opacity="0.6"/>
<rect x="155.9" y="391.7" width="0.9" height="0.9" fill="#000" opacity="0.6"/>
<rect x="162.1" y="396.3" width="0.9" height="0.9" fill="#555" opacity="0.6"/>
<rect x="156.0" y="388.6" width="0.9" height="0.9" fill="#000" opacity="0.6"/>
<rect x="153.3" y="393.8" width="0.9" height="0.9" fill="#000" opacity="0.6"/>
<rect x="155.8" y="393.7" width="0.9" height="0.9" fill="#000" opacity="0.6"/>
<rect x="152.2" y="391.7" width="0.9" height="0.9" fill="#000" opacity="0.6"/>
<rect x="160.2" y="397.7" width="0.9" height="0.9" fill="#000" opacity="0.6"/>
<rect x="156.2" y="391.2" width="0.9" height="0.9" fill="#000" opacity="0.6"/>
<rect x="153.4" y="387.3" width="0.9" height="0.9" fill="#000" opacity="0.6"/>
<rect x="152.7" y="385.0" width="0.9" height="0.9" fill="#555" opacity="0.6"/>
<rect x="167.0" y="389.0" width="0.9" height="0.9" fill="#000" opacity="0.6"/>
<rect x="160.5" y="395.3" width="0.9" height="0.9" fill="#000" opacity="0.6"/>
<rect x="158.9" y="386.8" width="0.9" height="0.9" fill="#000" opacity="0.6"/>
<rect x="165.8" y="396.0" width="0.9" height="0.9" fill="#555" opacity="0.6"/>
<rect x="153.3" y="394.9" width="0.9" height="0.9" fill="#000" opacity="0.6"/>
<rect x="155.0" y="389.6" width="0.9" height="0.9" fill="#000" opacity="0.6"/>
<rect x="156.8" y="396.1" width="0.9" height="0.9" fill="#000" opacity="0.6"/>
<rect x="152.6" y="386.5" width="0.9" height="0.9" fill="#000" opacity="0.6"/>
<rect x="158.3" y="387.4" width="0.9" height="0.9" fill="#555" opacity="0.6"/>
<rect x="156.8" y="388.9" width="0.9" height="0.9" fill="#000" opacity="0.6"/>
<rect x="167.8" y="398.3" width="0.9" height="0.9" fill="#555" opacity="0.6"/>
<rect x="152.8" y="387.2" width="0.9" height="0.9" fill="#000" opacity="0.6"/>
<rect x="163.3" y="386.2" width="0.9" height="0.9" fill="#000" opacity="0.6"/>
<rect x="153.3" y="395.5" width="0.9" height="0.9" fill="#000" opacity="0.6"/>
<rect x="162.2" y="395.9" width="0.9" height="0.9" fill="#000" opacity="0.6"/>
<rect x="157.0" y="396.1" width="0.9" height="0.9" fill="#000" opacity="0.6"/>
<rect x="159.5" y="388.5" width="0.9" height="0.9" fill="#555" opacity="0.6"/>
<rect x="166.1" y="394.8" width="0.9" height="0.9" fill="#555" opacity="0.6"/>
<rect x="160.4" y="387.0" width="0.9" height="0.9" fill="#555" opacity="0.6"/>
<rect x="165.2" y="389.7" width="0.9" height="0.9" fill="#555" opacity="0.6"/>
<rect x="164.9" y="391.6" width="0.9" height="0.9" fill="#000" opacity="0.6"/>
<rect x="153.4" y="394.3" width="0.9" height="0.9" fill="#000" opacity="0.6"/>
<rect x="167.3" y="393.7" width="0.9" height="0.9" fill="#000" opacity="0.6"/>
<rect x="152.7" y="395.2" width="0.9" height="0.9" fill="#000" opacity="0.6"/>
<rect x="164.9" y="386.5" width="0.9" height="0.9" fill="#000" opacity="0.6"/>
<rect x="151.9" y="385.5" width="0.9" height="0.9" fill="#000" opacity="0.6"/>
<rect x="168.0" y="384.1" width="0.9" height="0.9" fill="#555" opacity="0.6"/>
<rect x="157.5" y="396.7" width="0.9" height="0.9" fill="#000" opacity="0.6"/>
<rect x="153.5" y="394.5" width="0.9" height="0.9" fill="#000" opacity="0.6"/>
<rect x="162.7" y="397.5" width="0.9" height="0.9" fill="#000" opacity="0.6"/>
<rect x="168.4" y="384.6" width="0.9" height="0.9" fill="#555" opacity="0.6"/>
<rect x="168.3" y="391.7" width="0.9" height="0.9" fill="#555" opacity="0.6"/>
<rect x="151.4" y="397.5" width="0.9" height="0.9" fill="#000" opacity="0.6"/>
<rect x="155.8" y="388.9" width="0.9" height="0.9" fill="#555" opacity="0.6"/>
<rect x="160.0" y="384.8" width="0.9" height="0.9" fill="#555" opacity="0.6"/>
<rect x="166.1" y="389.5" width="0.9" height="0.9" fill="#555" opacity="0.6"/>
<rect x="153.5" y="389.1" width="0.9" height="0.9" fill="#000" opacity="0.6"/>
<rect x="155.1" y="396.2" width="0.9" height="0.9" fill="#555" opacity="0.6"/>
<rect x="158.6" y="388.1" width="0.9" height="0.9" fill="#555" opacity="0.6"/>
<rect x="151.7" y="393.7" width="0.9" height="0.9" fill="#000" opacity="0.6"/>
<rect x="162.5" y="391.0" width="0.9" height="0.9" fill="#000" opacity="0.6"/>
<rect x="162.2" y="385.5" width="0.9" height="0.9" fill="#555" opacity="0.6"/>
<rect x="160.3" y="390.4" width="0.9" height="0.9" fill="#000" opacity="0.6"/>
<rect x="165.0" y="396.4" width="0.9" height="0.9" fill="#555" opacity="0.6"/>
<rect x="153.9" y="393.6" width="0.9" height="0.9" fill="#000" opacity="0.6"/>
<rect x="167.1" y="385.4" width="0.9" height="0.9" fill="#000" opacity="0.6"/>
<rect x="163.9" y="384.4" width="0.9" height="0.9" fill="#000" opacity="0.6"/>
<rect x="160.7" y="397.7" width="0.9" height="0.9" fill="#000" opacity="0.6"/>
<rect x="165.3" y="386.3" width="0.9" height="0.9" fill="#000" opacity="0.6"/>
<rect x="158.0" y="393.6" width="0.9" height="0.9" fill="#000" opacity="0.6"/>
<rect x="163.8" y="394.4" width="0.9" height="0.9" fill="#555" opacity="0.6"/>
<rect x="158.4" y="388.3" width="0.9" height="0.9" fill="#000" opacity="0.6"/>
<rect x="163.1" y="394.5" width="0.9" height="0.9" fill="#555" opacity="0.6"/>
<rect x="154.1" y="387.2" width="0.9" height="0.9" fill="#000" opacity="0.6"/>
<rect x="166.9" y="382.2" width="0.9" height="0.9" fill="#000" opacity="0.6"/>
<rect x="152.2" y="384.6" width="0.9" height="0.9" fill="#000" opacity="0.6"/>
<rect x="153.1" y="387.8" width="0.9" height="0.9" fill="#000" opacity="0.6"/>
<rect x="154.9" y="389.5" width="0.9" height="0.9" fill="#000" opacity="0.6"/>
<rect x="159.9" y="392.0" width="0.9" height="0.9" fill="#000" opacity="0.6"/>
<rect x="160.8" y="387.6" width="0.9" height="0.9" fill="#000" opacity="0.6"/>
<rect x="157.3" y="397.3" width="0.9" height="0.9" fill="#000" opacity="0.6"/>
<rect x="168.2" y="389.1" width="0.9" height="0.9" fill="#555" opacity="0.6"/>
<rect x="155.8" y="389.7" width="0.9" height="0.9" fill="#000" opacity="0.6"/>
<rect x="155.8" y="395.2" width="0.9" height="0.9" fill="#555" opacity="0.6"/>
<rect x="158.0" y="386.5" width="0.9" height="0.9" fill="#000" opacity="0.6"/>
<rect x="164.5" y="390.3" width="0.9" height="0.9" fill="#555" opacity="0.6"/>
<rect x="163.8" y="397.4" width="0.9" height="0.9" fill="#555" opacity="0.6"/>
<rect x="152.2" y="383.0" width="0.9" height="0.9" fill="#000" opacity="0.6"/>
<rect x="166.3" y="386.8" width="0.9" height="0.9" fill="#555" opacity="0.6"/>
<rect x="151.9" y="386.6" width="0.9" height="0.9" fill="#000" opacity="0.6"/>
<rect x="160.1" y="390.6" width="0.9" height="0.9" fill="#000" opacity="0.6"/>
<rect x="153.6" y="386.3" width="0.9" height="0.9" fill="#000" opacity="0.6"/>
<rect x="161.5" y="382.5" width="0.9" height="0.9" fill="#555" opacity="0.6"/>
<rect x="154.6" y="397.1" width="0.9" height="0.9" fill="#000" opacity="0.6"/>
<rect x="151.8" y="396.0" width="0.9" height="0.9" fill="#000" opacity="0.6"/>
<rect x="156.5" y="385.5" width="0.9" height="0.9" fill="#000" opacity="0.6"/>
<rect x="151.5" y="388.6" width="0.9" height="0.9" fill="#000" opacity="0.6"/>
<rect x="159.7" y="392.9" width="0.9" height="0.9" fill="#000" opacity="0.6"/>
<rect x="167.2" y="391.3" width="0.9" height="0.9" fill="#000" opacity="0.6"/>
<rect x="157.7" y="391.5" width="0.9" height="0.9" fill="#000" opacity="0.6"/>
<rect x="156.8" y="394.5" width="0.9" height="0.9" fill="#000" opacity="0.6"/>
<rect x="151.1" y="387.4" width="0.9" height="0.9" fill="#000" opacity="0.6"/>
<rect x="157.4" y="387.5" width="0.9" height="0.9" fill="#000" opacity="0.6"/>
<rect x="162.8" y="395.9" width="0.9" height="0.9" fill="#000" opacity="0.6"/>
<rect x="166.4" y="387.1" width="0.9" height="0.9" fill="#555" opacity="0.6"/>
<rect x="163.6" y="385.0" width="0.9" height="0.9" fill="#000" opacity="0.6"/>
<rect x="164.8" y="385.8" width="0.9" height="0.9" fill="#555" opacity="0.6"/>
<rect x="157.6" y="386.8" width="0.9" height="0.9" fill="#000" opacity="0.6"/>
<rect x="160.6" y="386.2" width="0.9" height="0.9" fill="#000" opacity="0.6"/>
<rect x="162.1" y="396.9" width="0.9" height="0.9" fill="#000" opacity="0.6"/>
<rect x="159.1" y="386.2" width="0.9" height="0.9" fill="#000" opacity="0.6"/>
<rect x="165.0" y="394.4" width="0.9" height="0.9" fill="#000" opacity="0.6"/>
<rect x="157.9" y="398.1" width="0.9" height="0.9" fill="#000" opacity="0.6"/>
<rect x="154.4" y="386.1" width="0.9" height="0.9" fill="#555" opacity="0.6"/>
<rect x="152.0" y="397.7" width="0.9" height="0.9" fill="#000" opacity="0.6"/>
<rect x="157.2" y="383.6" width="0.9" height="0.9" fill="#000" opacity="0.6"/>
<rect x="156.6" y="385.5" width="0.9" height="0.9" fill="#000" opacity="0.6"/>
<rect x="151.5" y="389.5" width="0.9" height="0.9" fill="#000" opacity="0.6"/>
<rect x="151.1" y="385.8" width="0.9" height="0.9" fill="#000" opacity="0.6"/>
<rect x="158.7" y="385.4" width="0.9" height="0.9" fill="#000" opacity="0.6"/>
<rect x="166.9" y="388.9" width="0.9" height="0.9" fill="#000" opacity="0.6"/>
<rect x="158.6" y="387.3" width="0.9" height="0.9" fill="#000" opacity="0.6"/>
<rect x="166.2" y="390.5" width="0.9" height="0.9" fill="#000" opacity="0.6"/>
<rect x="160.2" y="387.9" width="0.9" height="0.9" fill="#000" opacity="0.6"/>
<rect x="152.5" y="391.6" width="0.9" height="0.9" fill="#000" opacity="0.6"/>
<rect x="161.3" y="396.4" width="0.9" height="0.9" fill="#555" opacity="0.6"/>
<rect x="157.6" y="392.4" width="0.9" height="0.9" fill="#555" opacity="0.6"/>
<rect x="155.8" y="390.1" width="0.9" height="0.9" fill="#000" opacity="0.6"/>
<rect x="166.4" y="392.3" width="0.9" height="0.9" fill="#555" opacity="0.6"/>
<rect x="167.9" y="383.5" width="0.9" height="0.9" fill="#000" opacity="0.6"/>
<rect x="165.0" y="396.8" width="0.9" height="0.9" fill="#555" opacity="0.6"/>
<rect x="159.9" y="393.6" width="0.9" height="0.9" fill="#555" opacity="0.6"/>
<rect x="154.8" y="396.7" width="0.9" height="0.9" fill="#000" opacity="0.6"/>
<rect x="159.6" y="388.3" width="0.9" height="0.9" fill="#000" opacity="0.6"/>
<rect x="154.4" y="395.5" width="0.9" height="0.9" fill="#000" opacity="0.6"/>
<rect x="162.1" y="385.5" width="0.9" height="0.9" fill="#555" opacity="0.6"/>
<rect x="160.5" y="389.6" width="0.9" height="0.9" fill="#555" opacity="0.6"/>
<rect x="159.1" y="394.9" width="0.9" height="0.9" fill="#555" opacity="0.6"/>
<rect x="159.4" y="388.8" width="0.9" height="0.9" fill="#555" opacity="0.6"/>
<rect x="152.2" y="384.1" width="0.9" height="0.9" fill="#000" opacity="0.6"/>
<rect x="154.4" y="386.6" width="0.9" height="0.9" fill="#000" opacity="0.6"/>
<rect x="153.5" y="389.2" width="0.9" height="0.9" fill="#000" opacity="0.6"/>
<rect x="161.0" y="392.9" width="0.9" height="0.9" fill="#000" opacity="0.6"/>
<rect x="154.2" y="388.7" width="0.9" height="0.9" fill="#000" opacity="0.6"/>
<rect x="151.8" y="386.6" width="0.9" height="0.9" fill="#000" opacity="0.6"/>
<rect x="160.8" y="385.7" width="0.9" height="0.9" fill="#000" opacity="0.6"/>
<rect x="160.0" y="387.8" width="0.9" height="0.9" fill="#000" opacity="0.6"/>
<rect x="151.4" y="384.4" width="0.9" height="0.9" fill="#000" opacity="0.6"/>
<rect x="152.0" y="386.7" width="0.9" height="0.9" fill="#000" opacity="0.6"/>
<rect x="161.9" y="396.1" width="0.9" height="0.9" fill="#555" opacity="0.6"/>
<rect x="164.7" y="391.6" width="0.9" height="0.9" fill="#000" opacity="0.6"/>
<rect x="153.8" y="395.1" width="0.9" height="0.9" fill="#000" opacity="0.6"/>
<rect x="155.6" y="384.4" width="0.9" height="0.9" fill="#000" opacity="0.6"/>
<rect x="166.9" y="398.0" width="0.9" height="0.9" fill="#000" opacity="0.6"/>
<rect x="167.2" y="394.3" width="0.9" height="0.9" fill="#555" opacity="0.6"/>
<rect x="166.9" y="386.9" width="0.9" height="0.9" fill="#555" opacity="0.6"/>
<rect x="155.2" y="395.8" width="0.9" height="0.9" fill="#000" opacity="0.6"/>
<rect x="151.1" y="389.7" width="0.9" height="0.9" fill="#000" opacity="0.6"/>
<rect x="168.5" y="388.7" width="0.9" height="0.9" fill="#555" opacity="0.6"/>
<rect x="159.2" y="392.5" width="0.9" height="0.9" fill="#555" opacity="0.6"/>
<rect x="151.9" y="394.6" width="0.9" height="0.9" fill="#000" opacity="0.6"/>
<rect x="159.9" y="388.4" width="0.9" height="0.9" fill="#555" opacity="0.6"/>
<rect x="161.4" y="388.2" width="0.9" height="0.9" fill="#000" opacity="0.6"/>
<rect x="156.8" y="384.8" width="0.9" height="0.9" fill="#000" opacity="0.6"/>
<rect x="160.9" y="390.2" width="0.9" height="0.9" fill="#000" opacity="0.6"/>
<rect x="155.9" y="394.9" width="0.9" height="0.9" fill="#000" opacity="0.6"/>
<rect x="154.7" y="387.1" width="0.9" height="0.9" fill="#000" opacity="0.6"/>
<rect x="160.2" y="388.9" width="0.9" height="0.9" fill="#000" opacity="0.6"/>
<rect x="154.3" y="383.7" width="0.9" height="0.9" fill="#000" opacity="0.6"/>
<rect x="161.0" y="393.7" width="0.9" height="0.9" fill="#555" opacity="0.6"/>
<rect x="167.3" y="386.8" width="0.9" height="0.9" fill="#000" opacity="0.6"/>
<rect x="154.9" y="388.4" width="0.9" height="0.9" fill="#000" opacity="0.6"/>
<rect x="164.6" y="398.5" width="0.9" height="0.9" fill="#555" opacity="0.6"/>
<rect x="165.7" y="395.5" width="0.9" height="0.9" fill="#555" opacity="0.6"/>
<rect x="154.9" y="393.9" width="0.9" height="0.9" fill="#000" opacity="0.6"/>
<rect x="166.8" y="395.2" width="0.9" height="0.9" fill="#555" opacity="0.6"/>
<rect x="159.5" y="384.5" width="0.9" height="0.9" fill="#000" opacity="0.6"/>
<rect x="156.5" y="390.9" width="0.9" height="0.9" fill="#000" opacity="0.6"/>
<rect x="153.9" y="385.1" width="0.9" height="0.9" fill="#000" opacity="0.6"/>
<rect x="158.8" y="383.4" width="0.9" height="0.9" fill="#555" opacity="0.6"/>
<rect x="162.1" y="390.4" width="0.9" height="0.9" fill="#555" opacity="0.6"/>
<rect x="153.0" y="397.5" width="0.9" height="0.9" fill="#000" opacity="0.6"/>
<rect x="163.4" y="387.8" width="0.9" height="0.9" fill="#555" opacity="0.6"/>
<rect x="152.2" y="391.8" width="0.9" height="0.9" fill="#000" opacity="0.6"/>
<rect x="152.6" y="387.1" width="0.9" height="0.9" fill="#000" opacity="0.6"/>
<rect x="160.0" y="386.7" width="0.9" height="0.9" fill="#555" opacity="0.6"/>
<rect x="160.2" y="395.8" width="0.9" height="0.9" fill="#000" opacity="0.6"/>
<rect x="162.6" y="391.7" width="0.9" height="0.9" fill="#555" opacity="0.6"/>
<rect x="153.5" y="393.2" width="0.9" height="0.9" fill="#555" opacity="0.6"/>
<rect x="165.1" y="395.6" width="0.9" height="0.9" fill="#555" opacity="0.6"/>
<rect x="169.3" y="387.2" width="0.9" height="0.9" fill="#555" opacity="0.6"/>
<rect x="155.7" y="396.6" width="0.9" height="0.9" fill="#000" opacity="0.6"/>
<rect x="163.4" y="395.3" width="0.9" height="0.9" fill="#555" opacity="0.6"/>
<rect x="156.7" y="383.0" width="0.9" height="0.9" fill="#000" opacity="0.6"/>
<rect x="158.0" y="383.9" width="0.9" height="0.9" fill="#000" opacity="0.6"/>
<rect x="163.7" y="396.2" width="0.9" height="0.9" fill="#000" opacity="0.6"/>
<rect x="169.3" y="397.3" width="0.9" height="0.9" fill="#555" opacity="0.6"/>
<rect x="167.6" y="391.4" width="0.9" height="0.9" fill="#555" opacity="0.6"/>
<rect x="158.5" y="391.4" width="0.9" height="0.9" fill="#000" opacity="0.6"/>
<rect x="155.5" y="393.4" width="0.9" height="0.9" fill="#555" opacity="0.6"/>
<rect x="163.8" y="393.9" width="0.9" height="0.9" fill="#000" opacity="0.6"/>
<rect x="167.7" y="384.3" width="0.9" height="0.9" fill="#000" opacity="0.6"/>
<rect x="157.8" y="397.8" width="0.9" height="0.9" fill="#000" opacity="0.6"/>
<rect x="152.8" y="389.7" width="0.9" height="0.9" fill="#000" opacity="0.6"/>
<rect x="157.2" y="393.1" width="0.9" height="0.9" fill="#000" opacity="0.6"/>
<rect x="161.6" y="397.8" width="0.9" height="0.9" fill="#000" opacity="0.6"/>
<rect x="158.7" y="386.3" width="0.9" height="0.9" fill="#000" opacity="0.6"/>
<rect x="150.7" y="338.4" width="33.20000000000002" height="43.60000000000002" fill="none" stroke="#808080" stroke-width="0.9"/>
<line x1="150.7" y1="338.7" x2="183.9" y2="338.7" stroke="#a0a0a0" stroke-width="1.6"/>
<text x="167.4" y="348.7" font-size="9.2" text-anchor="middle" fill="#111" style="stroke-width:0.55px">4.0%</text>
<rect x="118.5" y="341.0745" width="2.2" height="1.6" fill="#888"/>
<rect x="120.4" y="340.0745" width="1" height="1" fill="#999"/>
<rect x="123.8" y="341.4745" width="1.4" height="1.2" fill="#666"/>
<rect x="118.5" y="350.572" width="2.2" height="1.6" fill="#888"/>
<rect x="120.4" y="349.572" width="1" height="1" fill="#999"/>
<rect x="123.8" y="350.972" width="1.4" height="1.2" fill="#666"/>
<rect x="118.5" y="367.73299999999995" width="2.2" height="1.6" fill="#888"/>
<rect x="120.4" y="366.73299999999995" width="1" height="1" fill="#999"/>
<rect x="123.8" y="368.1329999999999" width="1.4" height="1.2" fill="#666"/>
<rect x="118.5" y="383.51849999999996" width="2.2" height="1.6" fill="#888"/>
<rect x="120.4" y="382.51849999999996" width="1" height="1" fill="#999"/>
<rect x="123.8" y="383.91849999999994" width="1.4" height="1.2" fill="#666"/>
<rect x="118.5" y="389.60999999999996" width="2.2" height="1.6" fill="#888"/>
<rect x="120.4" y="388.60999999999996" width="1" height="1" fill="#999"/>
<rect x="123.8" y="390.00999999999993" width="1.4" height="1.2" fill="#222"/>
<rect x="118.5" y="398.1905" width="2.2" height="1.6" fill="#888"/>
<rect x="120.4" y="397.1905" width="1" height="1" fill="#999"/>
<rect x="123.8" y="398.59049999999996" width="1.4" height="1.2" fill="#666"/>
<rect x="135.35479999999998" y="402.59999999999997" width="2.2" height="1.8" fill="#111"/>
<rect x="135.1548" y="407.4" width="2" height="1.6" fill="#999"/>
<rect x="143.12079999999997" y="402.59999999999997" width="1.3" height="1.2" fill="#777"/>
<rect x="160.0648" y="402.59999999999997" width="1.3" height="1.2" fill="#777"/>
<rect x="159.8648" y="407.4" width="2" height="1.6" fill="#999"/>
<rect x="173.97299999999998" y="402.59999999999997" width="1.3" height="1.2" fill="#777"/>
<rect x="173.773" y="407.4" width="2" height="1.6" fill="#999"/>
<rect x="188.65779999999998" y="402.59999999999997" width="1.3" height="1.2" fill="#777"/>
<rect x="188.4578" y="407.4" width="2" height="1.6" fill="#999"/>
<text x="37" y="306" font-size="9" text-anchor="start" fill="#111">CD19</text>
<line x1="63" y1="302.4" x2="186" y2="302.4" stroke="#333" stroke-width="1"/>
<polygon points="190,302.4 185,300.6 185,304.2" fill="#111"/>
<text x="35.5" y="418.5" font-size="9" text-anchor="start" fill="#111">CD19</text>
<line x1="64.7" y1="415.8" x2="188" y2="415.8" stroke="#333" stroke-width="1"/>
<polygon points="192,415.8 187,414 187,417.6" fill="#111"/>
<text x="233.8" y="206.1" font-size="12.2" text-anchor="start" font-weight="bold" fill="#111" stroke="#000" stroke-width="0.35">D</text>
<line x1="288.6" y1="337.52" x2="438.6" y2="337.52" stroke="#e6e6e6" stroke-width="1"/>
<line x1="288.6" y1="319.54" x2="438.6" y2="319.54" stroke="#e6e6e6" stroke-width="1"/>
<line x1="288.6" y1="301.56" x2="438.6" y2="301.56" stroke="#e6e6e6" stroke-width="1"/>
<line x1="288.6" y1="283.58" x2="438.6" y2="283.58" stroke="#e6e6e6" stroke-width="1"/>
<line x1="288.6" y1="265.6" x2="438.6" y2="265.6" stroke="#e6e6e6" stroke-width="1"/>
<line x1="318.6" y1="265.6" x2="318.6" y2="355.5" stroke="#e0e0e0" stroke-width="1"/>
<line x1="348.6" y1="265.6" x2="348.6" y2="355.5" stroke="#e0e0e0" stroke-width="1"/>
<line x1="378.6" y1="265.6" x2="378.6" y2="355.5" stroke="#e0e0e0" stroke-width="1"/>
<line x1="408.6" y1="265.6" x2="408.6" y2="355.5" stroke="#e0e0e0" stroke-width="1"/>
<line x1="438.6" y1="265.6" x2="438.6" y2="355.5" stroke="#e0e0e0" stroke-width="1"/>
<line x1="288.6" y1="265" x2="288.6" y2="355.5" stroke="#666" stroke-width="1.4"/>
<line x1="288.6" y1="355.5" x2="438.6" y2="355.5" stroke="#666" stroke-width="1.4"/>
<text x="280.8" y="358.7" font-size="9" text-anchor="end" fill="#111">0</text>
<text x="280.8" y="340.71999999999997" font-size="9" text-anchor="end" fill="#111">2</text>
<text x="280.8" y="322.74" font-size="9" text-anchor="end" fill="#111">4</text>
<text x="280.8" y="304.76" font-size="9" text-anchor="end" fill="#111">6</text>
<text x="280.8" y="286.78" font-size="9" text-anchor="end" fill="#111">8</text>
<text x="280.8" y="268.8" font-size="9" text-anchor="end" fill="#111">10</text>
<text x="288.6" y="370.5" font-size="9" text-anchor="middle" fill="#111">0</text>
<text x="318.6" y="370.5" font-size="9" text-anchor="middle" fill="#111">2</text>
<text x="348.6" y="370.5" font-size="9" text-anchor="middle" fill="#111">4</text>
<text x="378.6" y="370.5" font-size="9" text-anchor="middle" fill="#111">6</text>
<text x="408.6" y="370.5" font-size="9" text-anchor="middle" fill="#111">8</text>
<text x="438.6" y="370.5" font-size="9" text-anchor="middle" fill="#111">10</text>
<text x="362.7" y="390.3" font-size="9" text-anchor="middle" fill="#111">Time post study inclusion (months)</text>
<text x="252" y="313.5" font-size="9" text-anchor="middle" fill="#111" transform="rotate(-90 252 313.5)">CD19<tspan baseline-shift="super" font-size="70%">+</tspan> IL-10<tspan baseline-shift="super" font-size="70%">+</tspan> B cell frequencies</text>
<text x="262.3" y="314" font-size="9" text-anchor="middle" fill="#111" transform="rotate(-90 262.3 314)">(% of CD19<tspan baseline-shift="super" font-size="70%">+</tspan> cells)</text>
<polyline points="288.6,323.1 423.6,282.7" fill="none" stroke="#b4b4b4" stroke-width="1.6" stroke-linejoin="round"/>
<circle cx="288.6" cy="323.1" r="2.2" fill="#b4b4b4"/>
<circle cx="423.6" cy="282.7" r="2.2" fill="#b4b4b4"/>
<polyline points="288.6,344.3 303.6,317.7 333.6,289.0 408.6,290.8" fill="none" stroke="#b4b4b4" stroke-width="1.6" stroke-linejoin="round"/>
<circle cx="288.6" cy="344.3" r="2.2" fill="#b4b4b4"/>
<circle cx="303.6" cy="317.7" r="2.2" fill="#b4b4b4"/>
<circle cx="333.6" cy="289.0" r="2.2" fill="#b4b4b4"/>
<circle cx="408.6" cy="290.8" r="2.2" fill="#b4b4b4"/>
<polyline points="288.6,346.5 363.6,304.3 423.6,270.1" fill="none" stroke="#b4b4b4" stroke-width="1.6" stroke-linejoin="round"/>
<circle cx="363.6" cy="304.3" r="2.2" fill="#b4b4b4"/>
<circle cx="423.6" cy="270.1" r="2.2" fill="#b4b4b4"/>
<polyline points="288.6,339.3 296.1,337.5 318.6,324.0 348.6,336.6" fill="none" stroke="#111" stroke-width="1.6" stroke-linejoin="round"/>
<circle cx="288.6" cy="339.3" r="2.2" fill="#111"/>
<circle cx="318.6" cy="324.0" r="2.2" fill="#111"/>
<circle cx="348.6" cy="336.6" r="2.2" fill="#111"/>
<polyline points="296.1,337.5 333.6,333.0" fill="none" stroke="#111" stroke-width="1.6" stroke-linejoin="round"/>
<circle cx="333.6" cy="333.0" r="2.2" fill="#111"/>
<polyline points="288.6,346.5 333.6,351.5" fill="none" stroke="#111" stroke-width="1.6" stroke-linejoin="round"/>
<circle cx="288.6" cy="346.5" r="2.2" fill="#111"/>
<circle cx="333.6" cy="351.5" r="2.2" fill="#111"/>
<polyline points="288.6,349.3 363.6,349.7 393.6,345.6 408.6,346.5" fill="none" stroke="#111" stroke-width="1.6" stroke-linejoin="round"/>
<circle cx="288.6" cy="349.3" r="2.2" fill="#111"/>
<circle cx="363.6" cy="349.7" r="2.2" fill="#111"/>
<circle cx="393.6" cy="345.6" r="2.2" fill="#111"/>
<circle cx="408.6" cy="346.5" r="2.2" fill="#111"/>
<line x1="449.3" y1="267.8" x2="459.4" y2="267.8" stroke="#b4b4b4" stroke-width="1.3"/>
<line x1="453.8" y1="330.2" x2="460.1" y2="330.2" stroke="#111" stroke-width="1.8"/>
<text x="466.4" y="271.7" font-size="9" text-anchor="start" fill="#111">Patients</text>
<text x="466.4" y="282.4" font-size="9" text-anchor="start" fill="#111">with partial</text>
<text x="466.4" y="293.09999999999997" font-size="9" text-anchor="start" fill="#111">remission</text>
<text x="466.4" y="303.79999999999995" font-size="9" text-anchor="start" fill="#111">over time</text>
<text x="466.4" y="331.5" font-size="9" text-anchor="start" fill="#111">Patients</text>
<text x="466.4" y="342.2" font-size="9" text-anchor="start" fill="#111">with stable or</text>
<text x="466.4" y="352.9" font-size="9" text-anchor="start" fill="#111">progressive</text>
<text x="466.4" y="363.6" font-size="9" text-anchor="start" fill="#111">disease</text>
</svg></body></html>
